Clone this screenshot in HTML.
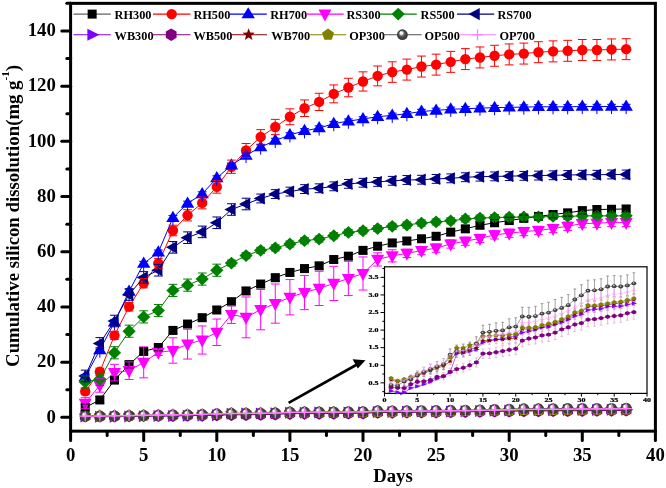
<!DOCTYPE html><html><head><meta charset="utf-8"><style>
html,body{margin:0;padding:0;background:#fff;}
body{width:666px;height:488px;overflow:hidden;position:relative;}
svg{position:absolute;left:0;top:0;will-change:transform;}
text{font-family:'Liberation Serif', serif;font-weight:bold;}
</style></head><body>
<svg width="666" height="488" viewBox="0 0 666 488">
<defs><radialGradient id="sph" cx="0.5" cy="0.5" r="0.5" fx="0.36" fy="0.28"><stop offset="0" stop-color="#ffffff"/><stop offset="0.25" stop-color="#f0f0f0"/><stop offset="0.42" stop-color="#8a8a8a"/><stop offset="0.6" stop-color="#4a4a4a"/><stop offset="1" stop-color="#333333"/></radialGradient><radialGradient id="sph2" cx="0.5" cy="0.5" r="0.5" fx="0.4" fy="0.35"><stop offset="0" stop-color="#e8e8e8"/><stop offset="0.2" stop-color="#b0b0b0"/><stop offset="0.45" stop-color="#505050"/><stop offset="1" stop-color="#2e2e2e"/></radialGradient></defs>
<rect width="666" height="488" fill="#fff"/>
<clipPath id="mc"><rect x="71" y="3" width="583" height="427"/></clipPath>
<g>
<polyline points="85.22,407.41 99.84,399.96 114.46,380.09 129.08,364.63 143.7,351.39 158.32,347.52 172.94,330.41 187.56,324.06 202.18,317.71 216.8,309.99 231.42,301.71 246.04,290.94 260.66,284.04 275.28,277.69 289.9,272.45 304.52,268.59 319.14,265.83 333.76,259.48 348.38,256.17 363,250.37 377.62,246.23 392.24,242.92 406.86,240.99 421.48,238.78 436.1,236.29 450.72,232.15 465.34,228.84 479.96,225.25 494.58,222.77 509.2,220.56 523.82,218.35 538.44,216.42 553.06,214.49 567.68,212.83 582.3,210.63 596.92,209.52 611.54,209.25 626.16,208.97" fill="none" stroke="#000000" stroke-width="1"/>
<rect x="80.72" y="402.91" width="9" height="9" fill="#000000"/>
<rect x="95.34" y="395.46" width="9" height="9" fill="#000000"/>
<rect x="109.96" y="375.59" width="9" height="9" fill="#000000"/>
<rect x="124.58" y="360.13" width="9" height="9" fill="#000000"/>
<rect x="139.2" y="346.89" width="9" height="9" fill="#000000"/>
<rect x="153.82" y="343.02" width="9" height="9" fill="#000000"/>
<rect x="168.44" y="325.91" width="9" height="9" fill="#000000"/>
<rect x="183.06" y="319.56" width="9" height="9" fill="#000000"/>
<rect x="197.68" y="313.21" width="9" height="9" fill="#000000"/>
<rect x="212.3" y="305.49" width="9" height="9" fill="#000000"/>
<rect x="226.92" y="297.21" width="9" height="9" fill="#000000"/>
<rect x="241.54" y="286.44" width="9" height="9" fill="#000000"/>
<rect x="256.16" y="279.54" width="9" height="9" fill="#000000"/>
<rect x="270.78" y="273.19" width="9" height="9" fill="#000000"/>
<rect x="285.4" y="267.95" width="9" height="9" fill="#000000"/>
<rect x="300.02" y="264.09" width="9" height="9" fill="#000000"/>
<rect x="314.64" y="261.33" width="9" height="9" fill="#000000"/>
<rect x="329.26" y="254.98" width="9" height="9" fill="#000000"/>
<rect x="343.88" y="251.67" width="9" height="9" fill="#000000"/>
<rect x="358.5" y="245.87" width="9" height="9" fill="#000000"/>
<rect x="373.12" y="241.73" width="9" height="9" fill="#000000"/>
<rect x="387.74" y="238.42" width="9" height="9" fill="#000000"/>
<rect x="402.36" y="236.49" width="9" height="9" fill="#000000"/>
<rect x="416.98" y="234.28" width="9" height="9" fill="#000000"/>
<rect x="431.6" y="231.79" width="9" height="9" fill="#000000"/>
<rect x="446.22" y="227.65" width="9" height="9" fill="#000000"/>
<rect x="460.84" y="224.34" width="9" height="9" fill="#000000"/>
<rect x="475.46" y="220.75" width="9" height="9" fill="#000000"/>
<rect x="490.08" y="218.27" width="9" height="9" fill="#000000"/>
<rect x="504.7" y="216.06" width="9" height="9" fill="#000000"/>
<rect x="519.32" y="213.85" width="9" height="9" fill="#000000"/>
<rect x="533.94" y="211.92" width="9" height="9" fill="#000000"/>
<rect x="548.56" y="209.99" width="9" height="9" fill="#000000"/>
<rect x="563.18" y="208.33" width="9" height="9" fill="#000000"/>
<rect x="577.8" y="206.13" width="9" height="9" fill="#000000"/>
<rect x="592.42" y="205.02" width="9" height="9" fill="#000000"/>
<rect x="607.04" y="204.75" width="9" height="9" fill="#000000"/>
<rect x="621.66" y="204.47" width="9" height="9" fill="#000000"/>
<polyline points="85.22,391.41 99.84,371.81 114.46,335.38 129.08,306.67 143.7,283.21 158.32,263.34 172.94,230.5 187.56,215.32 202.18,202.9 216.8,186.89 231.42,166.74 246.04,150.46 260.66,136.93 275.28,127 289.9,116.79 304.52,108.23 319.14,101.88 333.76,93.88 348.38,87.53 363,81.46 377.62,75.94 392.24,72.07 406.86,69.59 421.48,66.55 436.1,64.62 450.72,61.86 465.34,59.1 479.96,57.45 494.58,55.79 509.2,54.41 523.82,53.58 538.44,52.2 553.06,51.37 567.68,50.82 582.3,49.99 596.92,49.99 611.54,49.44 626.16,49.17" fill="none" stroke="#ff0000" stroke-width="1"/>
<circle cx="85.22" cy="391.41" r="5.2" fill="#ff0000"/>
<circle cx="99.84" cy="371.81" r="5.2" fill="#ff0000"/>
<circle cx="114.46" cy="335.38" r="5.2" fill="#ff0000"/>
<circle cx="129.08" cy="306.67" r="5.2" fill="#ff0000"/>
<circle cx="143.7" cy="283.21" r="5.2" fill="#ff0000"/>
<circle cx="158.32" cy="263.34" r="5.2" fill="#ff0000"/>
<circle cx="172.94" cy="230.5" r="5.2" fill="#ff0000"/>
<circle cx="187.56" cy="215.32" r="5.2" fill="#ff0000"/>
<circle cx="202.18" cy="202.9" r="5.2" fill="#ff0000"/>
<circle cx="216.8" cy="186.89" r="5.2" fill="#ff0000"/>
<circle cx="231.42" cy="166.74" r="5.2" fill="#ff0000"/>
<circle cx="246.04" cy="150.46" r="5.2" fill="#ff0000"/>
<circle cx="260.66" cy="136.93" r="5.2" fill="#ff0000"/>
<circle cx="275.28" cy="127" r="5.2" fill="#ff0000"/>
<circle cx="289.9" cy="116.79" r="5.2" fill="#ff0000"/>
<circle cx="304.52" cy="108.23" r="5.2" fill="#ff0000"/>
<circle cx="319.14" cy="101.88" r="5.2" fill="#ff0000"/>
<circle cx="333.76" cy="93.88" r="5.2" fill="#ff0000"/>
<circle cx="348.38" cy="87.53" r="5.2" fill="#ff0000"/>
<circle cx="363" cy="81.46" r="5.2" fill="#ff0000"/>
<circle cx="377.62" cy="75.94" r="5.2" fill="#ff0000"/>
<circle cx="392.24" cy="72.07" r="5.2" fill="#ff0000"/>
<circle cx="406.86" cy="69.59" r="5.2" fill="#ff0000"/>
<circle cx="421.48" cy="66.55" r="5.2" fill="#ff0000"/>
<circle cx="436.1" cy="64.62" r="5.2" fill="#ff0000"/>
<circle cx="450.72" cy="61.86" r="5.2" fill="#ff0000"/>
<circle cx="465.34" cy="59.1" r="5.2" fill="#ff0000"/>
<circle cx="479.96" cy="57.45" r="5.2" fill="#ff0000"/>
<circle cx="494.58" cy="55.79" r="5.2" fill="#ff0000"/>
<circle cx="509.2" cy="54.41" r="5.2" fill="#ff0000"/>
<circle cx="523.82" cy="53.58" r="5.2" fill="#ff0000"/>
<circle cx="538.44" cy="52.2" r="5.2" fill="#ff0000"/>
<circle cx="553.06" cy="51.37" r="5.2" fill="#ff0000"/>
<circle cx="567.68" cy="50.82" r="5.2" fill="#ff0000"/>
<circle cx="582.3" cy="49.99" r="5.2" fill="#ff0000"/>
<circle cx="596.92" cy="49.99" r="5.2" fill="#ff0000"/>
<circle cx="611.54" cy="49.44" r="5.2" fill="#ff0000"/>
<circle cx="626.16" cy="49.17" r="5.2" fill="#ff0000"/>
<polyline points="85.22,377 99.84,349.95 114.46,322.35 129.08,291.44 143.7,263.56 158.32,252.25 172.94,217.75 187.56,203.39 202.18,194.01 216.8,178 231.42,165.31 246.04,155.37 260.66,147.09 275.28,140.47 289.9,134.95 304.52,130.81 319.14,128.05 333.76,123.63 348.38,121.15 363,118.94 377.62,116.73 392.24,115.35 406.86,113.69 421.48,111.49 436.1,110.38 450.72,109.28 465.34,108.73 479.96,108.17 494.58,107.62 509.2,107.35 523.82,107.07 538.44,106.79 553.06,106.79 567.68,106.79 582.3,106.52 596.92,106.52 611.54,106.52 626.16,106.52" fill="none" stroke="#0000ff" stroke-width="1"/>
<polygon points="85.22,370.05 91.92,381.25 78.52,381.25" fill="#0000ff"/>
<polygon points="99.84,343.01 106.54,354.21 93.14,354.21" fill="#0000ff"/>
<polygon points="114.46,315.41 121.16,326.61 107.76,326.61" fill="#0000ff"/>
<polygon points="129.08,284.49 135.78,295.69 122.38,295.69" fill="#0000ff"/>
<polygon points="143.7,256.62 150.4,267.82 137,267.82" fill="#0000ff"/>
<polygon points="158.32,245.3 165.02,256.5 151.62,256.5" fill="#0000ff"/>
<polygon points="172.94,210.8 179.64,222 166.24,222" fill="#0000ff"/>
<polygon points="187.56,196.45 194.26,207.65 180.86,207.65" fill="#0000ff"/>
<polygon points="202.18,187.07 208.88,198.27 195.48,198.27" fill="#0000ff"/>
<polygon points="216.8,171.06 223.5,182.26 210.1,182.26" fill="#0000ff"/>
<polygon points="231.42,158.36 238.12,169.56 224.72,169.56" fill="#0000ff"/>
<polygon points="246.04,148.43 252.74,159.63 239.34,159.63" fill="#0000ff"/>
<polygon points="260.66,140.15 267.36,151.35 253.96,151.35" fill="#0000ff"/>
<polygon points="275.28,133.52 281.98,144.72 268.58,144.72" fill="#0000ff"/>
<polygon points="289.9,128 296.6,139.2 283.2,139.2" fill="#0000ff"/>
<polygon points="304.52,123.86 311.22,135.06 297.82,135.06" fill="#0000ff"/>
<polygon points="319.14,121.1 325.84,132.3 312.44,132.3" fill="#0000ff"/>
<polygon points="333.76,116.69 340.46,127.89 327.06,127.89" fill="#0000ff"/>
<polygon points="348.38,114.2 355.08,125.4 341.68,125.4" fill="#0000ff"/>
<polygon points="363,111.99 369.7,123.19 356.3,123.19" fill="#0000ff"/>
<polygon points="377.62,109.79 384.32,120.99 370.92,120.99" fill="#0000ff"/>
<polygon points="392.24,108.41 398.94,119.61 385.54,119.61" fill="#0000ff"/>
<polygon points="406.86,106.75 413.56,117.95 400.16,117.95" fill="#0000ff"/>
<polygon points="421.48,104.54 428.18,115.74 414.78,115.74" fill="#0000ff"/>
<polygon points="436.1,103.44 442.8,114.64 429.4,114.64" fill="#0000ff"/>
<polygon points="450.72,102.33 457.42,113.53 444.02,113.53" fill="#0000ff"/>
<polygon points="465.34,101.78 472.04,112.98 458.64,112.98" fill="#0000ff"/>
<polygon points="479.96,101.23 486.66,112.43 473.26,112.43" fill="#0000ff"/>
<polygon points="494.58,100.68 501.28,111.88 487.88,111.88" fill="#0000ff"/>
<polygon points="509.2,100.4 515.9,111.6 502.5,111.6" fill="#0000ff"/>
<polygon points="523.82,100.13 530.52,111.33 517.12,111.33" fill="#0000ff"/>
<polygon points="538.44,99.85 545.14,111.05 531.74,111.05" fill="#0000ff"/>
<polygon points="553.06,99.85 559.76,111.05 546.36,111.05" fill="#0000ff"/>
<polygon points="567.68,99.85 574.38,111.05 560.98,111.05" fill="#0000ff"/>
<polygon points="582.3,99.57 589,110.77 575.6,110.77" fill="#0000ff"/>
<polygon points="596.92,99.57 603.62,110.77 590.22,110.77" fill="#0000ff"/>
<polygon points="611.54,99.57 618.24,110.77 604.84,110.77" fill="#0000ff"/>
<polygon points="626.16,99.57 632.86,110.77 619.46,110.77" fill="#0000ff"/>
<polyline points="85.22,403.22 99.84,385.28 114.46,372.58 129.08,370.65 143.7,362.37 158.32,352.43 172.94,350.5 187.56,344.15 202.18,340.01 216.8,332.29 231.42,314.62 246.04,317.38 260.66,309.65 275.28,303.58 289.9,297.23 304.52,292.54 319.14,288.4 333.76,283.43 348.38,278.47 363,273.5 377.62,259.42 392.24,255.83 406.86,253.35 421.48,250.59 436.1,248.11 450.72,243.97 465.34,241.21 479.96,238.45 494.58,234.86 509.2,233.2 523.82,231.55 538.44,230.44 553.06,228.51 567.68,226.3 582.3,223.54 596.92,223.27 611.54,222.44 626.16,222.44" fill="none" stroke="#ff00ff" stroke-width="1"/>
<polygon points="78.72,398.66 91.72,398.66 85.22,410.66" fill="#ff00ff"/>
<polygon points="93.34,380.72 106.34,380.72 99.84,392.72" fill="#ff00ff"/>
<polygon points="107.96,368.02 120.96,368.02 114.46,380.02" fill="#ff00ff"/>
<polygon points="122.58,366.09 135.58,366.09 129.08,378.09" fill="#ff00ff"/>
<polygon points="137.2,357.81 150.2,357.81 143.7,369.81" fill="#ff00ff"/>
<polygon points="151.82,347.87 164.82,347.87 158.32,359.87" fill="#ff00ff"/>
<polygon points="166.44,345.94 179.44,345.94 172.94,357.94" fill="#ff00ff"/>
<polygon points="181.06,339.59 194.06,339.59 187.56,351.59" fill="#ff00ff"/>
<polygon points="195.68,335.45 208.68,335.45 202.18,347.45" fill="#ff00ff"/>
<polygon points="210.3,327.73 223.3,327.73 216.8,339.73" fill="#ff00ff"/>
<polygon points="224.92,310.06 237.92,310.06 231.42,322.06" fill="#ff00ff"/>
<polygon points="239.54,312.82 252.54,312.82 246.04,324.82" fill="#ff00ff"/>
<polygon points="254.16,305.09 267.16,305.09 260.66,317.09" fill="#ff00ff"/>
<polygon points="268.78,299.02 281.78,299.02 275.28,311.02" fill="#ff00ff"/>
<polygon points="283.4,292.67 296.4,292.67 289.9,304.67" fill="#ff00ff"/>
<polygon points="298.02,287.98 311.02,287.98 304.52,299.98" fill="#ff00ff"/>
<polygon points="312.64,283.84 325.64,283.84 319.14,295.84" fill="#ff00ff"/>
<polygon points="327.26,278.87 340.26,278.87 333.76,290.87" fill="#ff00ff"/>
<polygon points="341.88,273.91 354.88,273.91 348.38,285.91" fill="#ff00ff"/>
<polygon points="356.5,268.94 369.5,268.94 363,280.94" fill="#ff00ff"/>
<polygon points="371.12,254.86 384.12,254.86 377.62,266.86" fill="#ff00ff"/>
<polygon points="385.74,251.27 398.74,251.27 392.24,263.27" fill="#ff00ff"/>
<polygon points="400.36,248.79 413.36,248.79 406.86,260.79" fill="#ff00ff"/>
<polygon points="414.98,246.03 427.98,246.03 421.48,258.03" fill="#ff00ff"/>
<polygon points="429.6,243.55 442.6,243.55 436.1,255.55" fill="#ff00ff"/>
<polygon points="444.22,239.41 457.22,239.41 450.72,251.41" fill="#ff00ff"/>
<polygon points="458.84,236.65 471.84,236.65 465.34,248.65" fill="#ff00ff"/>
<polygon points="473.46,233.89 486.46,233.89 479.96,245.89" fill="#ff00ff"/>
<polygon points="488.08,230.3 501.08,230.3 494.58,242.3" fill="#ff00ff"/>
<polygon points="502.7,228.64 515.7,228.64 509.2,240.64" fill="#ff00ff"/>
<polygon points="517.32,226.99 530.32,226.99 523.82,238.99" fill="#ff00ff"/>
<polygon points="531.94,225.88 544.94,225.88 538.44,237.88" fill="#ff00ff"/>
<polygon points="546.56,223.95 559.56,223.95 553.06,235.95" fill="#ff00ff"/>
<polygon points="561.18,221.74 574.18,221.74 567.68,233.74" fill="#ff00ff"/>
<polygon points="575.8,218.98 588.8,218.98 582.3,230.98" fill="#ff00ff"/>
<polygon points="590.42,218.71 603.42,218.71 596.92,230.71" fill="#ff00ff"/>
<polygon points="605.04,217.88 618.04,217.88 611.54,229.88" fill="#ff00ff"/>
<polygon points="619.66,217.88 632.66,217.88 626.16,229.88" fill="#ff00ff"/>
<polyline points="85.22,382.02 99.84,379.26 114.46,352.77 129.08,331.24 143.7,316.89 158.32,310.54 172.94,290.39 187.56,285.15 202.18,279.07 216.8,270.24 231.42,263.07 246.04,255.61 260.66,250.37 275.28,247.89 289.9,244.02 304.52,240.71 319.14,239.05 333.76,235.74 348.38,232.43 363,230.77 377.62,228.57 392.24,226.36 406.86,224.98 421.48,223.05 436.1,221.94 450.72,220.84 465.34,218.91 479.96,218.08 494.58,217.53 509.2,217.25 523.82,216.97 538.44,216.97 553.06,216.42 567.68,216.42 582.3,215.87 596.92,215.87 611.54,215.87 626.16,215.87" fill="none" stroke="#008000" stroke-width="1"/>
<polygon points="85.22,375.62 91.82,382.02 85.22,388.42 78.62,382.02" fill="#008000"/>
<polygon points="99.84,372.86 106.44,379.26 99.84,385.66 93.24,379.26" fill="#008000"/>
<polygon points="114.46,346.37 121.06,352.77 114.46,359.17 107.86,352.77" fill="#008000"/>
<polygon points="129.08,324.84 135.68,331.24 129.08,337.64 122.48,331.24" fill="#008000"/>
<polygon points="143.7,310.49 150.3,316.89 143.7,323.29 137.1,316.89" fill="#008000"/>
<polygon points="158.32,304.14 164.92,310.54 158.32,316.94 151.72,310.54" fill="#008000"/>
<polygon points="172.94,283.99 179.54,290.39 172.94,296.79 166.34,290.39" fill="#008000"/>
<polygon points="187.56,278.75 194.16,285.15 187.56,291.55 180.96,285.15" fill="#008000"/>
<polygon points="202.18,272.67 208.78,279.07 202.18,285.47 195.58,279.07" fill="#008000"/>
<polygon points="216.8,263.84 223.4,270.24 216.8,276.64 210.2,270.24" fill="#008000"/>
<polygon points="231.42,256.67 238.02,263.07 231.42,269.47 224.82,263.07" fill="#008000"/>
<polygon points="246.04,249.21 252.64,255.61 246.04,262.01 239.44,255.61" fill="#008000"/>
<polygon points="260.66,243.97 267.26,250.37 260.66,256.77 254.06,250.37" fill="#008000"/>
<polygon points="275.28,241.49 281.88,247.89 275.28,254.29 268.68,247.89" fill="#008000"/>
<polygon points="289.9,237.62 296.5,244.02 289.9,250.42 283.3,244.02" fill="#008000"/>
<polygon points="304.52,234.31 311.12,240.71 304.52,247.11 297.92,240.71" fill="#008000"/>
<polygon points="319.14,232.65 325.74,239.05 319.14,245.45 312.54,239.05" fill="#008000"/>
<polygon points="333.76,229.34 340.36,235.74 333.76,242.14 327.16,235.74" fill="#008000"/>
<polygon points="348.38,226.03 354.98,232.43 348.38,238.83 341.78,232.43" fill="#008000"/>
<polygon points="363,224.37 369.6,230.77 363,237.17 356.4,230.77" fill="#008000"/>
<polygon points="377.62,222.17 384.22,228.57 377.62,234.97 371.02,228.57" fill="#008000"/>
<polygon points="392.24,219.96 398.84,226.36 392.24,232.76 385.64,226.36" fill="#008000"/>
<polygon points="406.86,218.58 413.46,224.98 406.86,231.38 400.26,224.98" fill="#008000"/>
<polygon points="421.48,216.65 428.08,223.05 421.48,229.45 414.88,223.05" fill="#008000"/>
<polygon points="436.1,215.54 442.7,221.94 436.1,228.34 429.5,221.94" fill="#008000"/>
<polygon points="450.72,214.44 457.32,220.84 450.72,227.24 444.12,220.84" fill="#008000"/>
<polygon points="465.34,212.51 471.94,218.91 465.34,225.31 458.74,218.91" fill="#008000"/>
<polygon points="479.96,211.68 486.56,218.08 479.96,224.48 473.36,218.08" fill="#008000"/>
<polygon points="494.58,211.13 501.18,217.53 494.58,223.93 487.98,217.53" fill="#008000"/>
<polygon points="509.2,210.85 515.8,217.25 509.2,223.65 502.6,217.25" fill="#008000"/>
<polygon points="523.82,210.57 530.42,216.97 523.82,223.37 517.22,216.97" fill="#008000"/>
<polygon points="538.44,210.57 545.04,216.97 538.44,223.37 531.84,216.97" fill="#008000"/>
<polygon points="553.06,210.02 559.66,216.42 553.06,222.82 546.46,216.42" fill="#008000"/>
<polygon points="567.68,210.02 574.28,216.42 567.68,222.82 561.08,216.42" fill="#008000"/>
<polygon points="582.3,209.47 588.9,215.87 582.3,222.27 575.7,215.87" fill="#008000"/>
<polygon points="596.92,209.47 603.52,215.87 596.92,222.27 590.32,215.87" fill="#008000"/>
<polygon points="611.54,209.47 618.14,215.87 611.54,222.27 604.94,215.87" fill="#008000"/>
<polygon points="626.16,209.47 632.76,215.87 626.16,222.27 619.56,215.87" fill="#008000"/>
<polyline points="85.22,375.95 99.84,343.38 114.46,321.03 129.08,294.53 143.7,277.42 158.32,270.24 172.94,247.33 187.56,237.67 202.18,231.88 216.8,222.77 231.42,209.52 246.04,204 260.66,198.48 275.28,194.07 289.9,191.58 304.52,189.1 319.14,188.27 333.76,186.34 348.38,183.85 363,182.75 377.62,181.92 392.24,180.82 406.86,179.99 421.48,179.71 436.1,178.89 450.72,178.33 465.34,177.23 479.96,176.68 494.58,176.4 509.2,176.13 523.82,175.85 538.44,175.57 553.06,175.3 567.68,175.02 582.3,174.75 596.92,174.75 611.54,174.47 626.16,174.47" fill="none" stroke="#000080" stroke-width="1"/>
<polygon points="78.16,375.95 89.36,369.85 89.36,382.05" fill="#000080"/>
<polygon points="92.78,343.38 103.98,337.28 103.98,349.48" fill="#000080"/>
<polygon points="107.4,321.03 118.6,314.93 118.6,327.13" fill="#000080"/>
<polygon points="122.02,294.53 133.22,288.43 133.22,300.63" fill="#000080"/>
<polygon points="136.64,277.42 147.84,271.32 147.84,283.52" fill="#000080"/>
<polygon points="151.26,270.24 162.46,264.14 162.46,276.34" fill="#000080"/>
<polygon points="165.88,247.33 177.08,241.23 177.08,253.43" fill="#000080"/>
<polygon points="180.5,237.67 191.7,231.57 191.7,243.77" fill="#000080"/>
<polygon points="195.12,231.88 206.32,225.78 206.32,237.98" fill="#000080"/>
<polygon points="209.74,222.77 220.94,216.67 220.94,228.87" fill="#000080"/>
<polygon points="224.36,209.52 235.56,203.42 235.56,215.62" fill="#000080"/>
<polygon points="238.98,204 250.18,197.9 250.18,210.1" fill="#000080"/>
<polygon points="253.6,198.48 264.8,192.38 264.8,204.58" fill="#000080"/>
<polygon points="268.22,194.07 279.42,187.97 279.42,200.17" fill="#000080"/>
<polygon points="282.84,191.58 294.04,185.48 294.04,197.68" fill="#000080"/>
<polygon points="297.46,189.1 308.66,183 308.66,195.2" fill="#000080"/>
<polygon points="312.08,188.27 323.28,182.17 323.28,194.37" fill="#000080"/>
<polygon points="326.7,186.34 337.9,180.24 337.9,192.44" fill="#000080"/>
<polygon points="341.32,183.85 352.52,177.75 352.52,189.95" fill="#000080"/>
<polygon points="355.94,182.75 367.14,176.65 367.14,188.85" fill="#000080"/>
<polygon points="370.56,181.92 381.76,175.82 381.76,188.02" fill="#000080"/>
<polygon points="385.18,180.82 396.38,174.72 396.38,186.92" fill="#000080"/>
<polygon points="399.8,179.99 411,173.89 411,186.09" fill="#000080"/>
<polygon points="414.42,179.71 425.62,173.61 425.62,185.81" fill="#000080"/>
<polygon points="429.04,178.89 440.24,172.79 440.24,184.99" fill="#000080"/>
<polygon points="443.66,178.33 454.86,172.23 454.86,184.43" fill="#000080"/>
<polygon points="458.28,177.23 469.48,171.13 469.48,183.33" fill="#000080"/>
<polygon points="472.9,176.68 484.1,170.58 484.1,182.78" fill="#000080"/>
<polygon points="487.52,176.4 498.72,170.3 498.72,182.5" fill="#000080"/>
<polygon points="502.14,176.13 513.34,170.03 513.34,182.23" fill="#000080"/>
<polygon points="516.76,175.85 527.96,169.75 527.96,181.95" fill="#000080"/>
<polygon points="531.38,175.57 542.58,169.47 542.58,181.67" fill="#000080"/>
<polygon points="546,175.3 557.2,169.2 557.2,181.4" fill="#000080"/>
<polygon points="560.62,175.02 571.82,168.92 571.82,181.12" fill="#000080"/>
<polygon points="575.24,174.75 586.44,168.65 586.44,180.85" fill="#000080"/>
<polygon points="589.86,174.75 601.06,168.65 601.06,180.85" fill="#000080"/>
<polygon points="604.48,174.47 615.68,168.37 615.68,180.57" fill="#000080"/>
<polygon points="619.1,174.47 630.3,168.37 630.3,180.57" fill="#000080"/>
<polyline points="85.22,416.6 99.84,416.72 114.46,416.72 129.08,416.38 143.7,416.25 158.32,416.08 172.94,415.89 187.56,415.64 202.18,415.47 216.8,415.14 231.42,413.68 246.04,413.62 260.66,413.49 275.28,413.35 289.9,412.8 304.52,412.66 319.14,412.58 333.76,412.49 348.38,412.38 363,412.27 377.62,412.02 392.24,411.91 406.86,411.8 421.48,411.61 436.1,411.58 450.72,411.39 465.34,411.22 479.96,411 494.58,410.73 509.2,410.59 523.82,410.26 538.44,410.2 553.06,410.15 567.68,409.98 582.3,409.95 596.92,409.95 611.54,409.82 626.16,409.73" fill="none" stroke="#8000ff" stroke-width="1"/>
<polygon points="92.42,416.6 80.42,410.6 80.42,422.6" fill="#8000ff"/>
<polygon points="107.04,416.72 95.04,410.72 95.04,422.72" fill="#8000ff"/>
<polygon points="121.66,416.72 109.66,410.72 109.66,422.72" fill="#8000ff"/>
<polygon points="136.28,416.38 124.28,410.38 124.28,422.38" fill="#8000ff"/>
<polygon points="150.9,416.25 138.9,410.25 138.9,422.25" fill="#8000ff"/>
<polygon points="165.52,416.08 153.52,410.08 153.52,422.08" fill="#8000ff"/>
<polygon points="180.14,415.89 168.14,409.89 168.14,421.89" fill="#8000ff"/>
<polygon points="194.76,415.64 182.76,409.64 182.76,421.64" fill="#8000ff"/>
<polygon points="209.38,415.47 197.38,409.47 197.38,421.47" fill="#8000ff"/>
<polygon points="224,415.14 212,409.14 212,421.14" fill="#8000ff"/>
<polygon points="238.62,413.68 226.62,407.68 226.62,419.68" fill="#8000ff"/>
<polygon points="253.24,413.62 241.24,407.62 241.24,419.62" fill="#8000ff"/>
<polygon points="267.86,413.49 255.86,407.49 255.86,419.49" fill="#8000ff"/>
<polygon points="282.48,413.35 270.48,407.35 270.48,419.35" fill="#8000ff"/>
<polygon points="297.1,412.8 285.1,406.8 285.1,418.8" fill="#8000ff"/>
<polygon points="311.72,412.66 299.72,406.66 299.72,418.66" fill="#8000ff"/>
<polygon points="326.34,412.58 314.34,406.58 314.34,418.58" fill="#8000ff"/>
<polygon points="340.96,412.49 328.96,406.49 328.96,418.49" fill="#8000ff"/>
<polygon points="355.58,412.38 343.58,406.38 343.58,418.38" fill="#8000ff"/>
<polygon points="370.2,412.27 358.2,406.27 358.2,418.27" fill="#8000ff"/>
<polygon points="384.82,412.02 372.82,406.02 372.82,418.02" fill="#8000ff"/>
<polygon points="399.44,411.91 387.44,405.91 387.44,417.91" fill="#8000ff"/>
<polygon points="414.06,411.8 402.06,405.8 402.06,417.8" fill="#8000ff"/>
<polygon points="428.68,411.61 416.68,405.61 416.68,417.61" fill="#8000ff"/>
<polygon points="443.3,411.58 431.3,405.58 431.3,417.58" fill="#8000ff"/>
<polygon points="457.92,411.39 445.92,405.39 445.92,417.39" fill="#8000ff"/>
<polygon points="472.54,411.22 460.54,405.22 460.54,417.22" fill="#8000ff"/>
<polygon points="487.16,411 475.16,405 475.16,417" fill="#8000ff"/>
<polygon points="501.78,410.73 489.78,404.73 489.78,416.73" fill="#8000ff"/>
<polygon points="516.4,410.59 504.4,404.59 504.4,416.59" fill="#8000ff"/>
<polygon points="531.02,410.26 519.02,404.26 519.02,416.26" fill="#8000ff"/>
<polygon points="545.64,410.2 533.64,404.2 533.64,416.2" fill="#8000ff"/>
<polygon points="560.26,410.15 548.26,404.15 548.26,416.15" fill="#8000ff"/>
<polygon points="574.88,409.98 562.88,403.98 562.88,415.98" fill="#8000ff"/>
<polygon points="589.5,409.95 577.5,403.95 577.5,415.95" fill="#8000ff"/>
<polygon points="604.12,409.95 592.12,403.95 592.12,415.95" fill="#8000ff"/>
<polygon points="618.74,409.82 606.74,403.82 606.74,415.82" fill="#8000ff"/>
<polygon points="633.36,409.73 621.36,403.73 621.36,415.73" fill="#8000ff"/>
<polyline points="85.22,416.33 99.84,416.36 114.46,416.38 129.08,416.08 143.7,415.89 158.32,415.86 172.94,415.75 187.56,415.5 202.18,415.45 216.8,415.11 231.42,414.89 246.04,414.78 260.66,414.59 275.28,414.37 289.9,413.68 304.52,413.65 319.14,413.57 333.76,413.49 348.38,413.38 363,413.29 377.62,412.66 392.24,412.49 406.86,412.41 421.48,412.24 436.1,412.19 450.72,412.02 465.34,411.77 479.96,411.61 494.58,411.39 509.2,411.28 523.82,411 538.44,410.97 553.06,410.89 567.68,410.78 582.3,410.73 596.92,410.67 611.54,410.51 626.16,410.42" fill="none" stroke="#800080" stroke-width="1"/>
<polygon points="85.22,422.53 79.85,419.43 79.85,413.23 85.22,410.13 90.59,413.23 90.59,419.43" fill="#800080"/>
<polygon points="99.84,422.56 94.47,419.46 94.47,413.26 99.84,410.16 105.21,413.26 105.21,419.46" fill="#800080"/>
<polygon points="114.46,422.58 109.09,419.48 109.09,413.28 114.46,410.18 119.83,413.28 119.83,419.48" fill="#800080"/>
<polygon points="129.08,422.28 123.71,419.18 123.71,412.98 129.08,409.88 134.45,412.98 134.45,419.18" fill="#800080"/>
<polygon points="143.7,422.09 138.33,418.99 138.33,412.79 143.7,409.69 149.07,412.79 149.07,418.99" fill="#800080"/>
<polygon points="158.32,422.06 152.95,418.96 152.95,412.76 158.32,409.66 163.69,412.76 163.69,418.96" fill="#800080"/>
<polygon points="172.94,421.95 167.57,418.85 167.57,412.65 172.94,409.55 178.31,412.65 178.31,418.85" fill="#800080"/>
<polygon points="187.56,421.7 182.19,418.6 182.19,412.4 187.56,409.3 192.93,412.4 192.93,418.6" fill="#800080"/>
<polygon points="202.18,421.65 196.81,418.55 196.81,412.35 202.18,409.25 207.55,412.35 207.55,418.55" fill="#800080"/>
<polygon points="216.8,421.31 211.43,418.21 211.43,412.01 216.8,408.91 222.17,412.01 222.17,418.21" fill="#800080"/>
<polygon points="231.42,421.09 226.05,417.99 226.05,411.79 231.42,408.69 236.79,411.79 236.79,417.99" fill="#800080"/>
<polygon points="246.04,420.98 240.67,417.88 240.67,411.68 246.04,408.58 251.41,411.68 251.41,417.88" fill="#800080"/>
<polygon points="260.66,420.79 255.29,417.69 255.29,411.49 260.66,408.39 266.03,411.49 266.03,417.69" fill="#800080"/>
<polygon points="275.28,420.57 269.91,417.47 269.91,411.27 275.28,408.17 280.65,411.27 280.65,417.47" fill="#800080"/>
<polygon points="289.9,419.88 284.53,416.78 284.53,410.58 289.9,407.48 295.27,410.58 295.27,416.78" fill="#800080"/>
<polygon points="304.52,419.85 299.15,416.75 299.15,410.55 304.52,407.45 309.89,410.55 309.89,416.75" fill="#800080"/>
<polygon points="319.14,419.77 313.77,416.67 313.77,410.47 319.14,407.37 324.51,410.47 324.51,416.67" fill="#800080"/>
<polygon points="333.76,419.69 328.39,416.59 328.39,410.39 333.76,407.29 339.13,410.39 339.13,416.59" fill="#800080"/>
<polygon points="348.38,419.58 343.01,416.48 343.01,410.28 348.38,407.18 353.75,410.28 353.75,416.48" fill="#800080"/>
<polygon points="363,419.49 357.63,416.39 357.63,410.19 363,407.09 368.37,410.19 368.37,416.39" fill="#800080"/>
<polygon points="377.62,418.86 372.25,415.76 372.25,409.56 377.62,406.46 382.99,409.56 382.99,415.76" fill="#800080"/>
<polygon points="392.24,418.69 386.87,415.59 386.87,409.39 392.24,406.29 397.61,409.39 397.61,415.59" fill="#800080"/>
<polygon points="406.86,418.61 401.49,415.51 401.49,409.31 406.86,406.21 412.23,409.31 412.23,415.51" fill="#800080"/>
<polygon points="421.48,418.44 416.11,415.34 416.11,409.14 421.48,406.04 426.85,409.14 426.85,415.34" fill="#800080"/>
<polygon points="436.1,418.39 430.73,415.29 430.73,409.09 436.1,405.99 441.47,409.09 441.47,415.29" fill="#800080"/>
<polygon points="450.72,418.22 445.35,415.12 445.35,408.92 450.72,405.82 456.09,408.92 456.09,415.12" fill="#800080"/>
<polygon points="465.34,417.97 459.97,414.87 459.97,408.67 465.34,405.57 470.71,408.67 470.71,414.87" fill="#800080"/>
<polygon points="479.96,417.81 474.59,414.71 474.59,408.51 479.96,405.41 485.33,408.51 485.33,414.71" fill="#800080"/>
<polygon points="494.58,417.59 489.21,414.49 489.21,408.29 494.58,405.19 499.95,408.29 499.95,414.49" fill="#800080"/>
<polygon points="509.2,417.48 503.83,414.38 503.83,408.18 509.2,405.08 514.57,408.18 514.57,414.38" fill="#800080"/>
<polygon points="523.82,417.2 518.45,414.1 518.45,407.9 523.82,404.8 529.19,407.9 529.19,414.1" fill="#800080"/>
<polygon points="538.44,417.17 533.07,414.07 533.07,407.87 538.44,404.77 543.81,407.87 543.81,414.07" fill="#800080"/>
<polygon points="553.06,417.09 547.69,413.99 547.69,407.79 553.06,404.69 558.43,407.79 558.43,413.99" fill="#800080"/>
<polygon points="567.68,416.98 562.31,413.88 562.31,407.68 567.68,404.58 573.05,407.68 573.05,413.88" fill="#800080"/>
<polygon points="582.3,416.93 576.93,413.83 576.93,407.63 582.3,404.53 587.67,407.63 587.67,413.83" fill="#800080"/>
<polygon points="596.92,416.87 591.55,413.77 591.55,407.57 596.92,404.47 602.29,407.57 602.29,413.77" fill="#800080"/>
<polygon points="611.54,416.71 606.17,413.61 606.17,407.41 611.54,404.31 616.91,407.41 616.91,413.61" fill="#800080"/>
<polygon points="626.16,416.62 620.79,413.52 620.79,407.32 626.16,404.22 631.53,407.32 631.53,413.52" fill="#800080"/>
<polyline points="85.22,415.72 99.84,415.91 114.46,415.8 129.08,415.64 143.7,415.39 158.32,415.22 172.94,415 187.56,414.81 202.18,414.65 216.8,414.29 231.42,413.57 246.04,413.57 260.66,413.35 275.28,413.21 289.9,412.66 304.52,412.63 319.14,412.58 333.76,412.58 348.38,412.52 363,412.46 377.62,411.75 392.24,411.75 406.86,411.72 421.48,411.55 436.1,411.44 450.72,411.31 465.34,411.08 479.96,410.86 494.58,410.56 509.2,410.42 523.82,409.98 538.44,410.01 553.06,409.93 567.68,409.84 582.3,409.76 596.92,409.7 611.54,409.57 626.16,409.46" fill="none" stroke="#800000" stroke-width="1"/>
<polygon points="85.22,409.22 86.82,413.51 91.4,413.71 87.82,416.57 89.04,420.98 85.22,418.45 81.4,420.98 82.62,416.57 79.04,413.71 83.62,413.51" fill="#800000"/>
<polygon points="99.84,409.41 101.44,413.71 106.02,413.91 102.44,416.76 103.66,421.17 99.84,418.64 96.02,421.17 97.24,416.76 93.66,413.91 98.24,413.71" fill="#800000"/>
<polygon points="114.46,409.3 116.06,413.6 120.64,413.8 117.06,416.65 118.28,421.06 114.46,418.53 110.64,421.06 111.86,416.65 108.28,413.8 112.86,413.6" fill="#800000"/>
<polygon points="129.08,409.14 130.68,413.43 135.26,413.63 131.68,416.48 132.9,420.9 129.08,418.37 125.26,420.9 126.48,416.48 122.9,413.63 127.48,413.43" fill="#800000"/>
<polygon points="143.7,408.89 145.3,413.18 149.88,413.38 146.3,416.23 147.52,420.65 143.7,418.12 139.88,420.65 141.1,416.23 137.52,413.38 142.1,413.18" fill="#800000"/>
<polygon points="158.32,408.72 159.92,413.02 164.5,413.22 160.92,416.07 162.14,420.48 158.32,417.95 154.5,420.48 155.72,416.07 152.14,413.22 156.72,413.02" fill="#800000"/>
<polygon points="172.94,408.5 174.54,412.8 179.12,413 175.54,415.85 176.76,420.26 172.94,417.73 169.12,420.26 170.34,415.85 166.76,413 171.34,412.8" fill="#800000"/>
<polygon points="187.56,408.31 189.16,412.6 193.74,412.8 190.16,415.65 191.38,420.07 187.56,417.54 183.74,420.07 184.96,415.65 181.38,412.8 185.96,412.6" fill="#800000"/>
<polygon points="202.18,408.15 203.78,412.44 208.36,412.64 204.78,415.49 206,419.9 202.18,417.38 198.36,419.9 199.58,415.49 196,412.64 200.58,412.44" fill="#800000"/>
<polygon points="216.8,407.79 218.4,412.08 222.98,412.28 219.4,415.13 220.62,419.55 216.8,417.02 212.98,419.55 214.2,415.13 210.62,412.28 215.2,412.08" fill="#800000"/>
<polygon points="231.42,407.07 233.02,411.36 237.6,411.56 234.02,414.41 235.24,418.83 231.42,416.3 227.6,418.83 228.82,414.41 225.24,411.56 229.82,411.36" fill="#800000"/>
<polygon points="246.04,407.07 247.64,411.36 252.22,411.56 248.64,414.41 249.86,418.83 246.04,416.3 242.22,418.83 243.44,414.41 239.86,411.56 244.44,411.36" fill="#800000"/>
<polygon points="260.66,406.85 262.26,411.14 266.84,411.34 263.26,414.19 264.48,418.61 260.66,416.08 256.84,418.61 258.06,414.19 254.48,411.34 259.06,411.14" fill="#800000"/>
<polygon points="275.28,406.71 276.88,411 281.46,411.2 277.88,414.05 279.1,418.47 275.28,415.94 271.46,418.47 272.68,414.05 269.1,411.2 273.68,411" fill="#800000"/>
<polygon points="289.9,406.16 291.5,410.45 296.08,410.65 292.5,413.5 293.72,417.92 289.9,415.39 286.08,417.92 287.3,413.5 283.72,410.65 288.3,410.45" fill="#800000"/>
<polygon points="304.52,406.13 306.12,410.42 310.7,410.62 307.12,413.47 308.34,417.89 304.52,415.36 300.7,417.89 301.92,413.47 298.34,410.62 302.92,410.42" fill="#800000"/>
<polygon points="319.14,406.08 320.74,410.37 325.32,410.57 321.74,413.42 322.96,417.83 319.14,415.31 315.32,417.83 316.54,413.42 312.96,410.57 317.54,410.37" fill="#800000"/>
<polygon points="333.76,406.08 335.36,410.37 339.94,410.57 336.36,413.42 337.58,417.83 333.76,415.31 329.94,417.83 331.16,413.42 327.58,410.57 332.16,410.37" fill="#800000"/>
<polygon points="348.38,406.02 349.98,410.31 354.56,410.51 350.98,413.36 352.2,417.78 348.38,415.25 344.56,417.78 345.78,413.36 342.2,410.51 346.78,410.31" fill="#800000"/>
<polygon points="363,405.96 364.6,410.26 369.18,410.46 365.6,413.31 366.82,417.72 363,415.19 359.18,417.72 360.4,413.31 356.82,410.46 361.4,410.26" fill="#800000"/>
<polygon points="377.62,405.25 379.22,409.54 383.8,409.74 380.22,412.59 381.44,417.01 377.62,414.48 373.8,417.01 375.02,412.59 371.44,409.74 376.02,409.54" fill="#800000"/>
<polygon points="392.24,405.25 393.84,409.54 398.42,409.74 394.84,412.59 396.06,417.01 392.24,414.48 388.42,417.01 389.64,412.59 386.06,409.74 390.64,409.54" fill="#800000"/>
<polygon points="406.86,405.22 408.46,409.51 413.04,409.71 409.46,412.56 410.68,416.98 406.86,414.45 403.04,416.98 404.26,412.56 400.68,409.71 405.26,409.51" fill="#800000"/>
<polygon points="421.48,405.05 423.08,409.35 427.66,409.55 424.08,412.4 425.3,416.81 421.48,414.28 417.66,416.81 418.88,412.4 415.3,409.55 419.88,409.35" fill="#800000"/>
<polygon points="436.1,404.94 437.7,409.23 442.28,409.43 438.7,412.29 439.92,416.7 436.1,414.17 432.28,416.7 433.5,412.29 429.92,409.43 434.5,409.23" fill="#800000"/>
<polygon points="450.72,404.81 452.32,409.1 456.9,409.3 453.32,412.15 454.54,416.56 450.72,414.04 446.9,416.56 448.12,412.15 444.54,409.3 449.12,409.1" fill="#800000"/>
<polygon points="465.34,404.58 466.94,408.88 471.52,409.08 467.94,411.93 469.16,416.34 465.34,413.81 461.52,416.34 462.74,411.93 459.16,409.08 463.74,408.88" fill="#800000"/>
<polygon points="479.96,404.36 481.56,408.66 486.14,408.86 482.56,411.71 483.78,416.12 479.96,413.59 476.14,416.12 477.36,411.71 473.78,408.86 478.36,408.66" fill="#800000"/>
<polygon points="494.58,404.06 496.18,408.35 500.76,408.55 497.18,411.4 498.4,415.82 494.58,413.29 490.76,415.82 491.98,411.4 488.4,408.55 492.98,408.35" fill="#800000"/>
<polygon points="509.2,403.92 510.8,408.21 515.38,408.41 511.8,411.27 513.02,415.68 509.2,413.15 505.38,415.68 506.6,411.27 503.02,408.41 507.6,408.21" fill="#800000"/>
<polygon points="523.82,403.48 525.42,407.77 530,407.97 526.42,410.82 527.64,415.24 523.82,412.71 520,415.24 521.22,410.82 517.64,407.97 522.22,407.77" fill="#800000"/>
<polygon points="538.44,403.51 540.04,407.8 544.62,408 541.04,410.85 542.26,415.27 538.44,412.74 534.62,415.27 535.84,410.85 532.26,408 536.84,407.8" fill="#800000"/>
<polygon points="553.06,403.43 554.66,407.72 559.24,407.92 555.66,410.77 556.88,415.18 553.06,412.66 549.24,415.18 550.46,410.77 546.88,407.92 551.46,407.72" fill="#800000"/>
<polygon points="567.68,403.34 569.28,407.63 573.86,407.83 570.28,410.69 571.5,415.1 567.68,412.57 563.86,415.1 565.08,410.69 561.5,407.83 566.08,407.63" fill="#800000"/>
<polygon points="582.3,403.26 583.9,407.55 588.48,407.75 584.9,410.6 586.12,415.02 582.3,412.49 578.48,415.02 579.7,410.6 576.12,407.75 580.7,407.55" fill="#800000"/>
<polygon points="596.92,403.2 598.52,407.5 603.1,407.7 599.52,410.55 600.74,414.96 596.92,412.43 593.1,414.96 594.32,410.55 590.74,407.7 595.32,407.5" fill="#800000"/>
<polygon points="611.54,403.07 613.14,407.36 617.72,407.56 614.14,410.41 615.36,414.83 611.54,412.3 607.72,414.83 608.94,410.41 605.36,407.56 609.94,407.36" fill="#800000"/>
<polygon points="626.16,402.96 627.76,407.25 632.34,407.45 628.76,410.3 629.98,414.72 626.16,412.19 622.34,414.72 623.56,410.3 619.98,407.45 624.56,407.25" fill="#800000"/>
<polyline points="85.22,415.61 99.84,415.8 114.46,415.69 129.08,415.53 143.7,415.28 158.32,415.11 172.94,414.89 187.56,414.7 202.18,414.53 216.8,413.96 231.42,413.24 246.04,413.24 260.66,413.02 275.28,412.88 289.9,412.33 304.52,412.3 319.14,412.24 333.76,412.24 348.38,412.19 363,412.13 377.62,411.64 392.24,411.64 406.86,411.61 421.48,411.44 436.1,411.33 450.72,411.2 465.34,410.97 479.96,410.75 494.58,410.45 509.2,410.31 523.82,409.87 538.44,409.9 553.06,409.82 567.68,409.73 582.3,409.65 596.92,409.59 611.54,409.46 626.16,409.35" fill="none" stroke="#808000" stroke-width="1"/>
<polygon points="85.22,409.31 91.21,413.66 88.92,420.71 81.52,420.71 79.23,413.66" fill="#808000"/>
<polygon points="99.84,409.5 105.83,413.86 103.54,420.9 96.14,420.9 93.85,413.86" fill="#808000"/>
<polygon points="114.46,409.39 120.45,413.75 118.16,420.79 110.76,420.79 108.47,413.75" fill="#808000"/>
<polygon points="129.08,409.23 135.07,413.58 132.78,420.63 125.38,420.63 123.09,413.58" fill="#808000"/>
<polygon points="143.7,408.98 149.69,413.33 147.4,420.38 140,420.38 137.71,413.33" fill="#808000"/>
<polygon points="158.32,408.81 164.31,413.17 162.02,420.21 154.62,420.21 152.33,413.17" fill="#808000"/>
<polygon points="172.94,408.59 178.93,412.95 176.64,419.99 169.24,419.99 166.95,412.95" fill="#808000"/>
<polygon points="187.56,408.4 193.55,412.75 191.26,419.8 183.86,419.8 181.57,412.75" fill="#808000"/>
<polygon points="202.18,408.23 208.17,412.59 205.88,419.63 198.48,419.63 196.19,412.59" fill="#808000"/>
<polygon points="216.8,407.66 222.79,412.01 220.5,419.05 213.1,419.05 210.81,412.01" fill="#808000"/>
<polygon points="231.42,406.94 237.41,411.29 235.12,418.33 227.72,418.33 225.43,411.29" fill="#808000"/>
<polygon points="246.04,406.94 252.03,411.29 249.74,418.33 242.34,418.33 240.05,411.29" fill="#808000"/>
<polygon points="260.66,406.72 266.65,411.07 264.36,418.11 256.96,418.11 254.67,411.07" fill="#808000"/>
<polygon points="275.28,406.58 281.27,410.93 278.98,417.98 271.58,417.98 269.29,410.93" fill="#808000"/>
<polygon points="289.9,406.03 295.89,410.38 293.6,417.42 286.2,417.42 283.91,410.38" fill="#808000"/>
<polygon points="304.52,406 310.51,410.35 308.22,417.4 300.82,417.4 298.53,410.35" fill="#808000"/>
<polygon points="319.14,405.94 325.13,410.3 322.84,417.34 315.44,417.34 313.15,410.3" fill="#808000"/>
<polygon points="333.76,405.94 339.75,410.3 337.46,417.34 330.06,417.34 327.77,410.3" fill="#808000"/>
<polygon points="348.38,405.89 354.37,410.24 352.08,417.29 344.68,417.29 342.39,410.24" fill="#808000"/>
<polygon points="363,405.83 368.99,410.19 366.7,417.23 359.3,417.23 357.01,410.19" fill="#808000"/>
<polygon points="377.62,405.34 383.61,409.69 381.32,416.73 373.92,416.73 371.63,409.69" fill="#808000"/>
<polygon points="392.24,405.34 398.23,409.69 395.94,416.73 388.54,416.73 386.25,409.69" fill="#808000"/>
<polygon points="406.86,405.31 412.85,409.66 410.56,416.71 403.16,416.71 400.87,409.66" fill="#808000"/>
<polygon points="421.48,405.14 427.47,409.5 425.18,416.54 417.78,416.54 415.49,409.5" fill="#808000"/>
<polygon points="436.1,405.03 442.09,409.39 439.8,416.43 432.4,416.43 430.11,409.39" fill="#808000"/>
<polygon points="450.72,404.9 456.71,409.25 454.42,416.29 447.02,416.29 444.73,409.25" fill="#808000"/>
<polygon points="465.34,404.67 471.33,409.03 469.04,416.07 461.64,416.07 459.35,409.03" fill="#808000"/>
<polygon points="479.96,404.45 485.95,408.81 483.66,415.85 476.26,415.85 473.97,408.81" fill="#808000"/>
<polygon points="494.58,404.15 500.57,408.5 498.28,415.55 490.88,415.55 488.59,408.5" fill="#808000"/>
<polygon points="509.2,404.01 515.19,408.37 512.9,415.41 505.5,415.41 503.21,408.37" fill="#808000"/>
<polygon points="523.82,403.57 529.81,407.92 527.52,414.97 520.12,414.97 517.83,407.92" fill="#808000"/>
<polygon points="538.44,403.6 544.43,407.95 542.14,414.99 534.74,414.99 532.45,407.95" fill="#808000"/>
<polygon points="553.06,403.52 559.05,407.87 556.76,414.91 549.36,414.91 547.07,407.87" fill="#808000"/>
<polygon points="567.68,403.43 573.67,407.79 571.38,414.83 563.98,414.83 561.69,407.79" fill="#808000"/>
<polygon points="582.3,403.35 588.29,407.7 586,414.75 578.6,414.75 576.31,407.7" fill="#808000"/>
<polygon points="596.92,403.29 602.91,407.65 600.62,414.69 593.22,414.69 590.93,407.65" fill="#808000"/>
<polygon points="611.54,403.16 617.53,407.51 615.24,414.55 607.84,414.55 605.55,407.51" fill="#808000"/>
<polygon points="626.16,403.05 632.15,407.4 629.86,414.44 622.46,414.44 620.17,407.4" fill="#808000"/>
<polyline points="85.22,416.14 99.84,416.19 114.46,415.86 129.08,415.69 143.7,415.39 158.32,415.11 172.94,414.89 187.56,414.7 202.18,414.51 216.8,413.76 231.42,413.49 246.04,413.43 260.66,413.29 275.28,412.91 289.9,412.02 304.52,411.97 319.14,411.89 333.76,411.86 348.38,411.61 363,411.55 377.62,410.75 392.24,410.78 406.86,410.73 421.48,410.53 436.1,410.45 450.72,410.26 465.34,410.09 479.96,409.87 494.58,409.43 509.2,409.1 523.82,408.74 538.44,408.71 553.06,408.63 567.68,408.41 582.3,408.38 596.92,408.41 611.54,408.32 626.16,408.16" fill="none" stroke="#404040" stroke-width="1"/>
<circle cx="85.22" cy="416.14" r="5.4" fill="url(#sph)"/>
<circle cx="99.84" cy="416.19" r="5.4" fill="url(#sph)"/>
<circle cx="114.46" cy="415.86" r="5.4" fill="url(#sph)"/>
<circle cx="129.08" cy="415.69" r="5.4" fill="url(#sph)"/>
<circle cx="143.7" cy="415.39" r="5.4" fill="url(#sph)"/>
<circle cx="158.32" cy="415.11" r="5.4" fill="url(#sph)"/>
<circle cx="172.94" cy="414.89" r="5.4" fill="url(#sph)"/>
<circle cx="187.56" cy="414.7" r="5.4" fill="url(#sph)"/>
<circle cx="202.18" cy="414.51" r="5.4" fill="url(#sph)"/>
<circle cx="216.8" cy="413.76" r="5.4" fill="url(#sph)"/>
<circle cx="231.42" cy="413.49" r="5.4" fill="url(#sph)"/>
<circle cx="246.04" cy="413.43" r="5.4" fill="url(#sph)"/>
<circle cx="260.66" cy="413.29" r="5.4" fill="url(#sph)"/>
<circle cx="275.28" cy="412.91" r="5.4" fill="url(#sph)"/>
<circle cx="289.9" cy="412.02" r="5.4" fill="url(#sph)"/>
<circle cx="304.52" cy="411.97" r="5.4" fill="url(#sph)"/>
<circle cx="319.14" cy="411.89" r="5.4" fill="url(#sph)"/>
<circle cx="333.76" cy="411.86" r="5.4" fill="url(#sph)"/>
<circle cx="348.38" cy="411.61" r="5.4" fill="url(#sph)"/>
<circle cx="363" cy="411.55" r="5.4" fill="url(#sph)"/>
<circle cx="377.62" cy="410.75" r="5.4" fill="url(#sph)"/>
<circle cx="392.24" cy="410.78" r="5.4" fill="url(#sph)"/>
<circle cx="406.86" cy="410.73" r="5.4" fill="url(#sph)"/>
<circle cx="421.48" cy="410.53" r="5.4" fill="url(#sph)"/>
<circle cx="436.1" cy="410.45" r="5.4" fill="url(#sph)"/>
<circle cx="450.72" cy="410.26" r="5.4" fill="url(#sph)"/>
<circle cx="465.34" cy="410.09" r="5.4" fill="url(#sph)"/>
<circle cx="479.96" cy="409.87" r="5.4" fill="url(#sph)"/>
<circle cx="494.58" cy="409.43" r="5.4" fill="url(#sph)"/>
<circle cx="509.2" cy="409.1" r="5.4" fill="url(#sph)"/>
<circle cx="523.82" cy="408.74" r="5.4" fill="url(#sph)"/>
<circle cx="538.44" cy="408.71" r="5.4" fill="url(#sph)"/>
<circle cx="553.06" cy="408.63" r="5.4" fill="url(#sph)"/>
<circle cx="567.68" cy="408.41" r="5.4" fill="url(#sph)"/>
<circle cx="582.3" cy="408.38" r="5.4" fill="url(#sph)"/>
<circle cx="596.92" cy="408.41" r="5.4" fill="url(#sph)"/>
<circle cx="611.54" cy="408.32" r="5.4" fill="url(#sph)"/>
<circle cx="626.16" cy="408.16" r="5.4" fill="url(#sph)"/>
<polyline points="85.22,416.03 99.84,416.05 114.46,415.75 129.08,415.56 143.7,415.25 158.32,415 172.94,414.78 187.56,414.59 202.18,414.37 216.8,413.82 231.42,413.49 246.04,413.43 260.66,413.27 275.28,412.99 289.9,412.38 304.52,412.33 319.14,412.22 333.76,412.16 348.38,412.02 363,411.91 377.62,411.25 392.24,411.22 406.86,411.14 421.48,411 436.1,410.89 450.72,410.73 465.34,410.53 479.96,410.31 494.58,410.01 509.2,409.73 523.82,409.46 538.44,409.4 553.06,409.29 567.68,409.13 582.3,409.01 596.92,408.96 611.54,408.85 626.16,408.71" fill="none" stroke="#ff80ff" stroke-width="1.3"/>
<path d="M79.72 416.03H90.72M85.22 410.53V421.53" stroke="#ff80ff" stroke-width="1.2" fill="none"/>
<path d="M94.34 416.05H105.34M99.84 410.55V421.55" stroke="#ff80ff" stroke-width="1.2" fill="none"/>
<path d="M108.96 415.75H119.96M114.46 410.25V421.25" stroke="#ff80ff" stroke-width="1.2" fill="none"/>
<path d="M123.58 415.56H134.58M129.08 410.06V421.06" stroke="#ff80ff" stroke-width="1.2" fill="none"/>
<path d="M138.2 415.25H149.2M143.7 409.75V420.75" stroke="#ff80ff" stroke-width="1.2" fill="none"/>
<path d="M152.82 415H163.82M158.32 409.5V420.5" stroke="#ff80ff" stroke-width="1.2" fill="none"/>
<path d="M167.44 414.78H178.44M172.94 409.28V420.28" stroke="#ff80ff" stroke-width="1.2" fill="none"/>
<path d="M182.06 414.59H193.06M187.56 409.09V420.09" stroke="#ff80ff" stroke-width="1.2" fill="none"/>
<path d="M196.68 414.37H207.68M202.18 408.87V419.87" stroke="#ff80ff" stroke-width="1.2" fill="none"/>
<path d="M211.3 413.82H222.3M216.8 408.32V419.32" stroke="#ff80ff" stroke-width="1.2" fill="none"/>
<path d="M225.92 413.49H236.92M231.42 407.99V418.99" stroke="#ff80ff" stroke-width="1.2" fill="none"/>
<path d="M240.54 413.43H251.54M246.04 407.93V418.93" stroke="#ff80ff" stroke-width="1.2" fill="none"/>
<path d="M255.16 413.27H266.16M260.66 407.77V418.77" stroke="#ff80ff" stroke-width="1.2" fill="none"/>
<path d="M269.78 412.99H280.78M275.28 407.49V418.49" stroke="#ff80ff" stroke-width="1.2" fill="none"/>
<path d="M284.4 412.38H295.4M289.9 406.88V417.88" stroke="#ff80ff" stroke-width="1.2" fill="none"/>
<path d="M299.02 412.33H310.02M304.52 406.83V417.83" stroke="#ff80ff" stroke-width="1.2" fill="none"/>
<path d="M313.64 412.22H324.64M319.14 406.72V417.72" stroke="#ff80ff" stroke-width="1.2" fill="none"/>
<path d="M328.26 412.16H339.26M333.76 406.66V417.66" stroke="#ff80ff" stroke-width="1.2" fill="none"/>
<path d="M342.88 412.02H353.88M348.38 406.52V417.52" stroke="#ff80ff" stroke-width="1.2" fill="none"/>
<path d="M357.5 411.91H368.5M363 406.41V417.41" stroke="#ff80ff" stroke-width="1.2" fill="none"/>
<path d="M372.12 411.25H383.12M377.62 405.75V416.75" stroke="#ff80ff" stroke-width="1.2" fill="none"/>
<path d="M386.74 411.22H397.74M392.24 405.72V416.72" stroke="#ff80ff" stroke-width="1.2" fill="none"/>
<path d="M401.36 411.14H412.36M406.86 405.64V416.64" stroke="#ff80ff" stroke-width="1.2" fill="none"/>
<path d="M415.98 411H426.98M421.48 405.5V416.5" stroke="#ff80ff" stroke-width="1.2" fill="none"/>
<path d="M430.6 410.89H441.6M436.1 405.39V416.39" stroke="#ff80ff" stroke-width="1.2" fill="none"/>
<path d="M445.22 410.73H456.22M450.72 405.23V416.23" stroke="#ff80ff" stroke-width="1.2" fill="none"/>
<path d="M459.84 410.53H470.84M465.34 405.03V416.03" stroke="#ff80ff" stroke-width="1.2" fill="none"/>
<path d="M474.46 410.31H485.46M479.96 404.81V415.81" stroke="#ff80ff" stroke-width="1.2" fill="none"/>
<path d="M489.08 410.01H500.08M494.58 404.51V415.51" stroke="#ff80ff" stroke-width="1.2" fill="none"/>
<path d="M503.7 409.73H514.7M509.2 404.23V415.23" stroke="#ff80ff" stroke-width="1.2" fill="none"/>
<path d="M518.32 409.46H529.32M523.82 403.96V414.96" stroke="#ff80ff" stroke-width="1.2" fill="none"/>
<path d="M532.94 409.4H543.94M538.44 403.9V414.9" stroke="#ff80ff" stroke-width="1.2" fill="none"/>
<path d="M547.56 409.29H558.56M553.06 403.79V414.79" stroke="#ff80ff" stroke-width="1.2" fill="none"/>
<path d="M562.18 409.13H573.18M567.68 403.63V414.63" stroke="#ff80ff" stroke-width="1.2" fill="none"/>
<path d="M576.8 409.01H587.8M582.3 403.51V414.51" stroke="#ff80ff" stroke-width="1.2" fill="none"/>
<path d="M591.42 408.96H602.42M596.92 403.46V414.46" stroke="#ff80ff" stroke-width="1.2" fill="none"/>
<path d="M606.04 408.85H617.04M611.54 403.35V414.35" stroke="#ff80ff" stroke-width="1.2" fill="none"/>
<path d="M620.66 408.71H631.66M626.16 403.21V414.21" stroke="#ff80ff" stroke-width="1.2" fill="none"/>
<path d="M85.22 404.1V410.73M80.82 404.1H89.62M80.82 410.73H89.62" stroke="#000000" stroke-width="1" fill="none"/>
<path d="M99.84 396.65V403.27M95.44 396.65H104.24M95.44 403.27H104.24" stroke="#000000" stroke-width="1" fill="none"/>
<path d="M114.46 376.78V383.4M110.06 376.78H118.86M110.06 383.4H118.86" stroke="#000000" stroke-width="1" fill="none"/>
<path d="M129.08 361.32V367.95M124.68 361.32H133.48M124.68 367.95H133.48" stroke="#000000" stroke-width="1" fill="none"/>
<path d="M143.7 348.07V354.7M139.3 348.07H148.1M139.3 354.7H148.1" stroke="#000000" stroke-width="1" fill="none"/>
<path d="M158.32 344.21V350.83M153.92 344.21H162.72M153.92 350.83H162.72" stroke="#000000" stroke-width="1" fill="none"/>
<path d="M172.94 327.1V333.72M168.54 327.1H177.34M168.54 333.72H177.34" stroke="#000000" stroke-width="1" fill="none"/>
<path d="M187.56 320.75V327.37M183.16 320.75H191.96M183.16 327.37H191.96" stroke="#000000" stroke-width="1" fill="none"/>
<path d="M202.18 314.4V321.03M197.78 314.4H206.58M197.78 321.03H206.58" stroke="#000000" stroke-width="1" fill="none"/>
<path d="M216.8 306.67V313.3M212.4 306.67H221.2M212.4 313.3H221.2" stroke="#000000" stroke-width="1" fill="none"/>
<path d="M231.42 298.39V305.02M227.02 298.39H235.82M227.02 305.02H235.82" stroke="#000000" stroke-width="1" fill="none"/>
<path d="M246.04 287.63V294.25M241.64 287.63H250.44M241.64 294.25H250.44" stroke="#000000" stroke-width="1" fill="none"/>
<path d="M260.66 280.73V287.35M256.26 280.73H265.06M256.26 287.35H265.06" stroke="#000000" stroke-width="1" fill="none"/>
<path d="M275.28 274.38V281.01M270.88 274.38H279.68M270.88 281.01H279.68" stroke="#000000" stroke-width="1" fill="none"/>
<path d="M289.9 269.14V275.76M285.5 269.14H294.3M285.5 275.76H294.3" stroke="#000000" stroke-width="1" fill="none"/>
<path d="M304.52 265.27V271.9M300.12 265.27H308.92M300.12 271.9H308.92" stroke="#000000" stroke-width="1" fill="none"/>
<path d="M319.14 262.51V269.14M314.74 262.51H323.54M314.74 269.14H323.54" stroke="#000000" stroke-width="1" fill="none"/>
<path d="M333.76 256.17V262.79M329.36 256.17H338.16M329.36 262.79H338.16" stroke="#000000" stroke-width="1" fill="none"/>
<path d="M348.38 252.85V259.48M343.98 252.85H352.78M343.98 259.48H352.78" stroke="#000000" stroke-width="1" fill="none"/>
<path d="M363 247.06V253.68M358.6 247.06H367.4M358.6 253.68H367.4" stroke="#000000" stroke-width="1" fill="none"/>
<path d="M377.62 242.92V249.54M373.22 242.92H382.02M373.22 249.54H382.02" stroke="#000000" stroke-width="1" fill="none"/>
<path d="M392.24 239.61V246.23M387.84 239.61H396.64M387.84 246.23H396.64" stroke="#000000" stroke-width="1" fill="none"/>
<path d="M406.86 237.67V244.3M402.46 237.67H411.26M402.46 244.3H411.26" stroke="#000000" stroke-width="1" fill="none"/>
<path d="M421.48 235.47V242.09M417.08 235.47H425.88M417.08 242.09H425.88" stroke="#000000" stroke-width="1" fill="none"/>
<path d="M436.1 232.98V239.61M431.7 232.98H440.5M431.7 239.61H440.5" stroke="#000000" stroke-width="1" fill="none"/>
<path d="M450.72 228.84V235.47M446.32 228.84H455.12M446.32 235.47H455.12" stroke="#000000" stroke-width="1" fill="none"/>
<path d="M465.34 225.53V232.15M460.94 225.53H469.74M460.94 232.15H469.74" stroke="#000000" stroke-width="1" fill="none"/>
<path d="M479.96 221.94V228.57M475.56 221.94H484.36M475.56 228.57H484.36" stroke="#000000" stroke-width="1" fill="none"/>
<path d="M494.58 219.46V226.08M490.18 219.46H498.98M490.18 226.08H498.98" stroke="#000000" stroke-width="1" fill="none"/>
<path d="M509.2 217.25V223.87M504.8 217.25H513.6M504.8 223.87H513.6" stroke="#000000" stroke-width="1" fill="none"/>
<path d="M523.82 215.04V221.67M519.42 215.04H528.22M519.42 221.67H528.22" stroke="#000000" stroke-width="1" fill="none"/>
<path d="M538.44 213.11V219.73M534.04 213.11H542.84M534.04 219.73H542.84" stroke="#000000" stroke-width="1" fill="none"/>
<path d="M553.06 211.18V217.8M548.66 211.18H557.46M548.66 217.8H557.46" stroke="#000000" stroke-width="1" fill="none"/>
<path d="M567.68 209.52V216.15M563.28 209.52H572.08M563.28 216.15H572.08" stroke="#000000" stroke-width="1" fill="none"/>
<path d="M582.3 207.31V213.94M577.9 207.31H586.7M577.9 213.94H586.7" stroke="#000000" stroke-width="1" fill="none"/>
<path d="M596.92 206.21V212.83M592.52 206.21H601.32M592.52 212.83H601.32" stroke="#000000" stroke-width="1" fill="none"/>
<path d="M611.54 205.93V212.56M607.14 205.93H615.94M607.14 212.56H615.94" stroke="#000000" stroke-width="1" fill="none"/>
<path d="M626.16 205.66V212.28M621.76 205.66H630.56M621.76 212.28H630.56" stroke="#000000" stroke-width="1" fill="none"/>
<path d="M85.22 388.09V394.72M80.82 388.09H89.62M80.82 394.72H89.62" stroke="#ff0000" stroke-width="1" fill="none"/>
<path d="M99.84 368.17V375.45M95.44 368.17H104.24M95.44 375.45H104.24" stroke="#ff0000" stroke-width="1" fill="none"/>
<path d="M114.46 331.4V339.35M110.06 331.4H118.86M110.06 339.35H118.86" stroke="#ff0000" stroke-width="1" fill="none"/>
<path d="M129.08 302.37V310.98M124.68 302.37H133.48M124.68 310.98H133.48" stroke="#ff0000" stroke-width="1" fill="none"/>
<path d="M143.7 278.58V287.85M139.3 278.58H148.1M139.3 287.85H148.1" stroke="#ff0000" stroke-width="1" fill="none"/>
<path d="M158.32 258.37V268.31M153.92 258.37H162.72M153.92 268.31H162.72" stroke="#ff0000" stroke-width="1" fill="none"/>
<path d="M172.94 225.2V235.8M168.54 225.2H177.34M168.54 235.8H177.34" stroke="#ff0000" stroke-width="1" fill="none"/>
<path d="M187.56 209.69V220.95M183.16 209.69H191.96M183.16 220.95H191.96" stroke="#ff0000" stroke-width="1" fill="none"/>
<path d="M202.18 196.94V208.86M197.78 196.94H206.58M197.78 208.86H206.58" stroke="#ff0000" stroke-width="1" fill="none"/>
<path d="M216.8 180.6V193.18M212.4 180.6H221.2M212.4 193.18H221.2" stroke="#ff0000" stroke-width="1" fill="none"/>
<path d="M231.42 160.12V173.37M227.02 160.12H235.82M227.02 173.37H235.82" stroke="#ff0000" stroke-width="1" fill="none"/>
<path d="M246.04 143.5V157.41M241.64 143.5H250.44M241.64 157.41H250.44" stroke="#ff0000" stroke-width="1" fill="none"/>
<path d="M260.66 129.65V144.22M256.26 129.65H265.06M256.26 144.22H265.06" stroke="#ff0000" stroke-width="1" fill="none"/>
<path d="M275.28 119.38V134.62M270.88 119.38H279.68M270.88 134.62H279.68" stroke="#ff0000" stroke-width="1" fill="none"/>
<path d="M289.9 108.84V124.73M285.5 108.84H294.3M285.5 124.73H294.3" stroke="#ff0000" stroke-width="1" fill="none"/>
<path d="M304.52 99.95V116.51M300.12 99.95H308.92M300.12 116.51H308.92" stroke="#ff0000" stroke-width="1" fill="none"/>
<path d="M319.14 93.27V110.49M314.74 93.27H323.54M314.74 110.49H323.54" stroke="#ff0000" stroke-width="1" fill="none"/>
<path d="M333.76 84.94V102.82M329.36 84.94H338.16M329.36 102.82H338.16" stroke="#ff0000" stroke-width="1" fill="none"/>
<path d="M348.38 78.26V96.8M343.98 78.26H352.78M343.98 96.8H352.78" stroke="#ff0000" stroke-width="1" fill="none"/>
<path d="M363 71.85V91.06M358.6 71.85H367.4M358.6 91.06H367.4" stroke="#ff0000" stroke-width="1" fill="none"/>
<path d="M377.62 66V85.87M373.22 66H382.02M373.22 85.87H382.02" stroke="#ff0000" stroke-width="1" fill="none"/>
<path d="M392.24 61.81V82.34M387.84 61.81H396.64M387.84 82.34H396.64" stroke="#ff0000" stroke-width="1" fill="none"/>
<path d="M406.86 59.1V80.08M402.46 59.1H411.26M402.46 80.08H411.26" stroke="#ff0000" stroke-width="1" fill="none"/>
<path d="M421.48 56.07V77.04M417.08 56.07H425.88M417.08 77.04H425.88" stroke="#ff0000" stroke-width="1" fill="none"/>
<path d="M436.1 54.13V75.11M431.7 54.13H440.5M431.7 75.11H440.5" stroke="#ff0000" stroke-width="1" fill="none"/>
<path d="M450.72 51.37V72.35M446.32 51.37H455.12M446.32 72.35H455.12" stroke="#ff0000" stroke-width="1" fill="none"/>
<path d="M465.34 48.61V69.59M460.94 48.61H469.74M460.94 69.59H469.74" stroke="#ff0000" stroke-width="1" fill="none"/>
<path d="M479.96 46.96V67.93M475.56 46.96H484.36M475.56 67.93H484.36" stroke="#ff0000" stroke-width="1" fill="none"/>
<path d="M494.58 45.3V66.28M490.18 45.3H498.98M490.18 66.28H498.98" stroke="#ff0000" stroke-width="1" fill="none"/>
<path d="M509.2 43.92V64.9M504.8 43.92H513.6M504.8 64.9H513.6" stroke="#ff0000" stroke-width="1" fill="none"/>
<path d="M523.82 43.09V64.07M519.42 43.09H528.22M519.42 64.07H528.22" stroke="#ff0000" stroke-width="1" fill="none"/>
<path d="M538.44 41.71V62.69M534.04 41.71H542.84M534.04 62.69H542.84" stroke="#ff0000" stroke-width="1" fill="none"/>
<path d="M553.06 40.89V61.86M548.66 40.89H557.46M548.66 61.86H557.46" stroke="#ff0000" stroke-width="1" fill="none"/>
<path d="M567.68 40.33V61.31M563.28 40.33H572.08M563.28 61.31H572.08" stroke="#ff0000" stroke-width="1" fill="none"/>
<path d="M582.3 39.51V60.48M577.9 39.51H586.7M577.9 60.48H586.7" stroke="#ff0000" stroke-width="1" fill="none"/>
<path d="M596.92 39.51V60.48M592.52 39.51H601.32M592.52 60.48H601.32" stroke="#ff0000" stroke-width="1" fill="none"/>
<path d="M611.54 38.95V59.93M607.14 38.95H615.94M607.14 59.93H615.94" stroke="#ff0000" stroke-width="1" fill="none"/>
<path d="M626.16 38.68V59.65M621.76 38.68H630.56M621.76 59.65H630.56" stroke="#ff0000" stroke-width="1" fill="none"/>
<path d="M85.22 374.8V384.6M80.82 374.8H89.62" stroke="#0000ff" stroke-width="1" fill="none"/>
<path d="M99.84 347.75V357.55M95.44 347.75H104.24" stroke="#0000ff" stroke-width="1" fill="none"/>
<path d="M114.46 320.15V329.95M110.06 320.15H118.86" stroke="#0000ff" stroke-width="1" fill="none"/>
<path d="M129.08 289.24V299.04M124.68 289.24H133.48" stroke="#0000ff" stroke-width="1" fill="none"/>
<path d="M143.7 261.36V271.16M139.3 261.36H148.1" stroke="#0000ff" stroke-width="1" fill="none"/>
<path d="M158.32 250.05V259.85M153.92 250.05H162.72" stroke="#0000ff" stroke-width="1" fill="none"/>
<path d="M172.94 215.55V225.35M168.54 215.55H177.34" stroke="#0000ff" stroke-width="1" fill="none"/>
<path d="M187.56 201.19V210.99M183.16 201.19H191.96" stroke="#0000ff" stroke-width="1" fill="none"/>
<path d="M202.18 191.81V201.61M197.78 191.81H206.58" stroke="#0000ff" stroke-width="1" fill="none"/>
<path d="M216.8 175.8V185.6M212.4 175.8H221.2" stroke="#0000ff" stroke-width="1" fill="none"/>
<path d="M231.42 163.11V172.91M227.02 163.11H235.82" stroke="#0000ff" stroke-width="1" fill="none"/>
<path d="M246.04 153.17V162.97M241.64 153.17H250.44" stroke="#0000ff" stroke-width="1" fill="none"/>
<path d="M260.66 144.89V154.69M256.26 144.89H265.06" stroke="#0000ff" stroke-width="1" fill="none"/>
<path d="M275.28 138.27V148.07M270.88 138.27H279.68" stroke="#0000ff" stroke-width="1" fill="none"/>
<path d="M289.9 132.75V142.55M285.5 132.75H294.3" stroke="#0000ff" stroke-width="1" fill="none"/>
<path d="M304.52 128.61V138.41M300.12 128.61H308.92" stroke="#0000ff" stroke-width="1" fill="none"/>
<path d="M319.14 125.85V135.65M314.74 125.85H323.54" stroke="#0000ff" stroke-width="1" fill="none"/>
<path d="M333.76 121.43V131.23M329.36 121.43H338.16" stroke="#0000ff" stroke-width="1" fill="none"/>
<path d="M348.38 118.95V128.75M343.98 118.95H352.78" stroke="#0000ff" stroke-width="1" fill="none"/>
<path d="M363 116.74V126.54M358.6 116.74H367.4" stroke="#0000ff" stroke-width="1" fill="none"/>
<path d="M377.62 114.53V124.33M373.22 114.53H382.02" stroke="#0000ff" stroke-width="1" fill="none"/>
<path d="M392.24 113.15V122.95M387.84 113.15H396.64" stroke="#0000ff" stroke-width="1" fill="none"/>
<path d="M406.86 111.49V121.29M402.46 111.49H411.26" stroke="#0000ff" stroke-width="1" fill="none"/>
<path d="M421.48 109.29V119.09M417.08 109.29H425.88" stroke="#0000ff" stroke-width="1" fill="none"/>
<path d="M436.1 108.18V117.98M431.7 108.18H440.5" stroke="#0000ff" stroke-width="1" fill="none"/>
<path d="M450.72 107.08V116.88M446.32 107.08H455.12" stroke="#0000ff" stroke-width="1" fill="none"/>
<path d="M465.34 106.53V116.33M460.94 106.53H469.74" stroke="#0000ff" stroke-width="1" fill="none"/>
<path d="M479.96 105.97V115.77M475.56 105.97H484.36" stroke="#0000ff" stroke-width="1" fill="none"/>
<path d="M494.58 105.42V115.22M490.18 105.42H498.98" stroke="#0000ff" stroke-width="1" fill="none"/>
<path d="M509.2 105.15V114.95M504.8 105.15H513.6" stroke="#0000ff" stroke-width="1" fill="none"/>
<path d="M523.82 104.87V114.67M519.42 104.87H528.22" stroke="#0000ff" stroke-width="1" fill="none"/>
<path d="M538.44 104.59V114.39M534.04 104.59H542.84" stroke="#0000ff" stroke-width="1" fill="none"/>
<path d="M553.06 104.59V114.39M548.66 104.59H557.46" stroke="#0000ff" stroke-width="1" fill="none"/>
<path d="M567.68 104.59V114.39M563.28 104.59H572.08" stroke="#0000ff" stroke-width="1" fill="none"/>
<path d="M582.3 104.32V114.12M577.9 104.32H586.7" stroke="#0000ff" stroke-width="1" fill="none"/>
<path d="M596.92 104.32V114.12M592.52 104.32H601.32" stroke="#0000ff" stroke-width="1" fill="none"/>
<path d="M611.54 104.32V114.12M607.14 104.32H615.94" stroke="#0000ff" stroke-width="1" fill="none"/>
<path d="M626.16 104.32V114.12M621.76 104.32H630.56" stroke="#0000ff" stroke-width="1" fill="none"/>
<path d="M85.22 397.7V408.74M80.82 397.7H89.62M80.82 408.74H89.62" stroke="#ff00ff" stroke-width="1" fill="none"/>
<path d="M99.84 378.38V392.18M95.44 378.38H104.24M95.44 392.18H104.24" stroke="#ff00ff" stroke-width="1" fill="none"/>
<path d="M114.46 364.3V380.86M110.06 364.3H118.86M110.06 380.86H118.86" stroke="#ff00ff" stroke-width="1" fill="none"/>
<path d="M129.08 361.82V379.48M124.68 361.82H133.48M124.68 379.48H133.48" stroke="#ff00ff" stroke-width="1" fill="none"/>
<path d="M143.7 346.91V377.83M139.3 346.91H148.1M139.3 377.83H148.1" stroke="#ff00ff" stroke-width="1" fill="none"/>
<path d="M158.32 349.4V355.47M153.92 349.4H162.72M153.92 355.47H162.72" stroke="#ff00ff" stroke-width="1" fill="none"/>
<path d="M172.94 337.81V363.2M168.54 337.81H177.34M168.54 363.2H177.34" stroke="#ff00ff" stroke-width="1" fill="none"/>
<path d="M187.56 329.25V359.06M183.16 329.25H191.96M183.16 359.06H191.96" stroke="#ff00ff" stroke-width="1" fill="none"/>
<path d="M202.18 325.94V354.09M197.78 325.94H206.58M197.78 354.09H206.58" stroke="#ff00ff" stroke-width="1" fill="none"/>
<path d="M216.8 319.04V345.53M212.4 319.04H221.2M212.4 345.53H221.2" stroke="#ff00ff" stroke-width="1" fill="none"/>
<path d="M231.42 305.79V323.45M227.02 305.79H235.82M227.02 323.45H235.82" stroke="#ff00ff" stroke-width="1" fill="none"/>
<path d="M246.04 296.96V337.81M241.64 296.96H250.44M241.64 337.81H250.44" stroke="#ff00ff" stroke-width="1" fill="none"/>
<path d="M260.66 289.51V329.8M256.26 289.51H265.06M256.26 329.8H265.06" stroke="#ff00ff" stroke-width="1" fill="none"/>
<path d="M275.28 283.99V323.18M270.88 283.99H279.68M270.88 323.18H279.68" stroke="#ff00ff" stroke-width="1" fill="none"/>
<path d="M289.9 279.57V314.9M285.5 279.57H294.3M285.5 314.9H294.3" stroke="#ff00ff" stroke-width="1" fill="none"/>
<path d="M304.52 275.43V309.65M300.12 275.43H308.92M300.12 309.65H308.92" stroke="#ff00ff" stroke-width="1" fill="none"/>
<path d="M319.14 271.29V305.51M314.74 271.29H323.54M314.74 305.51H323.54" stroke="#ff00ff" stroke-width="1" fill="none"/>
<path d="M333.76 266.32V300.55M329.36 266.32H338.16M329.36 300.55H338.16" stroke="#ff00ff" stroke-width="1" fill="none"/>
<path d="M348.38 261.35V295.58M343.98 261.35H352.78M343.98 295.58H352.78" stroke="#ff00ff" stroke-width="1" fill="none"/>
<path d="M363 256.94V290.06M358.6 256.94H367.4M358.6 290.06H367.4" stroke="#ff00ff" stroke-width="1" fill="none"/>
<path d="M377.62 252.8V266.05M373.22 252.8H382.02M373.22 266.05H382.02" stroke="#ff00ff" stroke-width="1" fill="none"/>
<path d="M392.24 249.76V261.91M387.84 249.76H396.64M387.84 261.91H396.64" stroke="#ff00ff" stroke-width="1" fill="none"/>
<path d="M406.86 249.21V257.49M402.46 249.21H411.26M402.46 257.49H411.26" stroke="#ff00ff" stroke-width="1" fill="none"/>
<path d="M421.48 246.45V254.73M417.08 246.45H425.88M417.08 254.73H425.88" stroke="#ff00ff" stroke-width="1" fill="none"/>
<path d="M436.1 243.97V252.25M431.7 243.97H440.5M431.7 252.25H440.5" stroke="#ff00ff" stroke-width="1" fill="none"/>
<path d="M450.72 239.83V248.11M446.32 239.83H455.12M446.32 248.11H455.12" stroke="#ff00ff" stroke-width="1" fill="none"/>
<path d="M465.34 237.07V245.35M460.94 237.07H469.74M460.94 245.35H469.74" stroke="#ff00ff" stroke-width="1" fill="none"/>
<path d="M479.96 234.31V242.59M475.56 234.31H484.36M475.56 242.59H484.36" stroke="#ff00ff" stroke-width="1" fill="none"/>
<path d="M494.58 230.72V239M490.18 230.72H498.98M490.18 239H498.98" stroke="#ff00ff" stroke-width="1" fill="none"/>
<path d="M509.2 229.06V237.34M504.8 229.06H513.6M504.8 237.34H513.6" stroke="#ff00ff" stroke-width="1" fill="none"/>
<path d="M523.82 227.41V235.69M519.42 227.41H528.22M519.42 235.69H528.22" stroke="#ff00ff" stroke-width="1" fill="none"/>
<path d="M538.44 226.3V234.58M534.04 226.3H542.84M534.04 234.58H542.84" stroke="#ff00ff" stroke-width="1" fill="none"/>
<path d="M553.06 224.37V232.65M548.66 224.37H557.46M548.66 232.65H557.46" stroke="#ff00ff" stroke-width="1" fill="none"/>
<path d="M567.68 222.16V230.44M563.28 222.16H572.08M563.28 230.44H572.08" stroke="#ff00ff" stroke-width="1" fill="none"/>
<path d="M582.3 219.4V227.68M577.9 219.4H586.7M577.9 227.68H586.7" stroke="#ff00ff" stroke-width="1" fill="none"/>
<path d="M596.92 219.13V227.41M592.52 219.13H601.32M592.52 227.41H601.32" stroke="#ff00ff" stroke-width="1" fill="none"/>
<path d="M611.54 218.3V226.58M607.14 218.3H615.94M607.14 226.58H615.94" stroke="#ff00ff" stroke-width="1" fill="none"/>
<path d="M626.16 218.3V226.58M621.76 218.3H630.56M621.76 226.58H630.56" stroke="#ff00ff" stroke-width="1" fill="none"/>
<path d="M85.22 375.95V388.09M80.82 375.95H89.62M80.82 388.09H89.62" stroke="#008000" stroke-width="1" fill="none"/>
<path d="M99.84 373.19V385.33M95.44 373.19H104.24M95.44 385.33H104.24" stroke="#008000" stroke-width="1" fill="none"/>
<path d="M114.46 346.69V358.84M110.06 346.69H118.86M110.06 358.84H118.86" stroke="#008000" stroke-width="1" fill="none"/>
<path d="M129.08 325.17V337.31M124.68 325.17H133.48M124.68 337.31H133.48" stroke="#008000" stroke-width="1" fill="none"/>
<path d="M143.7 310.81V322.96M139.3 310.81H148.1M139.3 322.96H148.1" stroke="#008000" stroke-width="1" fill="none"/>
<path d="M158.32 304.47V316.61M153.92 304.47H162.72M153.92 316.61H162.72" stroke="#008000" stroke-width="1" fill="none"/>
<path d="M172.94 284.32V296.46M168.54 284.32H177.34M168.54 296.46H177.34" stroke="#008000" stroke-width="1" fill="none"/>
<path d="M187.56 279.07V291.22M183.16 279.07H191.96M183.16 291.22H191.96" stroke="#008000" stroke-width="1" fill="none"/>
<path d="M202.18 273V285.15M197.78 273H206.58M197.78 285.15H206.58" stroke="#008000" stroke-width="1" fill="none"/>
<path d="M216.8 264.17V276.31M212.4 264.17H221.2M212.4 276.31H221.2" stroke="#008000" stroke-width="1" fill="none"/>
<path d="M231.42 260.03V266.1M227.02 260.03H235.82M227.02 266.1H235.82" stroke="#008000" stroke-width="1" fill="none"/>
<path d="M246.04 252.58V258.65M241.64 252.58H250.44M241.64 258.65H250.44" stroke="#008000" stroke-width="1" fill="none"/>
<path d="M260.66 247.33V253.41M256.26 247.33H265.06M256.26 253.41H265.06" stroke="#008000" stroke-width="1" fill="none"/>
<path d="M275.28 244.85V250.92M270.88 244.85H279.68M270.88 250.92H279.68" stroke="#008000" stroke-width="1" fill="none"/>
<path d="M289.9 240.99V247.06M285.5 240.99H294.3M285.5 247.06H294.3" stroke="#008000" stroke-width="1" fill="none"/>
<path d="M304.52 237.67V243.75M300.12 237.67H308.92M300.12 243.75H308.92" stroke="#008000" stroke-width="1" fill="none"/>
<path d="M319.14 236.02V242.09M314.74 236.02H323.54M314.74 242.09H323.54" stroke="#008000" stroke-width="1" fill="none"/>
<path d="M333.76 232.71V238.78M329.36 232.71H338.16M329.36 238.78H338.16" stroke="#008000" stroke-width="1" fill="none"/>
<path d="M348.38 229.39V235.47M343.98 229.39H352.78M343.98 235.47H352.78" stroke="#008000" stroke-width="1" fill="none"/>
<path d="M363 227.74V233.81M358.6 227.74H367.4M358.6 233.81H367.4" stroke="#008000" stroke-width="1" fill="none"/>
<path d="M377.62 225.53V231.6M373.22 225.53H382.02M373.22 231.6H382.02" stroke="#008000" stroke-width="1" fill="none"/>
<path d="M392.24 223.32V229.39M387.84 223.32H396.64M387.84 229.39H396.64" stroke="#008000" stroke-width="1" fill="none"/>
<path d="M406.86 221.94V228.01M402.46 221.94H411.26M402.46 228.01H411.26" stroke="#008000" stroke-width="1" fill="none"/>
<path d="M421.48 220.01V226.08M417.08 220.01H425.88M417.08 226.08H425.88" stroke="#008000" stroke-width="1" fill="none"/>
<path d="M436.1 218.91V224.98M431.7 218.91H440.5M431.7 224.98H440.5" stroke="#008000" stroke-width="1" fill="none"/>
<path d="M450.72 217.8V223.87M446.32 217.8H455.12M446.32 223.87H455.12" stroke="#008000" stroke-width="1" fill="none"/>
<path d="M465.34 215.87V221.94M460.94 215.87H469.74M460.94 221.94H469.74" stroke="#008000" stroke-width="1" fill="none"/>
<path d="M479.96 215.04V221.11M475.56 215.04H484.36M475.56 221.11H484.36" stroke="#008000" stroke-width="1" fill="none"/>
<path d="M494.58 214.49V220.56M490.18 214.49H498.98M490.18 220.56H498.98" stroke="#008000" stroke-width="1" fill="none"/>
<path d="M509.2 214.21V220.29M504.8 214.21H513.6M504.8 220.29H513.6" stroke="#008000" stroke-width="1" fill="none"/>
<path d="M523.82 213.94V220.01M519.42 213.94H528.22M519.42 220.01H528.22" stroke="#008000" stroke-width="1" fill="none"/>
<path d="M538.44 213.94V220.01M534.04 213.94H542.84M534.04 220.01H542.84" stroke="#008000" stroke-width="1" fill="none"/>
<path d="M553.06 213.39V219.46M548.66 213.39H557.46M548.66 219.46H557.46" stroke="#008000" stroke-width="1" fill="none"/>
<path d="M567.68 213.39V219.46M563.28 213.39H572.08M563.28 219.46H572.08" stroke="#008000" stroke-width="1" fill="none"/>
<path d="M582.3 212.83V218.91M577.9 212.83H586.7M577.9 218.91H586.7" stroke="#008000" stroke-width="1" fill="none"/>
<path d="M596.92 212.83V218.91M592.52 212.83H601.32M592.52 218.91H601.32" stroke="#008000" stroke-width="1" fill="none"/>
<path d="M611.54 212.83V218.91M607.14 212.83H615.94M607.14 218.91H615.94" stroke="#008000" stroke-width="1" fill="none"/>
<path d="M626.16 212.83V218.91M621.76 212.83H630.56M621.76 218.91H630.56" stroke="#008000" stroke-width="1" fill="none"/>
<path d="M85.22 370.15V381.75M80.82 370.15H89.62M80.82 381.75H89.62" stroke="#000080" stroke-width="1" fill="none"/>
<path d="M99.84 337.59V349.18M95.44 337.59H104.24M95.44 349.18H104.24" stroke="#000080" stroke-width="1" fill="none"/>
<path d="M114.46 315.23V326.82M110.06 315.23H118.86M110.06 326.82H118.86" stroke="#000080" stroke-width="1" fill="none"/>
<path d="M129.08 288.73V300.33M124.68 288.73H133.48M124.68 300.33H133.48" stroke="#000080" stroke-width="1" fill="none"/>
<path d="M143.7 271.62V283.21M139.3 271.62H148.1M139.3 283.21H148.1" stroke="#000080" stroke-width="1" fill="none"/>
<path d="M158.32 264.45V276.04M153.92 264.45H162.72M153.92 276.04H162.72" stroke="#000080" stroke-width="1" fill="none"/>
<path d="M172.94 241.54V253.13M168.54 241.54H177.34M168.54 253.13H177.34" stroke="#000080" stroke-width="1" fill="none"/>
<path d="M187.56 231.88V243.47M183.16 231.88H191.96M183.16 243.47H191.96" stroke="#000080" stroke-width="1" fill="none"/>
<path d="M202.18 226.08V237.67M197.78 226.08H206.58M197.78 237.67H206.58" stroke="#000080" stroke-width="1" fill="none"/>
<path d="M216.8 216.97V228.57M212.4 216.97H221.2M212.4 228.57H221.2" stroke="#000080" stroke-width="1" fill="none"/>
<path d="M231.42 203.73V215.32M227.02 203.73H235.82M227.02 215.32H235.82" stroke="#000080" stroke-width="1" fill="none"/>
<path d="M246.04 198.21V209.8M241.64 198.21H250.44M241.64 209.8H250.44" stroke="#000080" stroke-width="1" fill="none"/>
<path d="M260.66 194.07V202.9M256.26 194.07H265.06M256.26 202.9H265.06" stroke="#000080" stroke-width="1" fill="none"/>
<path d="M275.28 189.65V198.48M270.88 189.65H279.68M270.88 198.48H279.68" stroke="#000080" stroke-width="1" fill="none"/>
<path d="M289.9 187.17V196M285.5 187.17H294.3M285.5 196H294.3" stroke="#000080" stroke-width="1" fill="none"/>
<path d="M304.52 184.68V193.51M300.12 184.68H308.92M300.12 193.51H308.92" stroke="#000080" stroke-width="1" fill="none"/>
<path d="M319.14 183.85V192.69M314.74 183.85H323.54M314.74 192.69H323.54" stroke="#000080" stroke-width="1" fill="none"/>
<path d="M333.76 181.92V190.75M329.36 181.92H338.16M329.36 190.75H338.16" stroke="#000080" stroke-width="1" fill="none"/>
<path d="M348.38 179.44V188.27M343.98 179.44H352.78M343.98 188.27H352.78" stroke="#000080" stroke-width="1" fill="none"/>
<path d="M363 178.33V187.17M358.6 178.33H367.4M358.6 187.17H367.4" stroke="#000080" stroke-width="1" fill="none"/>
<path d="M377.62 177.51V186.34M373.22 177.51H382.02M373.22 186.34H382.02" stroke="#000080" stroke-width="1" fill="none"/>
<path d="M392.24 176.4V185.23M387.84 176.4H396.64M387.84 185.23H396.64" stroke="#000080" stroke-width="1" fill="none"/>
<path d="M406.86 175.57V184.41M402.46 175.57H411.26M402.46 184.41H411.26" stroke="#000080" stroke-width="1" fill="none"/>
<path d="M421.48 175.3V184.13M417.08 175.3H425.88M417.08 184.13H425.88" stroke="#000080" stroke-width="1" fill="none"/>
<path d="M436.1 174.47V183.3M431.7 174.47H440.5M431.7 183.3H440.5" stroke="#000080" stroke-width="1" fill="none"/>
<path d="M450.72 173.92V182.75M446.32 173.92H455.12M446.32 182.75H455.12" stroke="#000080" stroke-width="1" fill="none"/>
<path d="M465.34 172.81V181.65M460.94 172.81H469.74M460.94 181.65H469.74" stroke="#000080" stroke-width="1" fill="none"/>
<path d="M479.96 172.26V181.09M475.56 172.26H484.36M475.56 181.09H484.36" stroke="#000080" stroke-width="1" fill="none"/>
<path d="M494.58 171.99V180.82M490.18 171.99H498.98M490.18 180.82H498.98" stroke="#000080" stroke-width="1" fill="none"/>
<path d="M509.2 171.71V180.54M504.8 171.71H513.6M504.8 180.54H513.6" stroke="#000080" stroke-width="1" fill="none"/>
<path d="M523.82 171.43V180.27M519.42 171.43H528.22M519.42 180.27H528.22" stroke="#000080" stroke-width="1" fill="none"/>
<path d="M538.44 171.16V179.99M534.04 171.16H542.84M534.04 179.99H542.84" stroke="#000080" stroke-width="1" fill="none"/>
<path d="M553.06 170.88V179.71M548.66 170.88H557.46M548.66 179.71H557.46" stroke="#000080" stroke-width="1" fill="none"/>
<path d="M567.68 170.61V179.44M563.28 170.61H572.08M563.28 179.44H572.08" stroke="#000080" stroke-width="1" fill="none"/>
<path d="M582.3 170.33V179.16M577.9 170.33H586.7M577.9 179.16H586.7" stroke="#000080" stroke-width="1" fill="none"/>
<path d="M596.92 170.33V179.16M592.52 170.33H601.32M592.52 179.16H601.32" stroke="#000080" stroke-width="1" fill="none"/>
<path d="M611.54 170.05V178.89M607.14 170.05H615.94M607.14 178.89H615.94" stroke="#000080" stroke-width="1" fill="none"/>
<path d="M626.16 170.05V178.89M621.76 170.05H630.56M621.76 178.89H630.56" stroke="#000080" stroke-width="1" fill="none"/>
</g>
<g stroke="#000" stroke-width="3" fill="none" stroke-linecap="round">
<rect x="70.6" y="3.35" width="584.8" height="427.8" stroke-linejoin="miter"/>
<path d="M61.8 417.35H70.6"/>
<path d="M66.8 389.75H70.6"/>
<path d="M61.8 362.15H70.6"/>
<path d="M66.8 334.55H70.6"/>
<path d="M61.8 306.95H70.6"/>
<path d="M66.8 279.35H70.6"/>
<path d="M61.8 251.75H70.6"/>
<path d="M66.8 224.15H70.6"/>
<path d="M61.8 196.55H70.6"/>
<path d="M66.8 168.95H70.6"/>
<path d="M61.8 141.35H70.6"/>
<path d="M66.8 113.75H70.6"/>
<path d="M61.8 86.15H70.6"/>
<path d="M66.8 58.55H70.6"/>
<path d="M61.8 30.95H70.6"/>
<path d="M66.8 3.35H70.6"/>
<path d="M70.6 431.15V440.45"/>
<path d="M107.15 431.15V435.45"/>
<path d="M143.7 431.15V440.45"/>
<path d="M180.25 431.15V435.45"/>
<path d="M216.8 431.15V440.45"/>
<path d="M253.35 431.15V435.45"/>
<path d="M289.9 431.15V440.45"/>
<path d="M326.45 431.15V435.45"/>
<path d="M363 431.15V440.45"/>
<path d="M399.55 431.15V435.45"/>
<path d="M436.1 431.15V440.45"/>
<path d="M472.65 431.15V435.45"/>
<path d="M509.2 431.15V440.45"/>
<path d="M545.75 431.15V435.45"/>
<path d="M582.3 431.15V440.45"/>
<path d="M618.85 431.15V435.45"/>
<path d="M655.4 431.15V440.45"/>
</g>
<g font-size="18.8" fill="#000">
<text x="55.8" y="422.55" text-anchor="end">0</text>
<text x="55.8" y="367.35" text-anchor="end">20</text>
<text x="55.8" y="312.15" text-anchor="end">40</text>
<text x="55.8" y="256.95" text-anchor="end">60</text>
<text x="55.8" y="201.75" text-anchor="end">80</text>
<text x="55.8" y="146.55" text-anchor="end">100</text>
<text x="55.8" y="91.35" text-anchor="end">120</text>
<text x="55.8" y="36.15" text-anchor="end">140</text>
<text x="70.6" y="460.8" text-anchor="middle">0</text>
<text x="143.7" y="460.8" text-anchor="middle">5</text>
<text x="216.8" y="460.8" text-anchor="middle">10</text>
<text x="289.9" y="460.8" text-anchor="middle">15</text>
<text x="363" y="460.8" text-anchor="middle">20</text>
<text x="436.1" y="460.8" text-anchor="middle">25</text>
<text x="509.2" y="460.8" text-anchor="middle">30</text>
<text x="582.3" y="460.8" text-anchor="middle">35</text>
<text x="655.4" y="460.8" text-anchor="middle">40</text>
</g>
<text x="393" y="481.7" font-size="18.7" text-anchor="middle">Days</text>
<text transform="translate(19.2,216) rotate(-90)" font-size="18.8" text-anchor="middle">Cumulative silicon dissolution(mg g<tspan font-size="11" dy="-10.5">-1</tspan><tspan dy="10.5">)</tspan></text>
<path d="M73.5 14.1H110.8" stroke="#606060" stroke-width="1.05"/>
<rect x="87.65" y="9.6" width="9" height="9" fill="#000000"/>
<text x="114.6" y="19.1" font-size="12.3" fill="#000">RH300</text>
<path d="M153 14.1H190.4" stroke="#ff0000" stroke-width="1.05"/>
<circle cx="171.7" cy="14.1" r="5.2" fill="#ff0000"/>
<text x="193.4" y="19.1" font-size="12.3" fill="#000">RH500</text>
<path d="M229.6 14.1H266.8" stroke="#0000ff" stroke-width="1.05"/>
<polygon points="248.2,7.16 254.9,18.36 241.5,18.36" fill="#0000ff"/>
<text x="270.2" y="19.1" font-size="12.3" fill="#000">RH700</text>
<path d="M306.2 14.1H343.7" stroke="#ff00ff" stroke-width="1.05"/>
<polygon points="318.45,9.54 331.45,9.54 324.95,21.54" fill="#ff00ff"/>
<text x="346.4" y="19.1" font-size="12.3" fill="#000">RS300</text>
<path d="M379.6 14.1H416.8" stroke="#008000" stroke-width="1.05"/>
<polygon points="398.2,7.7 404.8,14.1 398.2,20.5 391.6,14.1" fill="#008000"/>
<text x="420.5" y="19.1" font-size="12.3" fill="#000">RS500</text>
<path d="M457 14.1H494.2" stroke="#000080" stroke-width="1.05"/>
<polygon points="468.54,14.1 479.74,8 479.74,20.2" fill="#000080"/>
<text x="497.4" y="19.1" font-size="12.3" fill="#000">RS700</text>
<path d="M73.5 34.7H110.8" stroke="#8000ff" stroke-width="1.05"/>
<polygon points="99.35,34.7 87.35,28.7 87.35,40.7" fill="#8000ff"/>
<text x="114.6" y="39.7" font-size="12.3" fill="#000">WB300</text>
<path d="M152 34.7H190.4" stroke="#800080" stroke-width="1.05"/>
<polygon points="171.2,40.9 165.83,37.8 165.83,31.6 171.2,28.5 176.57,31.6 176.57,37.8" fill="#800080"/>
<text x="193.4" y="39.7" font-size="12.3" fill="#000">WB500</text>
<path d="M230.3 34.7H267" stroke="#800000" stroke-width="1.05"/>
<polygon points="248.65,28.2 250.25,32.49 254.83,32.69 251.25,35.54 252.47,39.96 248.65,37.43 244.83,39.96 246.05,35.54 242.47,32.69 247.05,32.49" fill="#800000"/>
<text x="271.2" y="39.7" font-size="12.3" fill="#000">WB700</text>
<path d="M310 34.7H346.1" stroke="#808000" stroke-width="1.05"/>
<polygon points="328.05,28.4 334.04,32.75 331.75,39.8 324.35,39.8 322.06,32.75" fill="#808000"/>
<text x="349.3" y="39.7" font-size="12.3" fill="#000">OP300</text>
<path d="M383.2 34.7H421.6" stroke="#505050" stroke-width="1.05"/>
<circle cx="402.4" cy="34.7" r="5.4" fill="url(#sph)"/>
<text x="424.4" y="39.7" font-size="12.3" fill="#000">OP500</text>
<path d="M458.9 34.7H496.1" stroke="#ff80ff" stroke-width="1.05"/>
<path d="M472 34.7H483M477.5 29.2V40.2" stroke="#ff80ff" stroke-width="1.2" fill="none"/>
<text x="499.4" y="39.7" font-size="12.3" fill="#000">OP700</text>
<rect x="384.5" y="266.8" width="262.5" height="126.6" fill="#fff" stroke="#000" stroke-width="1.2"/>
<g stroke="#000" stroke-width="1" fill="none">
<path d="M382.3 391.64H384.5"/>
<path d="M380.5 382.85H384.5"/>
<path d="M382.3 374.06H384.5"/>
<path d="M380.5 365.27H384.5"/>
<path d="M382.3 356.47H384.5"/>
<path d="M380.5 347.68H384.5"/>
<path d="M382.3 338.89H384.5"/>
<path d="M380.5 330.1H384.5"/>
<path d="M382.3 321.31H384.5"/>
<path d="M380.5 312.52H384.5"/>
<path d="M382.3 303.73H384.5"/>
<path d="M380.5 294.93H384.5"/>
<path d="M382.3 286.14H384.5"/>
<path d="M380.5 277.35H384.5"/>
<path d="M382.3 268.56H384.5"/>
<path d="M384.5 393.4V396.6"/>
<path d="M400.91 393.4V395.2"/>
<path d="M417.31 393.4V396.6"/>
<path d="M433.72 393.4V395.2"/>
<path d="M450.12 393.4V396.6"/>
<path d="M466.53 393.4V395.2"/>
<path d="M482.94 393.4V396.6"/>
<path d="M499.34 393.4V395.2"/>
<path d="M515.75 393.4V396.6"/>
<path d="M532.16 393.4V395.2"/>
<path d="M548.56 393.4V396.6"/>
<path d="M564.97 393.4V395.2"/>
<path d="M581.38 393.4V396.6"/>
<path d="M597.78 393.4V395.2"/>
<path d="M614.19 393.4V396.6"/>
<path d="M630.59 393.4V395.2"/>
<path d="M647 393.4V396.6"/>
</g>
<g font-size="8" fill="#000" stroke="#000" stroke-width="0.3">
<text transform="translate(378.6,384.65) scale(1,0.68)" text-anchor="end">0.5</text>
<text transform="translate(378.6,367.07) scale(1,0.68)" text-anchor="end">1.0</text>
<text transform="translate(378.6,349.48) scale(1,0.68)" text-anchor="end">1.5</text>
<text transform="translate(378.6,331.9) scale(1,0.68)" text-anchor="end">2.0</text>
<text transform="translate(378.6,314.32) scale(1,0.68)" text-anchor="end">2.5</text>
<text transform="translate(378.6,296.73) scale(1,0.68)" text-anchor="end">3.0</text>
<text transform="translate(378.6,279.15) scale(1,0.68)" text-anchor="end">3.5</text>
<text transform="translate(384.5,402.1) scale(1,0.68)" text-anchor="middle">0</text>
<text transform="translate(417.31,402.1) scale(1,0.68)" text-anchor="middle">5</text>
<text transform="translate(450.12,402.1) scale(1,0.68)" text-anchor="middle">10</text>
<text transform="translate(482.94,402.1) scale(1,0.68)" text-anchor="middle">15</text>
<text transform="translate(515.75,402.1) scale(1,0.68)" text-anchor="middle">20</text>
<text transform="translate(548.56,402.1) scale(1,0.68)" text-anchor="middle">25</text>
<text transform="translate(581.38,402.1) scale(1,0.68)" text-anchor="middle">30</text>
<text transform="translate(614.19,402.1) scale(1,0.68)" text-anchor="middle">35</text>
<text transform="translate(647,402.1) scale(1,0.68)" text-anchor="middle">40</text>
</g>
<path d="M391.06 390.31V391.57M389.66 390.31H392.46M389.66 391.57H392.46" stroke="#c0a0ff" stroke-width="0.7" fill="none"/>
<path d="M397.62 391.65V393.04M396.23 391.65H399.02M396.23 393.04H399.02" stroke="#c0a0ff" stroke-width="0.7" fill="none"/>
<path d="M404.19 391.59V393.1M402.79 391.59H405.59M402.79 393.1H405.59" stroke="#c0a0ff" stroke-width="0.7" fill="none"/>
<path d="M410.75 387.31V388.94M409.35 387.31H412.15M409.35 388.94H412.15" stroke="#c0a0ff" stroke-width="0.7" fill="none"/>
<path d="M417.31 385.5V387.24M415.91 385.5H418.71M415.91 387.24H418.71" stroke="#c0a0ff" stroke-width="0.7" fill="none"/>
<path d="M423.88 383.33V385.19M422.48 383.33H425.27M422.48 385.19H425.27" stroke="#c0a0ff" stroke-width="0.7" fill="none"/>
<path d="M430.44 380.81V382.78M429.04 380.81H431.84M429.04 382.78H431.84" stroke="#c0a0ff" stroke-width="0.7" fill="none"/>
<path d="M437 377.58V379.68M435.6 377.58H438.4M435.6 379.68H438.4" stroke="#c0a0ff" stroke-width="0.7" fill="none"/>
<path d="M443.56 375.41V377.63M442.16 375.41H444.96M442.16 377.63H444.96" stroke="#c0a0ff" stroke-width="0.7" fill="none"/>
<path d="M450.12 371.14V373.46M448.73 371.14H451.52M448.73 373.46H451.52" stroke="#c0a0ff" stroke-width="0.7" fill="none"/>
<path d="M456.69 352.44V354.89M455.29 352.44H458.09M455.29 354.89H458.09" stroke="#c0a0ff" stroke-width="0.7" fill="none"/>
<path d="M463.25 351.68V354.24M461.85 351.68H464.65M461.85 354.24H464.65" stroke="#c0a0ff" stroke-width="0.7" fill="none"/>
<path d="M469.81 349.86V352.54M468.41 349.86H471.21M468.41 352.54H471.21" stroke="#c0a0ff" stroke-width="0.7" fill="none"/>
<path d="M476.38 348.04V350.84M474.98 348.04H477.77M474.98 350.84H477.77" stroke="#c0a0ff" stroke-width="0.7" fill="none"/>
<path d="M482.94 340.95V343.87M481.54 340.95H484.34M481.54 343.87H484.34" stroke="#c0a0ff" stroke-width="0.7" fill="none"/>
<path d="M489.5 339.13V342.17M488.1 339.13H490.9M488.1 342.17H490.9" stroke="#c0a0ff" stroke-width="0.7" fill="none"/>
<path d="M496.06 338.02V341.17M494.66 338.02H497.46M494.66 341.17H497.46" stroke="#c0a0ff" stroke-width="0.7" fill="none"/>
<path d="M502.62 336.9V340.18M501.23 336.9H504.02M501.23 340.18H504.02" stroke="#c0a0ff" stroke-width="0.7" fill="none"/>
<path d="M509.19 335.44V338.83M507.79 335.44H510.59M507.79 338.83H510.59" stroke="#c0a0ff" stroke-width="0.7" fill="none"/>
<path d="M515.75 333.97V337.48M514.35 333.97H517.15M514.35 337.48H517.15" stroke="#c0a0ff" stroke-width="0.7" fill="none"/>
<path d="M522.31 330.75V334.38M520.91 330.75H523.71M520.91 334.38H523.71" stroke="#c0a0ff" stroke-width="0.7" fill="none"/>
<path d="M528.88 329.28V333.03M527.48 329.28H530.27M527.48 333.03H530.27" stroke="#c0a0ff" stroke-width="0.7" fill="none"/>
<path d="M535.44 327.82V331.68M534.04 327.82H536.84M534.04 331.68H536.84" stroke="#c0a0ff" stroke-width="0.7" fill="none"/>
<path d="M542 325.29V329.28M540.6 325.29H543.4M540.6 329.28H543.4" stroke="#c0a0ff" stroke-width="0.7" fill="none"/>
<path d="M548.56 324.88V328.99M547.16 324.88H549.96M547.16 328.99H549.96" stroke="#c0a0ff" stroke-width="0.7" fill="none"/>
<path d="M555.12 322.36V326.58M553.73 322.36H556.52M553.73 326.58H556.52" stroke="#c0a0ff" stroke-width="0.7" fill="none"/>
<path d="M561.69 320.25V324.47M560.29 320.25H563.09M560.29 324.47H563.09" stroke="#c0a0ff" stroke-width="0.7" fill="none"/>
<path d="M568.25 317.44V321.66M566.85 317.44H569.65M566.85 321.66H569.65" stroke="#c0a0ff" stroke-width="0.7" fill="none"/>
<path d="M574.81 313.92V318.14M573.41 313.92H576.21M573.41 318.14H576.21" stroke="#c0a0ff" stroke-width="0.7" fill="none"/>
<path d="M581.38 312.17V316.38M579.98 312.17H582.77M579.98 316.38H582.77" stroke="#c0a0ff" stroke-width="0.7" fill="none"/>
<path d="M587.94 307.95V312.17M586.54 307.95H589.34M586.54 312.17H589.34" stroke="#c0a0ff" stroke-width="0.7" fill="none"/>
<path d="M594.5 307.24V311.46M593.1 307.24H595.9M593.1 311.46H595.9" stroke="#c0a0ff" stroke-width="0.7" fill="none"/>
<path d="M601.06 306.54V310.76M599.66 306.54H602.46M599.66 310.76H602.46" stroke="#c0a0ff" stroke-width="0.7" fill="none"/>
<path d="M607.62 304.43V308.65M606.23 304.43H609.02M606.23 308.65H609.02" stroke="#c0a0ff" stroke-width="0.7" fill="none"/>
<path d="M614.19 304.08V308.3M612.79 304.08H615.59M612.79 308.3H615.59" stroke="#c0a0ff" stroke-width="0.7" fill="none"/>
<path d="M620.75 304.08V308.3M619.35 304.08H622.15M619.35 308.3H622.15" stroke="#c0a0ff" stroke-width="0.7" fill="none"/>
<path d="M627.31 302.32V306.54M625.91 302.32H628.71M625.91 306.54H628.71" stroke="#c0a0ff" stroke-width="0.7" fill="none"/>
<path d="M633.88 301.26V305.48M632.48 301.26H635.27M632.48 305.48H635.27" stroke="#c0a0ff" stroke-width="0.7" fill="none"/>
<path d="M391.06 385.31V389.53M389.66 385.31H392.46M389.66 389.53H392.46" stroke="#d8a8d8" stroke-width="0.7" fill="none"/>
<path d="M397.62 385.47V390.08M396.23 385.47H399.02M396.23 390.08H399.02" stroke="#d8a8d8" stroke-width="0.7" fill="none"/>
<path d="M404.19 385.62V390.63M402.79 385.62H405.59M402.79 390.63H405.59" stroke="#d8a8d8" stroke-width="0.7" fill="none"/>
<path d="M410.75 381.56V386.96M409.35 381.56H412.15M409.35 386.96H412.15" stroke="#d8a8d8" stroke-width="0.7" fill="none"/>
<path d="M417.31 378.9V384.69M415.91 378.9H418.71M415.91 384.69H418.71" stroke="#d8a8d8" stroke-width="0.7" fill="none"/>
<path d="M423.88 378.35V384.54M422.48 378.35H425.27M422.48 384.54H425.27" stroke="#d8a8d8" stroke-width="0.7" fill="none"/>
<path d="M430.44 376.75V383.33M429.04 376.75H431.84M429.04 383.33H431.84" stroke="#d8a8d8" stroke-width="0.7" fill="none"/>
<path d="M437 373.38V380.36M435.6 373.38H438.4M435.6 380.36H438.4" stroke="#d8a8d8" stroke-width="0.7" fill="none"/>
<path d="M443.56 372.48V379.85M442.16 372.48H444.96M442.16 379.85H444.96" stroke="#d8a8d8" stroke-width="0.7" fill="none"/>
<path d="M450.12 368.07V375.83M448.73 368.07H451.52M448.73 375.83H451.52" stroke="#d8a8d8" stroke-width="0.7" fill="none"/>
<path d="M456.69 365.06V373.21M455.29 365.06H458.09M455.29 373.21H458.09" stroke="#d8a8d8" stroke-width="0.7" fill="none"/>
<path d="M463.25 363.45V372M461.85 363.45H464.65M461.85 372H464.65" stroke="#d8a8d8" stroke-width="0.7" fill="none"/>
<path d="M469.81 360.79V369.74M468.41 360.79H471.21M468.41 369.74H471.21" stroke="#d8a8d8" stroke-width="0.7" fill="none"/>
<path d="M476.38 357.78V367.12M474.98 357.78H477.77M474.98 367.12H477.77" stroke="#d8a8d8" stroke-width="0.7" fill="none"/>
<path d="M482.94 348.79V358.53M481.54 348.79H484.34M481.54 358.53H484.34" stroke="#d8a8d8" stroke-width="0.7" fill="none"/>
<path d="M489.5 348.25V358.37M488.1 348.25H490.9M488.1 358.37H490.9" stroke="#d8a8d8" stroke-width="0.7" fill="none"/>
<path d="M496.06 346.99V357.52M494.66 346.99H497.46M494.66 357.52H497.46" stroke="#d8a8d8" stroke-width="0.7" fill="none"/>
<path d="M502.62 345.74V356.66M501.23 345.74H504.02M501.23 356.66H504.02" stroke="#d8a8d8" stroke-width="0.7" fill="none"/>
<path d="M509.19 344.14V355.45M507.79 344.14H510.59M507.79 355.45H510.59" stroke="#d8a8d8" stroke-width="0.7" fill="none"/>
<path d="M515.75 342.89V354.59M514.35 342.89H517.15M514.35 354.59H517.15" stroke="#d8a8d8" stroke-width="0.7" fill="none"/>
<path d="M522.31 334.6V346.7M520.91 334.6H523.71M520.91 346.7H523.71" stroke="#d8a8d8" stroke-width="0.7" fill="none"/>
<path d="M528.88 332.29V344.79M527.48 332.29H530.27M527.48 344.79H530.27" stroke="#d8a8d8" stroke-width="0.7" fill="none"/>
<path d="M535.44 331.04V343.93M534.04 331.04H536.84M534.04 343.93H536.84" stroke="#d8a8d8" stroke-width="0.7" fill="none"/>
<path d="M542 328.74V342.01M540.6 328.74H543.4M540.6 342.01H543.4" stroke="#d8a8d8" stroke-width="0.7" fill="none"/>
<path d="M548.56 327.84V341.51M547.16 327.84H549.96M547.16 341.51H549.96" stroke="#d8a8d8" stroke-width="0.7" fill="none"/>
<path d="M555.12 325.53V339.59M553.73 325.53H556.52M553.73 339.59H556.52" stroke="#d8a8d8" stroke-width="0.7" fill="none"/>
<path d="M561.69 322.36V336.43M560.29 322.36H563.09M560.29 336.43H563.09" stroke="#d8a8d8" stroke-width="0.7" fill="none"/>
<path d="M568.25 320.25V334.32M566.85 320.25H569.65M566.85 334.32H569.65" stroke="#d8a8d8" stroke-width="0.7" fill="none"/>
<path d="M574.81 317.44V331.51M573.41 317.44H576.21M573.41 331.51H576.21" stroke="#d8a8d8" stroke-width="0.7" fill="none"/>
<path d="M581.38 316.03V330.1M579.98 316.03H582.77M579.98 330.1H582.77" stroke="#d8a8d8" stroke-width="0.7" fill="none"/>
<path d="M587.94 312.52V326.58M586.54 312.52H589.34M586.54 326.58H589.34" stroke="#d8a8d8" stroke-width="0.7" fill="none"/>
<path d="M594.5 312.17V326.23M593.1 312.17H595.9M593.1 326.23H595.9" stroke="#d8a8d8" stroke-width="0.7" fill="none"/>
<path d="M601.06 311.11V325.18M599.66 311.11H602.46M599.66 325.18H602.46" stroke="#d8a8d8" stroke-width="0.7" fill="none"/>
<path d="M607.62 309.7V323.77M606.23 309.7H609.02M606.23 323.77H609.02" stroke="#d8a8d8" stroke-width="0.7" fill="none"/>
<path d="M614.19 309V323.07M612.79 309H615.59M612.79 323.07H615.59" stroke="#d8a8d8" stroke-width="0.7" fill="none"/>
<path d="M620.75 308.3V322.36M619.35 308.3H622.15M619.35 322.36H622.15" stroke="#d8a8d8" stroke-width="0.7" fill="none"/>
<path d="M627.31 306.19V320.25M625.91 306.19H628.71M625.91 320.25H628.71" stroke="#d8a8d8" stroke-width="0.7" fill="none"/>
<path d="M633.88 305.13V319.2M632.48 305.13H635.27M632.48 319.2H635.27" stroke="#d8a8d8" stroke-width="0.7" fill="none"/>
<path d="M391.06 378V381.37M389.66 378H392.46M389.66 381.37H392.46" stroke="#d8a0a0" stroke-width="0.7" fill="none"/>
<path d="M397.62 380.3V383.99M396.23 380.3H399.02M396.23 383.99H399.02" stroke="#d8a0a0" stroke-width="0.7" fill="none"/>
<path d="M404.19 378.74V382.74M402.79 378.74H405.59M402.79 382.74H405.59" stroke="#d8a0a0" stroke-width="0.7" fill="none"/>
<path d="M410.75 376.47V380.79M409.35 376.47H412.15M409.35 380.79H412.15" stroke="#d8a0a0" stroke-width="0.7" fill="none"/>
<path d="M417.31 373.15V377.78M415.91 373.15H418.71M415.91 377.78H418.71" stroke="#d8a0a0" stroke-width="0.7" fill="none"/>
<path d="M423.88 370.88V375.83M422.48 370.88H425.27M422.48 375.83H425.27" stroke="#d8a0a0" stroke-width="0.7" fill="none"/>
<path d="M430.44 367.91V373.17M429.04 367.91H431.84M429.04 373.17H431.84" stroke="#d8a0a0" stroke-width="0.7" fill="none"/>
<path d="M437 365.29V370.87M435.6 365.29H438.4M435.6 370.87H438.4" stroke="#d8a0a0" stroke-width="0.7" fill="none"/>
<path d="M443.56 363.02V368.92M442.16 363.02H444.96M442.16 368.92H444.96" stroke="#d8a0a0" stroke-width="0.7" fill="none"/>
<path d="M450.12 358.29V364.5M448.73 358.29H451.52M448.73 364.5H451.52" stroke="#d8a0a0" stroke-width="0.7" fill="none"/>
<path d="M456.69 348.99V355.52M455.29 348.99H458.09M455.29 355.52H458.09" stroke="#d8a0a0" stroke-width="0.7" fill="none"/>
<path d="M463.25 348.83V355.68M461.85 348.83H464.65M461.85 355.68H464.65" stroke="#d8a0a0" stroke-width="0.7" fill="none"/>
<path d="M469.81 345.86V353.02M468.41 345.86H471.21M468.41 353.02H471.21" stroke="#d8a0a0" stroke-width="0.7" fill="none"/>
<path d="M476.38 343.95V351.42M474.98 343.95H477.77M474.98 351.42H477.77" stroke="#d8a0a0" stroke-width="0.7" fill="none"/>
<path d="M482.94 336.76V344.54M481.54 336.76H484.34M481.54 344.54H484.34" stroke="#d8a0a0" stroke-width="0.7" fill="none"/>
<path d="M489.5 336.25V344.35M488.1 336.25H490.9M488.1 344.35H490.9" stroke="#d8a0a0" stroke-width="0.7" fill="none"/>
<path d="M496.06 335.39V343.8M494.66 335.39H497.46M494.66 343.8H497.46" stroke="#d8a0a0" stroke-width="0.7" fill="none"/>
<path d="M502.62 335.23V343.96M501.23 335.23H504.02M501.23 343.96H504.02" stroke="#d8a0a0" stroke-width="0.7" fill="none"/>
<path d="M509.19 334.37V343.42M507.79 334.37H510.59M507.79 343.42H510.59" stroke="#d8a0a0" stroke-width="0.7" fill="none"/>
<path d="M515.75 333.51V342.87M514.35 333.51H517.15M514.35 342.87H517.15" stroke="#d8a0a0" stroke-width="0.7" fill="none"/>
<path d="M522.31 324.21V333.88M520.91 324.21H523.71M520.91 333.88H523.71" stroke="#d8a0a0" stroke-width="0.7" fill="none"/>
<path d="M528.88 324.05V334.04M527.48 324.05H530.27M527.48 334.04H530.27" stroke="#d8a0a0" stroke-width="0.7" fill="none"/>
<path d="M535.44 323.54V333.85M534.04 323.54H536.84M534.04 333.85H536.84" stroke="#d8a0a0" stroke-width="0.7" fill="none"/>
<path d="M542 321.27V331.89M540.6 321.27H543.4M540.6 331.89H543.4" stroke="#d8a0a0" stroke-width="0.7" fill="none"/>
<path d="M548.56 319.71V330.65M547.16 319.71H549.96M547.16 330.65H549.96" stroke="#d8a0a0" stroke-width="0.7" fill="none"/>
<path d="M555.12 317.79V329.05M553.73 317.79H556.52M553.73 329.05H556.52" stroke="#d8a0a0" stroke-width="0.7" fill="none"/>
<path d="M561.69 314.98V326.23M560.29 314.98H563.09M560.29 326.23H563.09" stroke="#d8a0a0" stroke-width="0.7" fill="none"/>
<path d="M568.25 312.17V323.42M566.85 312.17H569.65M566.85 323.42H569.65" stroke="#d8a0a0" stroke-width="0.7" fill="none"/>
<path d="M574.81 308.3V319.55M573.41 308.3H576.21M573.41 319.55H576.21" stroke="#d8a0a0" stroke-width="0.7" fill="none"/>
<path d="M581.38 306.54V317.79M579.98 306.54H582.77M579.98 317.79H582.77" stroke="#d8a0a0" stroke-width="0.7" fill="none"/>
<path d="M587.94 300.91V312.17M586.54 300.91H589.34M586.54 312.17H589.34" stroke="#d8a0a0" stroke-width="0.7" fill="none"/>
<path d="M594.5 301.26V312.52M593.1 301.26H595.9M593.1 312.52H595.9" stroke="#d8a0a0" stroke-width="0.7" fill="none"/>
<path d="M601.06 300.21V311.46M599.66 300.21H602.46M599.66 311.46H602.46" stroke="#d8a0a0" stroke-width="0.7" fill="none"/>
<path d="M607.62 299.15V310.41M606.23 299.15H609.02M606.23 310.41H609.02" stroke="#d8a0a0" stroke-width="0.7" fill="none"/>
<path d="M614.19 298.1V309.35M612.79 298.1H615.59M612.79 309.35H615.59" stroke="#d8a0a0" stroke-width="0.7" fill="none"/>
<path d="M620.75 297.39V308.65M619.35 297.39H622.15M619.35 308.65H622.15" stroke="#d8a0a0" stroke-width="0.7" fill="none"/>
<path d="M627.31 295.64V306.89M625.91 295.64H628.71M625.91 306.89H628.71" stroke="#d8a0a0" stroke-width="0.7" fill="none"/>
<path d="M633.88 294.23V305.48M632.48 294.23H635.27M632.48 305.48H635.27" stroke="#d8a0a0" stroke-width="0.7" fill="none"/>
<path d="M391.06 377.65V378.91M389.66 377.65H392.46M389.66 378.91H392.46" stroke="#d0d0a0" stroke-width="0.7" fill="none"/>
<path d="M397.62 380.05V381.43M396.23 380.05H399.02M396.23 381.43H399.02" stroke="#d0d0a0" stroke-width="0.7" fill="none"/>
<path d="M404.19 378.58V380.08M402.79 378.58H405.59M402.79 380.08H405.59" stroke="#d0d0a0" stroke-width="0.7" fill="none"/>
<path d="M410.75 376.41V378.03M409.35 376.41H412.15M409.35 378.03H412.15" stroke="#d0d0a0" stroke-width="0.7" fill="none"/>
<path d="M417.31 373.19V374.93M415.91 373.19H418.71M415.91 374.93H418.71" stroke="#d0d0a0" stroke-width="0.7" fill="none"/>
<path d="M423.88 371.02V372.88M422.48 371.02H425.27M422.48 372.88H425.27" stroke="#d0d0a0" stroke-width="0.7" fill="none"/>
<path d="M430.44 368.15V370.12M429.04 368.15H431.84M429.04 370.12H431.84" stroke="#d0d0a0" stroke-width="0.7" fill="none"/>
<path d="M437 365.63V367.72M435.6 365.63H438.4M435.6 367.72H438.4" stroke="#d0d0a0" stroke-width="0.7" fill="none"/>
<path d="M443.56 363.46V365.67M442.16 363.46H444.96M442.16 365.67H444.96" stroke="#d0d0a0" stroke-width="0.7" fill="none"/>
<path d="M450.12 356.01V358.34M448.73 356.01H451.52M448.73 358.34H451.52" stroke="#d0d0a0" stroke-width="0.7" fill="none"/>
<path d="M456.69 346.81V349.26M455.29 346.81H458.09M455.29 349.26H458.09" stroke="#d0d0a0" stroke-width="0.7" fill="none"/>
<path d="M463.25 346.75V349.32M461.85 346.75H464.65M461.85 349.32H464.65" stroke="#d0d0a0" stroke-width="0.7" fill="none"/>
<path d="M469.81 343.88V346.56M468.41 343.88H471.21M468.41 346.56H471.21" stroke="#d0d0a0" stroke-width="0.7" fill="none"/>
<path d="M476.38 342.06V344.86M474.98 342.06H477.77M474.98 344.86H477.77" stroke="#d0d0a0" stroke-width="0.7" fill="none"/>
<path d="M482.94 334.97V337.89M481.54 334.97H484.34M481.54 337.89H484.34" stroke="#d0d0a0" stroke-width="0.7" fill="none"/>
<path d="M489.5 334.56V337.6M488.1 334.56H490.9M488.1 337.6H490.9" stroke="#d0d0a0" stroke-width="0.7" fill="none"/>
<path d="M496.06 333.8V336.95M494.66 333.8H497.46M494.66 336.95H497.46" stroke="#d0d0a0" stroke-width="0.7" fill="none"/>
<path d="M502.62 333.74V337.01M501.23 333.74H504.02M501.23 337.01H504.02" stroke="#d0d0a0" stroke-width="0.7" fill="none"/>
<path d="M509.19 332.98V336.37M507.79 332.98H510.59M507.79 336.37H510.59" stroke="#d0d0a0" stroke-width="0.7" fill="none"/>
<path d="M515.75 332.21V335.72M514.35 332.21H517.15M514.35 335.72H517.15" stroke="#d0d0a0" stroke-width="0.7" fill="none"/>
<path d="M522.31 325.82V329.45M520.91 325.82H523.71M520.91 329.45H523.71" stroke="#d0d0a0" stroke-width="0.7" fill="none"/>
<path d="M528.88 325.76V329.51M527.48 325.76H530.27M527.48 329.51H530.27" stroke="#d0d0a0" stroke-width="0.7" fill="none"/>
<path d="M535.44 325.35V329.22M534.04 325.35H536.84M534.04 329.22H536.84" stroke="#d0d0a0" stroke-width="0.7" fill="none"/>
<path d="M542 323.18V327.17M540.6 323.18H543.4M540.6 327.17H543.4" stroke="#d0d0a0" stroke-width="0.7" fill="none"/>
<path d="M548.56 321.72V325.82M547.16 321.72H549.96M547.16 325.82H549.96" stroke="#d0d0a0" stroke-width="0.7" fill="none"/>
<path d="M555.12 319.9V324.12M553.73 319.9H556.52M553.73 324.12H556.52" stroke="#d0d0a0" stroke-width="0.7" fill="none"/>
<path d="M561.69 317.09V321.31M560.29 317.09H563.09M560.29 321.31H563.09" stroke="#d0d0a0" stroke-width="0.7" fill="none"/>
<path d="M568.25 314.27V318.5M566.85 314.27H569.65M566.85 318.5H569.65" stroke="#d0d0a0" stroke-width="0.7" fill="none"/>
<path d="M574.81 310.41V314.63M573.41 310.41H576.21M573.41 314.63H576.21" stroke="#d0d0a0" stroke-width="0.7" fill="none"/>
<path d="M581.38 308.65V312.87M579.98 308.65H582.77M579.98 312.87H582.77" stroke="#d0d0a0" stroke-width="0.7" fill="none"/>
<path d="M587.94 303.02V307.24M586.54 303.02H589.34M586.54 307.24H589.34" stroke="#d0d0a0" stroke-width="0.7" fill="none"/>
<path d="M594.5 303.37V307.59M593.1 303.37H595.9M593.1 307.59H595.9" stroke="#d0d0a0" stroke-width="0.7" fill="none"/>
<path d="M601.06 302.32V306.54M599.66 302.32H602.46M599.66 306.54H602.46" stroke="#d0d0a0" stroke-width="0.7" fill="none"/>
<path d="M607.62 301.26V305.48M606.23 301.26H609.02M606.23 305.48H609.02" stroke="#d0d0a0" stroke-width="0.7" fill="none"/>
<path d="M614.19 300.21V304.43M612.79 300.21H615.59M612.79 304.43H615.59" stroke="#d0d0a0" stroke-width="0.7" fill="none"/>
<path d="M620.75 299.5V303.73M619.35 299.5H622.15M619.35 303.73H622.15" stroke="#d0d0a0" stroke-width="0.7" fill="none"/>
<path d="M627.31 297.75V301.97M625.91 297.75H628.71M625.91 301.97H628.71" stroke="#d0d0a0" stroke-width="0.7" fill="none"/>
<path d="M633.88 296.34V300.56M632.48 296.34H635.27M632.48 300.56H635.27" stroke="#d0d0a0" stroke-width="0.7" fill="none"/>
<path d="M391.06 381.79V388.12M389.66 381.79H392.46M389.66 388.12H392.46" stroke="#7a7a7a" stroke-width="0.7" fill="none"/>
<path d="M397.62 382.2V389.12M396.23 382.2H399.02M396.23 389.12H399.02" stroke="#7a7a7a" stroke-width="0.7" fill="none"/>
<path d="M404.19 377.69V385.2M402.79 377.69H405.59M402.79 385.2H405.59" stroke="#7a7a7a" stroke-width="0.7" fill="none"/>
<path d="M410.75 375.28V383.38M409.35 375.28H412.15M409.35 383.38H412.15" stroke="#7a7a7a" stroke-width="0.7" fill="none"/>
<path d="M417.31 371.12V379.81M415.91 371.12H418.71M415.91 379.81H418.71" stroke="#7a7a7a" stroke-width="0.7" fill="none"/>
<path d="M423.88 367.31V376.59M422.48 367.31H425.27M422.48 376.59H425.27" stroke="#7a7a7a" stroke-width="0.7" fill="none"/>
<path d="M430.44 364.2V374.07M429.04 364.2H431.84M429.04 374.07H431.84" stroke="#7a7a7a" stroke-width="0.7" fill="none"/>
<path d="M437 361.44V371.91M435.6 361.44H438.4M435.6 371.91H438.4" stroke="#7a7a7a" stroke-width="0.7" fill="none"/>
<path d="M443.56 358.68V369.74M442.16 358.68H444.96M442.16 369.74H444.96" stroke="#7a7a7a" stroke-width="0.7" fill="none"/>
<path d="M450.12 348.89V360.54M448.73 348.89H451.52M448.73 360.54H451.52" stroke="#7a7a7a" stroke-width="0.7" fill="none"/>
<path d="M456.69 345.08V357.32M455.29 345.08H458.09M455.29 357.32H458.09" stroke="#7a7a7a" stroke-width="0.7" fill="none"/>
<path d="M463.25 344.08V356.91M461.85 344.08H464.65M461.85 356.91H464.65" stroke="#7a7a7a" stroke-width="0.7" fill="none"/>
<path d="M469.81 342.03V355.45M468.41 342.03H471.21M468.41 355.45H471.21" stroke="#7a7a7a" stroke-width="0.7" fill="none"/>
<path d="M476.38 336.81V350.82M474.98 336.81H477.77M474.98 350.82H477.77" stroke="#7a7a7a" stroke-width="0.7" fill="none"/>
<path d="M482.94 325.26V339.86M481.54 325.26H484.34M481.54 339.86H484.34" stroke="#7a7a7a" stroke-width="0.7" fill="none"/>
<path d="M489.5 324.26V339.45M488.1 324.26H490.9M488.1 339.45H490.9" stroke="#7a7a7a" stroke-width="0.7" fill="none"/>
<path d="M496.06 322.91V338.69M494.66 322.91H497.46M494.66 338.69H497.46" stroke="#7a7a7a" stroke-width="0.7" fill="none"/>
<path d="M502.62 322.26V338.64M501.23 322.26H504.02M501.23 338.64H504.02" stroke="#7a7a7a" stroke-width="0.7" fill="none"/>
<path d="M509.19 318.8V335.77M507.79 318.8H510.59M507.79 335.77H510.59" stroke="#7a7a7a" stroke-width="0.7" fill="none"/>
<path d="M515.75 317.81V335.36M514.35 317.81H517.15M514.35 335.36H517.15" stroke="#7a7a7a" stroke-width="0.7" fill="none"/>
<path d="M522.31 307.31V325.46M520.91 307.31H523.71M520.91 325.46H523.71" stroke="#7a7a7a" stroke-width="0.7" fill="none"/>
<path d="M528.88 307.37V326.11M527.48 307.37H530.27M527.48 326.11H530.27" stroke="#7a7a7a" stroke-width="0.7" fill="none"/>
<path d="M535.44 306.37V325.7M534.04 306.37H536.84M534.04 325.7H536.84" stroke="#7a7a7a" stroke-width="0.7" fill="none"/>
<path d="M542 303.61V323.53M540.6 303.61H543.4M540.6 323.53H543.4" stroke="#7a7a7a" stroke-width="0.7" fill="none"/>
<path d="M548.56 302.26V322.77M547.16 302.26H549.96M547.16 322.77H549.96" stroke="#7a7a7a" stroke-width="0.7" fill="none"/>
<path d="M555.12 299.5V320.61M553.73 299.5H556.52M553.73 320.61H556.52" stroke="#7a7a7a" stroke-width="0.7" fill="none"/>
<path d="M561.69 297.4V318.5M560.29 297.4H563.09M560.29 318.5H563.09" stroke="#7a7a7a" stroke-width="0.7" fill="none"/>
<path d="M568.25 294.58V315.68M566.85 294.58H569.65M566.85 315.68H569.65" stroke="#7a7a7a" stroke-width="0.7" fill="none"/>
<path d="M574.81 288.96V310.06M573.41 288.96H576.21M573.41 310.06H576.21" stroke="#7a7a7a" stroke-width="0.7" fill="none"/>
<path d="M581.38 284.74V305.83M579.98 284.74H582.77M579.98 305.83H582.77" stroke="#7a7a7a" stroke-width="0.7" fill="none"/>
<path d="M587.94 280.16V301.26M586.54 280.16H589.34M586.54 301.26H589.34" stroke="#7a7a7a" stroke-width="0.7" fill="none"/>
<path d="M594.5 279.81V300.91M593.1 279.81H595.9M593.1 300.91H595.9" stroke="#7a7a7a" stroke-width="0.7" fill="none"/>
<path d="M601.06 278.76V299.86M599.66 278.76H602.46M599.66 299.86H602.46" stroke="#7a7a7a" stroke-width="0.7" fill="none"/>
<path d="M607.62 275.94V297.04M606.23 275.94H609.02M606.23 297.04H609.02" stroke="#7a7a7a" stroke-width="0.7" fill="none"/>
<path d="M614.19 275.59V296.69M612.79 275.59H615.59M612.79 296.69H615.59" stroke="#7a7a7a" stroke-width="0.7" fill="none"/>
<path d="M620.75 275.94V297.04M619.35 275.94H622.15M619.35 297.04H622.15" stroke="#7a7a7a" stroke-width="0.7" fill="none"/>
<path d="M627.31 274.89V295.99M625.91 274.89H628.71M625.91 295.99H628.71" stroke="#7a7a7a" stroke-width="0.7" fill="none"/>
<path d="M633.88 272.78V293.88M632.48 272.78H635.27M632.48 293.88H635.27" stroke="#7a7a7a" stroke-width="0.7" fill="none"/>
<path d="M391.06 381.44V385.66M389.66 381.44H392.46M389.66 385.66H392.46" stroke="#ffc0ff" stroke-width="0.7" fill="none"/>
<path d="M397.62 381.6V386.21M396.23 381.6H399.02M396.23 386.21H399.02" stroke="#ffc0ff" stroke-width="0.7" fill="none"/>
<path d="M404.19 377.53V382.54M402.79 377.53H405.59M402.79 382.54H405.59" stroke="#ffc0ff" stroke-width="0.7" fill="none"/>
<path d="M410.75 374.87V380.28M409.35 374.87H412.15M409.35 380.28H412.15" stroke="#ffc0ff" stroke-width="0.7" fill="none"/>
<path d="M417.31 370.81V376.6M415.91 370.81H418.71M415.91 376.6H418.71" stroke="#ffc0ff" stroke-width="0.7" fill="none"/>
<path d="M423.88 367.45V373.64M422.48 367.45H425.27M422.48 373.64H425.27" stroke="#ffc0ff" stroke-width="0.7" fill="none"/>
<path d="M430.44 364.44V371.02M429.04 364.44H431.84M429.04 371.02H431.84" stroke="#ffc0ff" stroke-width="0.7" fill="none"/>
<path d="M437 361.78V368.76M435.6 361.78H438.4M435.6 368.76H438.4" stroke="#ffc0ff" stroke-width="0.7" fill="none"/>
<path d="M443.56 358.77V366.14M442.16 358.77H444.96M442.16 366.14H444.96" stroke="#ffc0ff" stroke-width="0.7" fill="none"/>
<path d="M450.12 351.54V359.3M448.73 351.54H451.52M448.73 359.3H451.52" stroke="#ffc0ff" stroke-width="0.7" fill="none"/>
<path d="M456.69 347.12V355.28M455.29 347.12H458.09M455.29 355.28H458.09" stroke="#ffc0ff" stroke-width="0.7" fill="none"/>
<path d="M463.25 346.22V354.77M461.85 346.22H464.65M461.85 354.77H464.65" stroke="#ffc0ff" stroke-width="0.7" fill="none"/>
<path d="M469.81 343.91V352.86M468.41 343.91H471.21M468.41 352.86H471.21" stroke="#ffc0ff" stroke-width="0.7" fill="none"/>
<path d="M476.38 340.2V349.54M474.98 340.2H477.77M474.98 349.54H477.77" stroke="#ffc0ff" stroke-width="0.7" fill="none"/>
<path d="M482.94 332.27V342M481.54 332.27H484.34M481.54 342H484.34" stroke="#ffc0ff" stroke-width="0.7" fill="none"/>
<path d="M489.5 331.37V341.49M488.1 331.37H490.9M488.1 341.49H490.9" stroke="#ffc0ff" stroke-width="0.7" fill="none"/>
<path d="M496.06 329.76V340.28M494.66 329.76H497.46M494.66 340.28H497.46" stroke="#ffc0ff" stroke-width="0.7" fill="none"/>
<path d="M502.62 328.86V339.78M501.23 328.86H504.02M501.23 339.78H504.02" stroke="#ffc0ff" stroke-width="0.7" fill="none"/>
<path d="M509.19 326.91V338.22M507.79 326.91H510.59M507.79 338.22H510.59" stroke="#ffc0ff" stroke-width="0.7" fill="none"/>
<path d="M515.75 325.3V337.01M514.35 325.3H517.15M514.35 337.01H517.15" stroke="#ffc0ff" stroke-width="0.7" fill="none"/>
<path d="M522.31 316.67V328.76M520.91 316.67H523.71M520.91 328.76H523.71" stroke="#ffc0ff" stroke-width="0.7" fill="none"/>
<path d="M528.88 316.12V328.61M527.48 316.12H530.27M527.48 328.61H530.27" stroke="#ffc0ff" stroke-width="0.7" fill="none"/>
<path d="M535.44 314.87V327.75M534.04 314.87H536.84M534.04 327.75H536.84" stroke="#ffc0ff" stroke-width="0.7" fill="none"/>
<path d="M542 312.91V326.19M540.6 312.91H543.4M540.6 326.19H543.4" stroke="#ffc0ff" stroke-width="0.7" fill="none"/>
<path d="M548.56 311.31V324.98M547.16 311.31H549.96M547.16 324.98H549.96" stroke="#ffc0ff" stroke-width="0.7" fill="none"/>
<path d="M555.12 309V323.07M553.73 309H556.52M553.73 323.07H556.52" stroke="#ffc0ff" stroke-width="0.7" fill="none"/>
<path d="M561.69 306.54V320.61M560.29 306.54H563.09M560.29 320.61H563.09" stroke="#ffc0ff" stroke-width="0.7" fill="none"/>
<path d="M568.25 303.73V317.79M566.85 303.73H569.65M566.85 317.79H569.65" stroke="#ffc0ff" stroke-width="0.7" fill="none"/>
<path d="M574.81 299.86V313.92M573.41 299.86H576.21M573.41 313.92H576.21" stroke="#ffc0ff" stroke-width="0.7" fill="none"/>
<path d="M581.38 296.34V310.41M579.98 296.34H582.77M579.98 310.41H582.77" stroke="#ffc0ff" stroke-width="0.7" fill="none"/>
<path d="M587.94 292.82V306.89M586.54 292.82H589.34M586.54 306.89H589.34" stroke="#ffc0ff" stroke-width="0.7" fill="none"/>
<path d="M594.5 292.12V306.19M593.1 292.12H595.9M593.1 306.19H595.9" stroke="#ffc0ff" stroke-width="0.7" fill="none"/>
<path d="M601.06 290.71V304.78M599.66 290.71H602.46M599.66 304.78H602.46" stroke="#ffc0ff" stroke-width="0.7" fill="none"/>
<path d="M607.62 288.6V302.67M606.23 288.6H609.02M606.23 302.67H609.02" stroke="#ffc0ff" stroke-width="0.7" fill="none"/>
<path d="M614.19 287.2V301.26M612.79 287.2H615.59M612.79 301.26H615.59" stroke="#ffc0ff" stroke-width="0.7" fill="none"/>
<path d="M620.75 286.49V300.56M619.35 286.49H622.15M619.35 300.56H622.15" stroke="#ffc0ff" stroke-width="0.7" fill="none"/>
<path d="M627.31 285.09V299.15M625.91 285.09H628.71M625.91 299.15H628.71" stroke="#ffc0ff" stroke-width="0.7" fill="none"/>
<path d="M633.88 283.33V297.4M632.48 283.33H635.27M632.48 297.4H635.27" stroke="#ffc0ff" stroke-width="0.7" fill="none"/>
<polyline points="391.06,390.94 397.62,392.34 404.19,392.34 410.75,388.12 417.31,386.37 423.88,384.26 430.44,381.79 437,378.63 443.56,376.52 450.12,372.3 456.69,353.66 463.25,352.96 469.81,351.2 476.38,349.44 482.94,342.41 489.5,340.65 496.06,339.59 502.62,338.54 509.19,337.13 515.75,335.73 522.31,332.56 528.88,331.15 535.44,329.75 542,327.29 548.56,326.94 555.12,324.47 561.69,322.36 568.25,319.55 574.81,316.03 581.38,314.27 587.94,310.06 594.5,309.35 601.06,308.65 607.62,306.54 614.19,306.19 620.75,306.19 627.31,304.43 633.88,303.37" fill="none" stroke="#8000ff" stroke-width="0.6"/>
<g transform="translate(391.06 390.94) scale(0.45 0.35)"><polygon points="7.2,0 -4.8,-6 -4.8,6" fill="#8000ff"/></g>
<g transform="translate(397.62 392.34) scale(0.45 0.35)"><polygon points="7.2,0 -4.8,-6 -4.8,6" fill="#8000ff"/></g>
<g transform="translate(404.19 392.34) scale(0.45 0.35)"><polygon points="7.2,0 -4.8,-6 -4.8,6" fill="#8000ff"/></g>
<g transform="translate(410.75 388.12) scale(0.45 0.35)"><polygon points="7.2,0 -4.8,-6 -4.8,6" fill="#8000ff"/></g>
<g transform="translate(417.31 386.37) scale(0.45 0.35)"><polygon points="7.2,0 -4.8,-6 -4.8,6" fill="#8000ff"/></g>
<g transform="translate(423.88 384.26) scale(0.45 0.35)"><polygon points="7.2,0 -4.8,-6 -4.8,6" fill="#8000ff"/></g>
<g transform="translate(430.44 381.79) scale(0.45 0.35)"><polygon points="7.2,0 -4.8,-6 -4.8,6" fill="#8000ff"/></g>
<g transform="translate(437 378.63) scale(0.45 0.35)"><polygon points="7.2,0 -4.8,-6 -4.8,6" fill="#8000ff"/></g>
<g transform="translate(443.56 376.52) scale(0.45 0.35)"><polygon points="7.2,0 -4.8,-6 -4.8,6" fill="#8000ff"/></g>
<g transform="translate(450.12 372.3) scale(0.45 0.35)"><polygon points="7.2,0 -4.8,-6 -4.8,6" fill="#8000ff"/></g>
<g transform="translate(456.69 353.66) scale(0.45 0.35)"><polygon points="7.2,0 -4.8,-6 -4.8,6" fill="#8000ff"/></g>
<g transform="translate(463.25 352.96) scale(0.45 0.35)"><polygon points="7.2,0 -4.8,-6 -4.8,6" fill="#8000ff"/></g>
<g transform="translate(469.81 351.2) scale(0.45 0.35)"><polygon points="7.2,0 -4.8,-6 -4.8,6" fill="#8000ff"/></g>
<g transform="translate(476.38 349.44) scale(0.45 0.35)"><polygon points="7.2,0 -4.8,-6 -4.8,6" fill="#8000ff"/></g>
<g transform="translate(482.94 342.41) scale(0.45 0.35)"><polygon points="7.2,0 -4.8,-6 -4.8,6" fill="#8000ff"/></g>
<g transform="translate(489.5 340.65) scale(0.45 0.35)"><polygon points="7.2,0 -4.8,-6 -4.8,6" fill="#8000ff"/></g>
<g transform="translate(496.06 339.59) scale(0.45 0.35)"><polygon points="7.2,0 -4.8,-6 -4.8,6" fill="#8000ff"/></g>
<g transform="translate(502.62 338.54) scale(0.45 0.35)"><polygon points="7.2,0 -4.8,-6 -4.8,6" fill="#8000ff"/></g>
<g transform="translate(509.19 337.13) scale(0.45 0.35)"><polygon points="7.2,0 -4.8,-6 -4.8,6" fill="#8000ff"/></g>
<g transform="translate(515.75 335.73) scale(0.45 0.35)"><polygon points="7.2,0 -4.8,-6 -4.8,6" fill="#8000ff"/></g>
<g transform="translate(522.31 332.56) scale(0.45 0.35)"><polygon points="7.2,0 -4.8,-6 -4.8,6" fill="#8000ff"/></g>
<g transform="translate(528.88 331.15) scale(0.45 0.35)"><polygon points="7.2,0 -4.8,-6 -4.8,6" fill="#8000ff"/></g>
<g transform="translate(535.44 329.75) scale(0.45 0.35)"><polygon points="7.2,0 -4.8,-6 -4.8,6" fill="#8000ff"/></g>
<g transform="translate(542 327.29) scale(0.45 0.35)"><polygon points="7.2,0 -4.8,-6 -4.8,6" fill="#8000ff"/></g>
<g transform="translate(548.56 326.94) scale(0.45 0.35)"><polygon points="7.2,0 -4.8,-6 -4.8,6" fill="#8000ff"/></g>
<g transform="translate(555.12 324.47) scale(0.45 0.35)"><polygon points="7.2,0 -4.8,-6 -4.8,6" fill="#8000ff"/></g>
<g transform="translate(561.69 322.36) scale(0.45 0.35)"><polygon points="7.2,0 -4.8,-6 -4.8,6" fill="#8000ff"/></g>
<g transform="translate(568.25 319.55) scale(0.45 0.35)"><polygon points="7.2,0 -4.8,-6 -4.8,6" fill="#8000ff"/></g>
<g transform="translate(574.81 316.03) scale(0.45 0.35)"><polygon points="7.2,0 -4.8,-6 -4.8,6" fill="#8000ff"/></g>
<g transform="translate(581.38 314.27) scale(0.45 0.35)"><polygon points="7.2,0 -4.8,-6 -4.8,6" fill="#8000ff"/></g>
<g transform="translate(587.94 310.06) scale(0.45 0.35)"><polygon points="7.2,0 -4.8,-6 -4.8,6" fill="#8000ff"/></g>
<g transform="translate(594.5 309.35) scale(0.45 0.35)"><polygon points="7.2,0 -4.8,-6 -4.8,6" fill="#8000ff"/></g>
<g transform="translate(601.06 308.65) scale(0.45 0.35)"><polygon points="7.2,0 -4.8,-6 -4.8,6" fill="#8000ff"/></g>
<g transform="translate(607.62 306.54) scale(0.45 0.35)"><polygon points="7.2,0 -4.8,-6 -4.8,6" fill="#8000ff"/></g>
<g transform="translate(614.19 306.19) scale(0.45 0.35)"><polygon points="7.2,0 -4.8,-6 -4.8,6" fill="#8000ff"/></g>
<g transform="translate(620.75 306.19) scale(0.45 0.35)"><polygon points="7.2,0 -4.8,-6 -4.8,6" fill="#8000ff"/></g>
<g transform="translate(627.31 304.43) scale(0.45 0.35)"><polygon points="7.2,0 -4.8,-6 -4.8,6" fill="#8000ff"/></g>
<g transform="translate(633.88 303.37) scale(0.45 0.35)"><polygon points="7.2,0 -4.8,-6 -4.8,6" fill="#8000ff"/></g>
<polyline points="391.06,387.42 397.62,387.77 404.19,388.12 410.75,384.26 417.31,381.79 423.88,381.44 430.44,380.04 437,376.87 443.56,376.17 450.12,371.95 456.69,369.13 463.25,367.73 469.81,365.27 476.38,362.45 482.94,353.66 489.5,353.31 496.06,352.25 502.62,351.2 509.19,349.79 515.75,348.74 522.31,340.65 528.88,338.54 535.44,337.49 542,335.38 548.56,334.67 555.12,332.56 561.69,329.4 568.25,327.29 574.81,324.47 581.38,323.07 587.94,319.55 594.5,319.2 601.06,318.14 607.62,316.74 614.19,316.03 620.75,315.33 627.31,313.22 633.88,312.17" fill="none" stroke="#800080" stroke-width="0.6"/>
<g transform="translate(391.06 387.42) scale(0.45 0.35)"><polygon points="0,6.2 -5.37,3.1 -5.37,-3.1 -0,-6.2 5.37,-3.1 5.37,3.1" fill="#800080"/></g>
<g transform="translate(397.62 387.77) scale(0.45 0.35)"><polygon points="0,6.2 -5.37,3.1 -5.37,-3.1 -0,-6.2 5.37,-3.1 5.37,3.1" fill="#800080"/></g>
<g transform="translate(404.19 388.12) scale(0.45 0.35)"><polygon points="0,6.2 -5.37,3.1 -5.37,-3.1 -0,-6.2 5.37,-3.1 5.37,3.1" fill="#800080"/></g>
<g transform="translate(410.75 384.26) scale(0.45 0.35)"><polygon points="0,6.2 -5.37,3.1 -5.37,-3.1 -0,-6.2 5.37,-3.1 5.37,3.1" fill="#800080"/></g>
<g transform="translate(417.31 381.79) scale(0.45 0.35)"><polygon points="0,6.2 -5.37,3.1 -5.37,-3.1 -0,-6.2 5.37,-3.1 5.37,3.1" fill="#800080"/></g>
<g transform="translate(423.88 381.44) scale(0.45 0.35)"><polygon points="0,6.2 -5.37,3.1 -5.37,-3.1 -0,-6.2 5.37,-3.1 5.37,3.1" fill="#800080"/></g>
<g transform="translate(430.44 380.04) scale(0.45 0.35)"><polygon points="0,6.2 -5.37,3.1 -5.37,-3.1 -0,-6.2 5.37,-3.1 5.37,3.1" fill="#800080"/></g>
<g transform="translate(437 376.87) scale(0.45 0.35)"><polygon points="0,6.2 -5.37,3.1 -5.37,-3.1 -0,-6.2 5.37,-3.1 5.37,3.1" fill="#800080"/></g>
<g transform="translate(443.56 376.17) scale(0.45 0.35)"><polygon points="0,6.2 -5.37,3.1 -5.37,-3.1 -0,-6.2 5.37,-3.1 5.37,3.1" fill="#800080"/></g>
<g transform="translate(450.12 371.95) scale(0.45 0.35)"><polygon points="0,6.2 -5.37,3.1 -5.37,-3.1 -0,-6.2 5.37,-3.1 5.37,3.1" fill="#800080"/></g>
<g transform="translate(456.69 369.13) scale(0.45 0.35)"><polygon points="0,6.2 -5.37,3.1 -5.37,-3.1 -0,-6.2 5.37,-3.1 5.37,3.1" fill="#800080"/></g>
<g transform="translate(463.25 367.73) scale(0.45 0.35)"><polygon points="0,6.2 -5.37,3.1 -5.37,-3.1 -0,-6.2 5.37,-3.1 5.37,3.1" fill="#800080"/></g>
<g transform="translate(469.81 365.27) scale(0.45 0.35)"><polygon points="0,6.2 -5.37,3.1 -5.37,-3.1 -0,-6.2 5.37,-3.1 5.37,3.1" fill="#800080"/></g>
<g transform="translate(476.38 362.45) scale(0.45 0.35)"><polygon points="0,6.2 -5.37,3.1 -5.37,-3.1 -0,-6.2 5.37,-3.1 5.37,3.1" fill="#800080"/></g>
<g transform="translate(482.94 353.66) scale(0.45 0.35)"><polygon points="0,6.2 -5.37,3.1 -5.37,-3.1 -0,-6.2 5.37,-3.1 5.37,3.1" fill="#800080"/></g>
<g transform="translate(489.5 353.31) scale(0.45 0.35)"><polygon points="0,6.2 -5.37,3.1 -5.37,-3.1 -0,-6.2 5.37,-3.1 5.37,3.1" fill="#800080"/></g>
<g transform="translate(496.06 352.25) scale(0.45 0.35)"><polygon points="0,6.2 -5.37,3.1 -5.37,-3.1 -0,-6.2 5.37,-3.1 5.37,3.1" fill="#800080"/></g>
<g transform="translate(502.62 351.2) scale(0.45 0.35)"><polygon points="0,6.2 -5.37,3.1 -5.37,-3.1 -0,-6.2 5.37,-3.1 5.37,3.1" fill="#800080"/></g>
<g transform="translate(509.19 349.79) scale(0.45 0.35)"><polygon points="0,6.2 -5.37,3.1 -5.37,-3.1 -0,-6.2 5.37,-3.1 5.37,3.1" fill="#800080"/></g>
<g transform="translate(515.75 348.74) scale(0.45 0.35)"><polygon points="0,6.2 -5.37,3.1 -5.37,-3.1 -0,-6.2 5.37,-3.1 5.37,3.1" fill="#800080"/></g>
<g transform="translate(522.31 340.65) scale(0.45 0.35)"><polygon points="0,6.2 -5.37,3.1 -5.37,-3.1 -0,-6.2 5.37,-3.1 5.37,3.1" fill="#800080"/></g>
<g transform="translate(528.88 338.54) scale(0.45 0.35)"><polygon points="0,6.2 -5.37,3.1 -5.37,-3.1 -0,-6.2 5.37,-3.1 5.37,3.1" fill="#800080"/></g>
<g transform="translate(535.44 337.49) scale(0.45 0.35)"><polygon points="0,6.2 -5.37,3.1 -5.37,-3.1 -0,-6.2 5.37,-3.1 5.37,3.1" fill="#800080"/></g>
<g transform="translate(542 335.38) scale(0.45 0.35)"><polygon points="0,6.2 -5.37,3.1 -5.37,-3.1 -0,-6.2 5.37,-3.1 5.37,3.1" fill="#800080"/></g>
<g transform="translate(548.56 334.67) scale(0.45 0.35)"><polygon points="0,6.2 -5.37,3.1 -5.37,-3.1 -0,-6.2 5.37,-3.1 5.37,3.1" fill="#800080"/></g>
<g transform="translate(555.12 332.56) scale(0.45 0.35)"><polygon points="0,6.2 -5.37,3.1 -5.37,-3.1 -0,-6.2 5.37,-3.1 5.37,3.1" fill="#800080"/></g>
<g transform="translate(561.69 329.4) scale(0.45 0.35)"><polygon points="0,6.2 -5.37,3.1 -5.37,-3.1 -0,-6.2 5.37,-3.1 5.37,3.1" fill="#800080"/></g>
<g transform="translate(568.25 327.29) scale(0.45 0.35)"><polygon points="0,6.2 -5.37,3.1 -5.37,-3.1 -0,-6.2 5.37,-3.1 5.37,3.1" fill="#800080"/></g>
<g transform="translate(574.81 324.47) scale(0.45 0.35)"><polygon points="0,6.2 -5.37,3.1 -5.37,-3.1 -0,-6.2 5.37,-3.1 5.37,3.1" fill="#800080"/></g>
<g transform="translate(581.38 323.07) scale(0.45 0.35)"><polygon points="0,6.2 -5.37,3.1 -5.37,-3.1 -0,-6.2 5.37,-3.1 5.37,3.1" fill="#800080"/></g>
<g transform="translate(587.94 319.55) scale(0.45 0.35)"><polygon points="0,6.2 -5.37,3.1 -5.37,-3.1 -0,-6.2 5.37,-3.1 5.37,3.1" fill="#800080"/></g>
<g transform="translate(594.5 319.2) scale(0.45 0.35)"><polygon points="0,6.2 -5.37,3.1 -5.37,-3.1 -0,-6.2 5.37,-3.1 5.37,3.1" fill="#800080"/></g>
<g transform="translate(601.06 318.14) scale(0.45 0.35)"><polygon points="0,6.2 -5.37,3.1 -5.37,-3.1 -0,-6.2 5.37,-3.1 5.37,3.1" fill="#800080"/></g>
<g transform="translate(607.62 316.74) scale(0.45 0.35)"><polygon points="0,6.2 -5.37,3.1 -5.37,-3.1 -0,-6.2 5.37,-3.1 5.37,3.1" fill="#800080"/></g>
<g transform="translate(614.19 316.03) scale(0.45 0.35)"><polygon points="0,6.2 -5.37,3.1 -5.37,-3.1 -0,-6.2 5.37,-3.1 5.37,3.1" fill="#800080"/></g>
<g transform="translate(620.75 315.33) scale(0.45 0.35)"><polygon points="0,6.2 -5.37,3.1 -5.37,-3.1 -0,-6.2 5.37,-3.1 5.37,3.1" fill="#800080"/></g>
<g transform="translate(627.31 313.22) scale(0.45 0.35)"><polygon points="0,6.2 -5.37,3.1 -5.37,-3.1 -0,-6.2 5.37,-3.1 5.37,3.1" fill="#800080"/></g>
<g transform="translate(633.88 312.17) scale(0.45 0.35)"><polygon points="0,6.2 -5.37,3.1 -5.37,-3.1 -0,-6.2 5.37,-3.1 5.37,3.1" fill="#800080"/></g>
<polyline points="391.06,379.69 397.62,382.15 404.19,380.74 410.75,378.63 417.31,375.46 423.88,373.35 430.44,370.54 437,368.08 443.56,365.97 450.12,361.4 456.69,352.25 463.25,352.25 469.81,349.44 476.38,347.68 482.94,340.65 489.5,340.3 496.06,339.59 502.62,339.59 509.19,338.89 515.75,338.19 522.31,329.05 528.88,329.05 535.44,328.69 542,326.58 548.56,325.18 555.12,323.42 561.69,320.61 568.25,317.79 574.81,313.92 581.38,312.17 587.94,306.54 594.5,306.89 601.06,305.84 607.62,304.78 614.19,303.73 620.75,303.02 627.31,301.26 633.88,299.86" fill="none" stroke="#800000" stroke-width="0.6"/>
<g transform="translate(391.06 379.69) scale(0.45 0.35)"><polygon points="0,-6.5 1.6,-2.21 6.18,-2.01 2.6,0.84 3.82,5.26 0,2.73 -3.82,5.26 -2.6,0.84 -6.18,-2.01 -1.6,-2.21" fill="#800000"/></g>
<g transform="translate(397.62 382.15) scale(0.45 0.35)"><polygon points="0,-6.5 1.6,-2.21 6.18,-2.01 2.6,0.84 3.82,5.26 0,2.73 -3.82,5.26 -2.6,0.84 -6.18,-2.01 -1.6,-2.21" fill="#800000"/></g>
<g transform="translate(404.19 380.74) scale(0.45 0.35)"><polygon points="0,-6.5 1.6,-2.21 6.18,-2.01 2.6,0.84 3.82,5.26 0,2.73 -3.82,5.26 -2.6,0.84 -6.18,-2.01 -1.6,-2.21" fill="#800000"/></g>
<g transform="translate(410.75 378.63) scale(0.45 0.35)"><polygon points="0,-6.5 1.6,-2.21 6.18,-2.01 2.6,0.84 3.82,5.26 0,2.73 -3.82,5.26 -2.6,0.84 -6.18,-2.01 -1.6,-2.21" fill="#800000"/></g>
<g transform="translate(417.31 375.46) scale(0.45 0.35)"><polygon points="0,-6.5 1.6,-2.21 6.18,-2.01 2.6,0.84 3.82,5.26 0,2.73 -3.82,5.26 -2.6,0.84 -6.18,-2.01 -1.6,-2.21" fill="#800000"/></g>
<g transform="translate(423.88 373.35) scale(0.45 0.35)"><polygon points="0,-6.5 1.6,-2.21 6.18,-2.01 2.6,0.84 3.82,5.26 0,2.73 -3.82,5.26 -2.6,0.84 -6.18,-2.01 -1.6,-2.21" fill="#800000"/></g>
<g transform="translate(430.44 370.54) scale(0.45 0.35)"><polygon points="0,-6.5 1.6,-2.21 6.18,-2.01 2.6,0.84 3.82,5.26 0,2.73 -3.82,5.26 -2.6,0.84 -6.18,-2.01 -1.6,-2.21" fill="#800000"/></g>
<g transform="translate(437 368.08) scale(0.45 0.35)"><polygon points="0,-6.5 1.6,-2.21 6.18,-2.01 2.6,0.84 3.82,5.26 0,2.73 -3.82,5.26 -2.6,0.84 -6.18,-2.01 -1.6,-2.21" fill="#800000"/></g>
<g transform="translate(443.56 365.97) scale(0.45 0.35)"><polygon points="0,-6.5 1.6,-2.21 6.18,-2.01 2.6,0.84 3.82,5.26 0,2.73 -3.82,5.26 -2.6,0.84 -6.18,-2.01 -1.6,-2.21" fill="#800000"/></g>
<g transform="translate(450.12 361.4) scale(0.45 0.35)"><polygon points="0,-6.5 1.6,-2.21 6.18,-2.01 2.6,0.84 3.82,5.26 0,2.73 -3.82,5.26 -2.6,0.84 -6.18,-2.01 -1.6,-2.21" fill="#800000"/></g>
<g transform="translate(456.69 352.25) scale(0.45 0.35)"><polygon points="0,-6.5 1.6,-2.21 6.18,-2.01 2.6,0.84 3.82,5.26 0,2.73 -3.82,5.26 -2.6,0.84 -6.18,-2.01 -1.6,-2.21" fill="#800000"/></g>
<g transform="translate(463.25 352.25) scale(0.45 0.35)"><polygon points="0,-6.5 1.6,-2.21 6.18,-2.01 2.6,0.84 3.82,5.26 0,2.73 -3.82,5.26 -2.6,0.84 -6.18,-2.01 -1.6,-2.21" fill="#800000"/></g>
<g transform="translate(469.81 349.44) scale(0.45 0.35)"><polygon points="0,-6.5 1.6,-2.21 6.18,-2.01 2.6,0.84 3.82,5.26 0,2.73 -3.82,5.26 -2.6,0.84 -6.18,-2.01 -1.6,-2.21" fill="#800000"/></g>
<g transform="translate(476.38 347.68) scale(0.45 0.35)"><polygon points="0,-6.5 1.6,-2.21 6.18,-2.01 2.6,0.84 3.82,5.26 0,2.73 -3.82,5.26 -2.6,0.84 -6.18,-2.01 -1.6,-2.21" fill="#800000"/></g>
<g transform="translate(482.94 340.65) scale(0.45 0.35)"><polygon points="0,-6.5 1.6,-2.21 6.18,-2.01 2.6,0.84 3.82,5.26 0,2.73 -3.82,5.26 -2.6,0.84 -6.18,-2.01 -1.6,-2.21" fill="#800000"/></g>
<g transform="translate(489.5 340.3) scale(0.45 0.35)"><polygon points="0,-6.5 1.6,-2.21 6.18,-2.01 2.6,0.84 3.82,5.26 0,2.73 -3.82,5.26 -2.6,0.84 -6.18,-2.01 -1.6,-2.21" fill="#800000"/></g>
<g transform="translate(496.06 339.59) scale(0.45 0.35)"><polygon points="0,-6.5 1.6,-2.21 6.18,-2.01 2.6,0.84 3.82,5.26 0,2.73 -3.82,5.26 -2.6,0.84 -6.18,-2.01 -1.6,-2.21" fill="#800000"/></g>
<g transform="translate(502.62 339.59) scale(0.45 0.35)"><polygon points="0,-6.5 1.6,-2.21 6.18,-2.01 2.6,0.84 3.82,5.26 0,2.73 -3.82,5.26 -2.6,0.84 -6.18,-2.01 -1.6,-2.21" fill="#800000"/></g>
<g transform="translate(509.19 338.89) scale(0.45 0.35)"><polygon points="0,-6.5 1.6,-2.21 6.18,-2.01 2.6,0.84 3.82,5.26 0,2.73 -3.82,5.26 -2.6,0.84 -6.18,-2.01 -1.6,-2.21" fill="#800000"/></g>
<g transform="translate(515.75 338.19) scale(0.45 0.35)"><polygon points="0,-6.5 1.6,-2.21 6.18,-2.01 2.6,0.84 3.82,5.26 0,2.73 -3.82,5.26 -2.6,0.84 -6.18,-2.01 -1.6,-2.21" fill="#800000"/></g>
<g transform="translate(522.31 329.05) scale(0.45 0.35)"><polygon points="0,-6.5 1.6,-2.21 6.18,-2.01 2.6,0.84 3.82,5.26 0,2.73 -3.82,5.26 -2.6,0.84 -6.18,-2.01 -1.6,-2.21" fill="#800000"/></g>
<g transform="translate(528.88 329.05) scale(0.45 0.35)"><polygon points="0,-6.5 1.6,-2.21 6.18,-2.01 2.6,0.84 3.82,5.26 0,2.73 -3.82,5.26 -2.6,0.84 -6.18,-2.01 -1.6,-2.21" fill="#800000"/></g>
<g transform="translate(535.44 328.69) scale(0.45 0.35)"><polygon points="0,-6.5 1.6,-2.21 6.18,-2.01 2.6,0.84 3.82,5.26 0,2.73 -3.82,5.26 -2.6,0.84 -6.18,-2.01 -1.6,-2.21" fill="#800000"/></g>
<g transform="translate(542 326.58) scale(0.45 0.35)"><polygon points="0,-6.5 1.6,-2.21 6.18,-2.01 2.6,0.84 3.82,5.26 0,2.73 -3.82,5.26 -2.6,0.84 -6.18,-2.01 -1.6,-2.21" fill="#800000"/></g>
<g transform="translate(548.56 325.18) scale(0.45 0.35)"><polygon points="0,-6.5 1.6,-2.21 6.18,-2.01 2.6,0.84 3.82,5.26 0,2.73 -3.82,5.26 -2.6,0.84 -6.18,-2.01 -1.6,-2.21" fill="#800000"/></g>
<g transform="translate(555.12 323.42) scale(0.45 0.35)"><polygon points="0,-6.5 1.6,-2.21 6.18,-2.01 2.6,0.84 3.82,5.26 0,2.73 -3.82,5.26 -2.6,0.84 -6.18,-2.01 -1.6,-2.21" fill="#800000"/></g>
<g transform="translate(561.69 320.61) scale(0.45 0.35)"><polygon points="0,-6.5 1.6,-2.21 6.18,-2.01 2.6,0.84 3.82,5.26 0,2.73 -3.82,5.26 -2.6,0.84 -6.18,-2.01 -1.6,-2.21" fill="#800000"/></g>
<g transform="translate(568.25 317.79) scale(0.45 0.35)"><polygon points="0,-6.5 1.6,-2.21 6.18,-2.01 2.6,0.84 3.82,5.26 0,2.73 -3.82,5.26 -2.6,0.84 -6.18,-2.01 -1.6,-2.21" fill="#800000"/></g>
<g transform="translate(574.81 313.92) scale(0.45 0.35)"><polygon points="0,-6.5 1.6,-2.21 6.18,-2.01 2.6,0.84 3.82,5.26 0,2.73 -3.82,5.26 -2.6,0.84 -6.18,-2.01 -1.6,-2.21" fill="#800000"/></g>
<g transform="translate(581.38 312.17) scale(0.45 0.35)"><polygon points="0,-6.5 1.6,-2.21 6.18,-2.01 2.6,0.84 3.82,5.26 0,2.73 -3.82,5.26 -2.6,0.84 -6.18,-2.01 -1.6,-2.21" fill="#800000"/></g>
<g transform="translate(587.94 306.54) scale(0.45 0.35)"><polygon points="0,-6.5 1.6,-2.21 6.18,-2.01 2.6,0.84 3.82,5.26 0,2.73 -3.82,5.26 -2.6,0.84 -6.18,-2.01 -1.6,-2.21" fill="#800000"/></g>
<g transform="translate(594.5 306.89) scale(0.45 0.35)"><polygon points="0,-6.5 1.6,-2.21 6.18,-2.01 2.6,0.84 3.82,5.26 0,2.73 -3.82,5.26 -2.6,0.84 -6.18,-2.01 -1.6,-2.21" fill="#800000"/></g>
<g transform="translate(601.06 305.84) scale(0.45 0.35)"><polygon points="0,-6.5 1.6,-2.21 6.18,-2.01 2.6,0.84 3.82,5.26 0,2.73 -3.82,5.26 -2.6,0.84 -6.18,-2.01 -1.6,-2.21" fill="#800000"/></g>
<g transform="translate(607.62 304.78) scale(0.45 0.35)"><polygon points="0,-6.5 1.6,-2.21 6.18,-2.01 2.6,0.84 3.82,5.26 0,2.73 -3.82,5.26 -2.6,0.84 -6.18,-2.01 -1.6,-2.21" fill="#800000"/></g>
<g transform="translate(614.19 303.73) scale(0.45 0.35)"><polygon points="0,-6.5 1.6,-2.21 6.18,-2.01 2.6,0.84 3.82,5.26 0,2.73 -3.82,5.26 -2.6,0.84 -6.18,-2.01 -1.6,-2.21" fill="#800000"/></g>
<g transform="translate(620.75 303.02) scale(0.45 0.35)"><polygon points="0,-6.5 1.6,-2.21 6.18,-2.01 2.6,0.84 3.82,5.26 0,2.73 -3.82,5.26 -2.6,0.84 -6.18,-2.01 -1.6,-2.21" fill="#800000"/></g>
<g transform="translate(627.31 301.26) scale(0.45 0.35)"><polygon points="0,-6.5 1.6,-2.21 6.18,-2.01 2.6,0.84 3.82,5.26 0,2.73 -3.82,5.26 -2.6,0.84 -6.18,-2.01 -1.6,-2.21" fill="#800000"/></g>
<g transform="translate(633.88 299.86) scale(0.45 0.35)"><polygon points="0,-6.5 1.6,-2.21 6.18,-2.01 2.6,0.84 3.82,5.26 0,2.73 -3.82,5.26 -2.6,0.84 -6.18,-2.01 -1.6,-2.21" fill="#800000"/></g>
<polyline points="391.06,378.28 397.62,380.74 404.19,379.33 410.75,377.22 417.31,374.06 423.88,371.95 430.44,369.13 437,366.67 443.56,364.56 450.12,357.18 456.69,348.03 463.25,348.03 469.81,345.22 476.38,343.46 482.94,336.43 489.5,336.08 496.06,335.38 502.62,335.38 509.19,334.67 515.75,333.97 522.31,327.64 528.88,327.64 535.44,327.29 542,325.18 548.56,323.77 555.12,322.01 561.69,319.2 568.25,316.38 574.81,312.52 581.38,310.76 587.94,305.13 594.5,305.48 601.06,304.43 607.62,303.37 614.19,302.32 620.75,301.62 627.31,299.86 633.88,298.45" fill="none" stroke="#808000" stroke-width="0.6"/>
<g transform="translate(391.06 378.28) scale(0.45 0.35)"><polygon points="0,-6.3 5.99,-1.95 3.7,5.1 -3.7,5.1 -5.99,-1.95" fill="#808000"/></g>
<g transform="translate(397.62 380.74) scale(0.45 0.35)"><polygon points="0,-6.3 5.99,-1.95 3.7,5.1 -3.7,5.1 -5.99,-1.95" fill="#808000"/></g>
<g transform="translate(404.19 379.33) scale(0.45 0.35)"><polygon points="0,-6.3 5.99,-1.95 3.7,5.1 -3.7,5.1 -5.99,-1.95" fill="#808000"/></g>
<g transform="translate(410.75 377.22) scale(0.45 0.35)"><polygon points="0,-6.3 5.99,-1.95 3.7,5.1 -3.7,5.1 -5.99,-1.95" fill="#808000"/></g>
<g transform="translate(417.31 374.06) scale(0.45 0.35)"><polygon points="0,-6.3 5.99,-1.95 3.7,5.1 -3.7,5.1 -5.99,-1.95" fill="#808000"/></g>
<g transform="translate(423.88 371.95) scale(0.45 0.35)"><polygon points="0,-6.3 5.99,-1.95 3.7,5.1 -3.7,5.1 -5.99,-1.95" fill="#808000"/></g>
<g transform="translate(430.44 369.13) scale(0.45 0.35)"><polygon points="0,-6.3 5.99,-1.95 3.7,5.1 -3.7,5.1 -5.99,-1.95" fill="#808000"/></g>
<g transform="translate(437 366.67) scale(0.45 0.35)"><polygon points="0,-6.3 5.99,-1.95 3.7,5.1 -3.7,5.1 -5.99,-1.95" fill="#808000"/></g>
<g transform="translate(443.56 364.56) scale(0.45 0.35)"><polygon points="0,-6.3 5.99,-1.95 3.7,5.1 -3.7,5.1 -5.99,-1.95" fill="#808000"/></g>
<g transform="translate(450.12 357.18) scale(0.45 0.35)"><polygon points="0,-6.3 5.99,-1.95 3.7,5.1 -3.7,5.1 -5.99,-1.95" fill="#808000"/></g>
<g transform="translate(456.69 348.03) scale(0.45 0.35)"><polygon points="0,-6.3 5.99,-1.95 3.7,5.1 -3.7,5.1 -5.99,-1.95" fill="#808000"/></g>
<g transform="translate(463.25 348.03) scale(0.45 0.35)"><polygon points="0,-6.3 5.99,-1.95 3.7,5.1 -3.7,5.1 -5.99,-1.95" fill="#808000"/></g>
<g transform="translate(469.81 345.22) scale(0.45 0.35)"><polygon points="0,-6.3 5.99,-1.95 3.7,5.1 -3.7,5.1 -5.99,-1.95" fill="#808000"/></g>
<g transform="translate(476.38 343.46) scale(0.45 0.35)"><polygon points="0,-6.3 5.99,-1.95 3.7,5.1 -3.7,5.1 -5.99,-1.95" fill="#808000"/></g>
<g transform="translate(482.94 336.43) scale(0.45 0.35)"><polygon points="0,-6.3 5.99,-1.95 3.7,5.1 -3.7,5.1 -5.99,-1.95" fill="#808000"/></g>
<g transform="translate(489.5 336.08) scale(0.45 0.35)"><polygon points="0,-6.3 5.99,-1.95 3.7,5.1 -3.7,5.1 -5.99,-1.95" fill="#808000"/></g>
<g transform="translate(496.06 335.38) scale(0.45 0.35)"><polygon points="0,-6.3 5.99,-1.95 3.7,5.1 -3.7,5.1 -5.99,-1.95" fill="#808000"/></g>
<g transform="translate(502.62 335.38) scale(0.45 0.35)"><polygon points="0,-6.3 5.99,-1.95 3.7,5.1 -3.7,5.1 -5.99,-1.95" fill="#808000"/></g>
<g transform="translate(509.19 334.67) scale(0.45 0.35)"><polygon points="0,-6.3 5.99,-1.95 3.7,5.1 -3.7,5.1 -5.99,-1.95" fill="#808000"/></g>
<g transform="translate(515.75 333.97) scale(0.45 0.35)"><polygon points="0,-6.3 5.99,-1.95 3.7,5.1 -3.7,5.1 -5.99,-1.95" fill="#808000"/></g>
<g transform="translate(522.31 327.64) scale(0.45 0.35)"><polygon points="0,-6.3 5.99,-1.95 3.7,5.1 -3.7,5.1 -5.99,-1.95" fill="#808000"/></g>
<g transform="translate(528.88 327.64) scale(0.45 0.35)"><polygon points="0,-6.3 5.99,-1.95 3.7,5.1 -3.7,5.1 -5.99,-1.95" fill="#808000"/></g>
<g transform="translate(535.44 327.29) scale(0.45 0.35)"><polygon points="0,-6.3 5.99,-1.95 3.7,5.1 -3.7,5.1 -5.99,-1.95" fill="#808000"/></g>
<g transform="translate(542 325.18) scale(0.45 0.35)"><polygon points="0,-6.3 5.99,-1.95 3.7,5.1 -3.7,5.1 -5.99,-1.95" fill="#808000"/></g>
<g transform="translate(548.56 323.77) scale(0.45 0.35)"><polygon points="0,-6.3 5.99,-1.95 3.7,5.1 -3.7,5.1 -5.99,-1.95" fill="#808000"/></g>
<g transform="translate(555.12 322.01) scale(0.45 0.35)"><polygon points="0,-6.3 5.99,-1.95 3.7,5.1 -3.7,5.1 -5.99,-1.95" fill="#808000"/></g>
<g transform="translate(561.69 319.2) scale(0.45 0.35)"><polygon points="0,-6.3 5.99,-1.95 3.7,5.1 -3.7,5.1 -5.99,-1.95" fill="#808000"/></g>
<g transform="translate(568.25 316.38) scale(0.45 0.35)"><polygon points="0,-6.3 5.99,-1.95 3.7,5.1 -3.7,5.1 -5.99,-1.95" fill="#808000"/></g>
<g transform="translate(574.81 312.52) scale(0.45 0.35)"><polygon points="0,-6.3 5.99,-1.95 3.7,5.1 -3.7,5.1 -5.99,-1.95" fill="#808000"/></g>
<g transform="translate(581.38 310.76) scale(0.45 0.35)"><polygon points="0,-6.3 5.99,-1.95 3.7,5.1 -3.7,5.1 -5.99,-1.95" fill="#808000"/></g>
<g transform="translate(587.94 305.13) scale(0.45 0.35)"><polygon points="0,-6.3 5.99,-1.95 3.7,5.1 -3.7,5.1 -5.99,-1.95" fill="#808000"/></g>
<g transform="translate(594.5 305.48) scale(0.45 0.35)"><polygon points="0,-6.3 5.99,-1.95 3.7,5.1 -3.7,5.1 -5.99,-1.95" fill="#808000"/></g>
<g transform="translate(601.06 304.43) scale(0.45 0.35)"><polygon points="0,-6.3 5.99,-1.95 3.7,5.1 -3.7,5.1 -5.99,-1.95" fill="#808000"/></g>
<g transform="translate(607.62 303.37) scale(0.45 0.35)"><polygon points="0,-6.3 5.99,-1.95 3.7,5.1 -3.7,5.1 -5.99,-1.95" fill="#808000"/></g>
<g transform="translate(614.19 302.32) scale(0.45 0.35)"><polygon points="0,-6.3 5.99,-1.95 3.7,5.1 -3.7,5.1 -5.99,-1.95" fill="#808000"/></g>
<g transform="translate(620.75 301.62) scale(0.45 0.35)"><polygon points="0,-6.3 5.99,-1.95 3.7,5.1 -3.7,5.1 -5.99,-1.95" fill="#808000"/></g>
<g transform="translate(627.31 299.86) scale(0.45 0.35)"><polygon points="0,-6.3 5.99,-1.95 3.7,5.1 -3.7,5.1 -5.99,-1.95" fill="#808000"/></g>
<g transform="translate(633.88 298.45) scale(0.45 0.35)"><polygon points="0,-6.3 5.99,-1.95 3.7,5.1 -3.7,5.1 -5.99,-1.95" fill="#808000"/></g>
<polyline points="391.06,384.96 397.62,385.66 404.19,381.44 410.75,379.33 417.31,375.46 423.88,371.95 430.44,369.13 437,366.67 443.56,364.21 450.12,354.72 456.69,351.2 463.25,350.5 469.81,348.74 476.38,343.81 482.94,332.56 489.5,331.86 496.06,330.8 502.62,330.45 509.19,327.29 515.75,326.58 522.31,316.38 528.88,316.74 535.44,316.03 542,313.57 548.56,312.52 555.12,310.06 561.69,307.95 568.25,305.13 574.81,299.5 581.38,295.29 587.94,290.71 594.5,290.36 601.06,289.31 607.62,286.49 614.19,286.14 620.75,286.49 627.31,285.44 633.88,283.33" fill="none" stroke="#606060" stroke-width="0.6"/>
<g transform="translate(391.06 384.96) scale(0.45 0.35)"><circle cx="0" cy="0" r="5.4" fill="url(#sph2)"/></g>
<g transform="translate(397.62 385.66) scale(0.45 0.35)"><circle cx="0" cy="0" r="5.4" fill="url(#sph2)"/></g>
<g transform="translate(404.19 381.44) scale(0.45 0.35)"><circle cx="0" cy="0" r="5.4" fill="url(#sph2)"/></g>
<g transform="translate(410.75 379.33) scale(0.45 0.35)"><circle cx="0" cy="0" r="5.4" fill="url(#sph2)"/></g>
<g transform="translate(417.31 375.46) scale(0.45 0.35)"><circle cx="0" cy="0" r="5.4" fill="url(#sph2)"/></g>
<g transform="translate(423.88 371.95) scale(0.45 0.35)"><circle cx="0" cy="0" r="5.4" fill="url(#sph2)"/></g>
<g transform="translate(430.44 369.13) scale(0.45 0.35)"><circle cx="0" cy="0" r="5.4" fill="url(#sph2)"/></g>
<g transform="translate(437 366.67) scale(0.45 0.35)"><circle cx="0" cy="0" r="5.4" fill="url(#sph2)"/></g>
<g transform="translate(443.56 364.21) scale(0.45 0.35)"><circle cx="0" cy="0" r="5.4" fill="url(#sph2)"/></g>
<g transform="translate(450.12 354.72) scale(0.45 0.35)"><circle cx="0" cy="0" r="5.4" fill="url(#sph2)"/></g>
<g transform="translate(456.69 351.2) scale(0.45 0.35)"><circle cx="0" cy="0" r="5.4" fill="url(#sph2)"/></g>
<g transform="translate(463.25 350.5) scale(0.45 0.35)"><circle cx="0" cy="0" r="5.4" fill="url(#sph2)"/></g>
<g transform="translate(469.81 348.74) scale(0.45 0.35)"><circle cx="0" cy="0" r="5.4" fill="url(#sph2)"/></g>
<g transform="translate(476.38 343.81) scale(0.45 0.35)"><circle cx="0" cy="0" r="5.4" fill="url(#sph2)"/></g>
<g transform="translate(482.94 332.56) scale(0.45 0.35)"><circle cx="0" cy="0" r="5.4" fill="url(#sph2)"/></g>
<g transform="translate(489.5 331.86) scale(0.45 0.35)"><circle cx="0" cy="0" r="5.4" fill="url(#sph2)"/></g>
<g transform="translate(496.06 330.8) scale(0.45 0.35)"><circle cx="0" cy="0" r="5.4" fill="url(#sph2)"/></g>
<g transform="translate(502.62 330.45) scale(0.45 0.35)"><circle cx="0" cy="0" r="5.4" fill="url(#sph2)"/></g>
<g transform="translate(509.19 327.29) scale(0.45 0.35)"><circle cx="0" cy="0" r="5.4" fill="url(#sph2)"/></g>
<g transform="translate(515.75 326.58) scale(0.45 0.35)"><circle cx="0" cy="0" r="5.4" fill="url(#sph2)"/></g>
<g transform="translate(522.31 316.38) scale(0.45 0.35)"><circle cx="0" cy="0" r="5.4" fill="url(#sph2)"/></g>
<g transform="translate(528.88 316.74) scale(0.45 0.35)"><circle cx="0" cy="0" r="5.4" fill="url(#sph2)"/></g>
<g transform="translate(535.44 316.03) scale(0.45 0.35)"><circle cx="0" cy="0" r="5.4" fill="url(#sph2)"/></g>
<g transform="translate(542 313.57) scale(0.45 0.35)"><circle cx="0" cy="0" r="5.4" fill="url(#sph2)"/></g>
<g transform="translate(548.56 312.52) scale(0.45 0.35)"><circle cx="0" cy="0" r="5.4" fill="url(#sph2)"/></g>
<g transform="translate(555.12 310.06) scale(0.45 0.35)"><circle cx="0" cy="0" r="5.4" fill="url(#sph2)"/></g>
<g transform="translate(561.69 307.95) scale(0.45 0.35)"><circle cx="0" cy="0" r="5.4" fill="url(#sph2)"/></g>
<g transform="translate(568.25 305.13) scale(0.45 0.35)"><circle cx="0" cy="0" r="5.4" fill="url(#sph2)"/></g>
<g transform="translate(574.81 299.5) scale(0.45 0.35)"><circle cx="0" cy="0" r="5.4" fill="url(#sph2)"/></g>
<g transform="translate(581.38 295.29) scale(0.45 0.35)"><circle cx="0" cy="0" r="5.4" fill="url(#sph2)"/></g>
<g transform="translate(587.94 290.71) scale(0.45 0.35)"><circle cx="0" cy="0" r="5.4" fill="url(#sph2)"/></g>
<g transform="translate(594.5 290.36) scale(0.45 0.35)"><circle cx="0" cy="0" r="5.4" fill="url(#sph2)"/></g>
<g transform="translate(601.06 289.31) scale(0.45 0.35)"><circle cx="0" cy="0" r="5.4" fill="url(#sph2)"/></g>
<g transform="translate(607.62 286.49) scale(0.45 0.35)"><circle cx="0" cy="0" r="5.4" fill="url(#sph2)"/></g>
<g transform="translate(614.19 286.14) scale(0.45 0.35)"><circle cx="0" cy="0" r="5.4" fill="url(#sph2)"/></g>
<g transform="translate(620.75 286.49) scale(0.45 0.35)"><circle cx="0" cy="0" r="5.4" fill="url(#sph2)"/></g>
<g transform="translate(627.31 285.44) scale(0.45 0.35)"><circle cx="0" cy="0" r="5.4" fill="url(#sph2)"/></g>
<g transform="translate(633.88 283.33) scale(0.45 0.35)"><circle cx="0" cy="0" r="5.4" fill="url(#sph2)"/></g>
<polyline points="391.06,383.55 397.62,383.9 404.19,380.04 410.75,377.57 417.31,373.71 423.88,370.54 430.44,367.73 437,365.27 443.56,362.45 450.12,355.42 456.69,351.2 463.25,350.5 469.81,348.39 476.38,344.87 482.94,337.13 489.5,336.43 496.06,335.02 502.62,334.32 509.19,332.56 515.75,331.15 522.31,322.72 528.88,322.36 535.44,321.31 542,319.55 548.56,318.14 555.12,316.03 561.69,313.57 568.25,310.76 574.81,306.89 581.38,303.37 587.94,299.86 594.5,299.15 601.06,297.75 607.62,295.64 614.19,294.23 620.75,293.53 627.31,292.12 633.88,290.36" fill="none" stroke="#ffc0ff" stroke-width="0.5"/>
<g transform="translate(391.06 383.55) scale(0.45 0.35)"><path d="M-5.5 0H5.5M0 -5.5V5.5" stroke="#ff80ff" stroke-width="1.2" fill="none"/></g>
<g transform="translate(397.62 383.9) scale(0.45 0.35)"><path d="M-5.5 0H5.5M0 -5.5V5.5" stroke="#ff80ff" stroke-width="1.2" fill="none"/></g>
<g transform="translate(404.19 380.04) scale(0.45 0.35)"><path d="M-5.5 0H5.5M0 -5.5V5.5" stroke="#ff80ff" stroke-width="1.2" fill="none"/></g>
<g transform="translate(410.75 377.57) scale(0.45 0.35)"><path d="M-5.5 0H5.5M0 -5.5V5.5" stroke="#ff80ff" stroke-width="1.2" fill="none"/></g>
<g transform="translate(417.31 373.71) scale(0.45 0.35)"><path d="M-5.5 0H5.5M0 -5.5V5.5" stroke="#ff80ff" stroke-width="1.2" fill="none"/></g>
<g transform="translate(423.88 370.54) scale(0.45 0.35)"><path d="M-5.5 0H5.5M0 -5.5V5.5" stroke="#ff80ff" stroke-width="1.2" fill="none"/></g>
<g transform="translate(430.44 367.73) scale(0.45 0.35)"><path d="M-5.5 0H5.5M0 -5.5V5.5" stroke="#ff80ff" stroke-width="1.2" fill="none"/></g>
<g transform="translate(437 365.27) scale(0.45 0.35)"><path d="M-5.5 0H5.5M0 -5.5V5.5" stroke="#ff80ff" stroke-width="1.2" fill="none"/></g>
<g transform="translate(443.56 362.45) scale(0.45 0.35)"><path d="M-5.5 0H5.5M0 -5.5V5.5" stroke="#ff80ff" stroke-width="1.2" fill="none"/></g>
<g transform="translate(450.12 355.42) scale(0.45 0.35)"><path d="M-5.5 0H5.5M0 -5.5V5.5" stroke="#ff80ff" stroke-width="1.2" fill="none"/></g>
<g transform="translate(456.69 351.2) scale(0.45 0.35)"><path d="M-5.5 0H5.5M0 -5.5V5.5" stroke="#ff80ff" stroke-width="1.2" fill="none"/></g>
<g transform="translate(463.25 350.5) scale(0.45 0.35)"><path d="M-5.5 0H5.5M0 -5.5V5.5" stroke="#ff80ff" stroke-width="1.2" fill="none"/></g>
<g transform="translate(469.81 348.39) scale(0.45 0.35)"><path d="M-5.5 0H5.5M0 -5.5V5.5" stroke="#ff80ff" stroke-width="1.2" fill="none"/></g>
<g transform="translate(476.38 344.87) scale(0.45 0.35)"><path d="M-5.5 0H5.5M0 -5.5V5.5" stroke="#ff80ff" stroke-width="1.2" fill="none"/></g>
<g transform="translate(482.94 337.13) scale(0.45 0.35)"><path d="M-5.5 0H5.5M0 -5.5V5.5" stroke="#ff80ff" stroke-width="1.2" fill="none"/></g>
<g transform="translate(489.5 336.43) scale(0.45 0.35)"><path d="M-5.5 0H5.5M0 -5.5V5.5" stroke="#ff80ff" stroke-width="1.2" fill="none"/></g>
<g transform="translate(496.06 335.02) scale(0.45 0.35)"><path d="M-5.5 0H5.5M0 -5.5V5.5" stroke="#ff80ff" stroke-width="1.2" fill="none"/></g>
<g transform="translate(502.62 334.32) scale(0.45 0.35)"><path d="M-5.5 0H5.5M0 -5.5V5.5" stroke="#ff80ff" stroke-width="1.2" fill="none"/></g>
<g transform="translate(509.19 332.56) scale(0.45 0.35)"><path d="M-5.5 0H5.5M0 -5.5V5.5" stroke="#ff80ff" stroke-width="1.2" fill="none"/></g>
<g transform="translate(515.75 331.15) scale(0.45 0.35)"><path d="M-5.5 0H5.5M0 -5.5V5.5" stroke="#ff80ff" stroke-width="1.2" fill="none"/></g>
<g transform="translate(522.31 322.72) scale(0.45 0.35)"><path d="M-5.5 0H5.5M0 -5.5V5.5" stroke="#ff80ff" stroke-width="1.2" fill="none"/></g>
<g transform="translate(528.88 322.36) scale(0.45 0.35)"><path d="M-5.5 0H5.5M0 -5.5V5.5" stroke="#ff80ff" stroke-width="1.2" fill="none"/></g>
<g transform="translate(535.44 321.31) scale(0.45 0.35)"><path d="M-5.5 0H5.5M0 -5.5V5.5" stroke="#ff80ff" stroke-width="1.2" fill="none"/></g>
<g transform="translate(542 319.55) scale(0.45 0.35)"><path d="M-5.5 0H5.5M0 -5.5V5.5" stroke="#ff80ff" stroke-width="1.2" fill="none"/></g>
<g transform="translate(548.56 318.14) scale(0.45 0.35)"><path d="M-5.5 0H5.5M0 -5.5V5.5" stroke="#ff80ff" stroke-width="1.2" fill="none"/></g>
<g transform="translate(555.12 316.03) scale(0.45 0.35)"><path d="M-5.5 0H5.5M0 -5.5V5.5" stroke="#ff80ff" stroke-width="1.2" fill="none"/></g>
<g transform="translate(561.69 313.57) scale(0.45 0.35)"><path d="M-5.5 0H5.5M0 -5.5V5.5" stroke="#ff80ff" stroke-width="1.2" fill="none"/></g>
<g transform="translate(568.25 310.76) scale(0.45 0.35)"><path d="M-5.5 0H5.5M0 -5.5V5.5" stroke="#ff80ff" stroke-width="1.2" fill="none"/></g>
<g transform="translate(574.81 306.89) scale(0.45 0.35)"><path d="M-5.5 0H5.5M0 -5.5V5.5" stroke="#ff80ff" stroke-width="1.2" fill="none"/></g>
<g transform="translate(581.38 303.37) scale(0.45 0.35)"><path d="M-5.5 0H5.5M0 -5.5V5.5" stroke="#ff80ff" stroke-width="1.2" fill="none"/></g>
<g transform="translate(587.94 299.86) scale(0.45 0.35)"><path d="M-5.5 0H5.5M0 -5.5V5.5" stroke="#ff80ff" stroke-width="1.2" fill="none"/></g>
<g transform="translate(594.5 299.15) scale(0.45 0.35)"><path d="M-5.5 0H5.5M0 -5.5V5.5" stroke="#ff80ff" stroke-width="1.2" fill="none"/></g>
<g transform="translate(601.06 297.75) scale(0.45 0.35)"><path d="M-5.5 0H5.5M0 -5.5V5.5" stroke="#ff80ff" stroke-width="1.2" fill="none"/></g>
<g transform="translate(607.62 295.64) scale(0.45 0.35)"><path d="M-5.5 0H5.5M0 -5.5V5.5" stroke="#ff80ff" stroke-width="1.2" fill="none"/></g>
<g transform="translate(614.19 294.23) scale(0.45 0.35)"><path d="M-5.5 0H5.5M0 -5.5V5.5" stroke="#ff80ff" stroke-width="1.2" fill="none"/></g>
<g transform="translate(620.75 293.53) scale(0.45 0.35)"><path d="M-5.5 0H5.5M0 -5.5V5.5" stroke="#ff80ff" stroke-width="1.2" fill="none"/></g>
<g transform="translate(627.31 292.12) scale(0.45 0.35)"><path d="M-5.5 0H5.5M0 -5.5V5.5" stroke="#ff80ff" stroke-width="1.2" fill="none"/></g>
<g transform="translate(633.88 290.36) scale(0.45 0.35)"><path d="M-5.5 0H5.5M0 -5.5V5.5" stroke="#ff80ff" stroke-width="1.2" fill="none"/></g>
<path d="M288.6 402.8L357 364.5" stroke="#000" stroke-width="2.6"/>
<polygon points="365.5,360.2 352.6,359.2 357.8,368.6" fill="#000"/>
</svg></body></html>
